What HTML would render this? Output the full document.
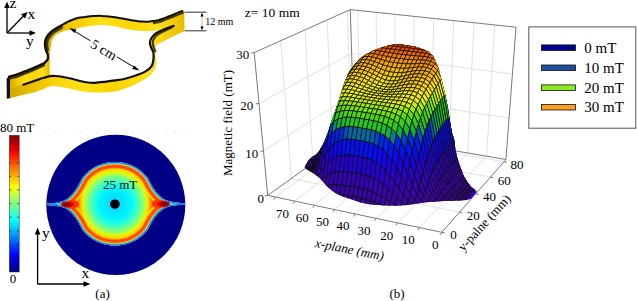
<!DOCTYPE html><html><head><meta charset="utf-8"><style>html,body{margin:0;padding:0;background:#fff;width:637px;height:301px;overflow:hidden}svg{display:block}</style></head><body><svg width="637" height="301" viewBox="0 0 637 301"><defs><clipPath id="sclip"><path d="M304.7,167.6L305.5,165.4L307.7,161.6L309.9,158.7L312.0,156.8L314.7,155.2L318.6,151.9L322.0,146.6L324.6,141.2L326.6,135.9L328.6,130.6L330.3,125.3L331.9,120.0L333.0,117.0L335.5,110.0L338.0,102.5L340.5,95.0L343.0,86.5L345.2,80.5L346.6,77.8L348.0,73.9L350.6,69.2L354.6,63.9L359.9,58.6L366.6,53.9L373.2,50.6L379.8,48.0L386.5,46.0L393.1,44.4L400.0,44.2L408.3,45.5L416.6,47.1L423.3,49.3L429.1,52.1L433.2,56.3L436.5,62.9L439.0,69.6L440.7,76.2L442.4,82.9L443.5,87.8L445.0,93.3L446.6,101.6L448.3,110.0L449.6,118.2L450.8,126.5L452.3,134.0L454.0,139.1L455.2,148.3L457.2,157.4L460.1,166.5L463.7,175.7L466.8,181.0L468.9,184.1L471.0,186.7L473.0,188.3L475.1,189.8L476.9,191.9L475.1,194.0L473.0,196.6L471.0,198.7L466.8,199.9L456.5,200.4L446.1,200.7L435.7,201.5L425.4,202.3L415.0,203.8L407.2,205.1L397.7,205.4L388.3,205.4L378.9,205.1L369.4,204.2L360.0,202.2L355.0,200.4L350.0,198.8L345.0,197.2L340.0,195.3L335.0,192.8L332.0,190.6L328.0,187.2L324.0,182.8L320.0,178.3L315.0,174.3L310.0,171.1L307.0,169.6Z"/></clipPath><linearGradient id="sbase" gradientUnits="userSpaceOnUse" x1="0" y1="40" x2="0" y2="210"><stop offset="0" stop-color="#e04000"/><stop offset="0.1" stop-color="#f07000"/><stop offset="0.25" stop-color="#e8c000"/><stop offset="0.4" stop-color="#c0e000"/><stop offset="0.5" stop-color="#30b020"/><stop offset="0.57" stop-color="#0060b0"/><stop offset="0.65" stop-color="#1010e0"/><stop offset="0.8" stop-color="#3000c0"/><stop offset="1" stop-color="#3c00a0"/></linearGradient></defs><!-- top-left axes glyph -->
<g stroke="#000" stroke-width="1.3" fill="none">
<line x1="7" y1="33" x2="7" y2="6"/>
<line x1="7" y1="33" x2="31" y2="33"/>
<line x1="7" y1="33" x2="24" y2="15.5"/>
</g>
<g fill="#000">
<polygon points="7,1.5 4.2,8 9.8,8"/>
<polygon points="36,33 29.5,30.2 29.5,35.8"/>
<polygon points="27.5,12 21,14.3 25.2,18.5"/>
</g>
<g font-family="Liberation Serif, serif" font-size="15.5" fill="#000">
<text x="9.5" y="8">z</text>
<text x="27.5" y="19">x</text>
<text x="26" y="46">y</text>
</g>
<!-- ring -->
<defs><linearGradient id="gold" x1="0" y1="0" x2="1" y2="0"><stop offset="0" stop-color="#d4aa00"/><stop offset="0.2" stop-color="#f4cc00"/><stop offset="0.4" stop-color="#ffe018"/><stop offset="0.6" stop-color="#f8d400"/><stop offset="0.8" stop-color="#ffe020"/><stop offset="1" stop-color="#e8bc00"/></linearGradient></defs>
<path fill="url(#gold)" d="M45.0,44.0 C45.1,43.2 45.0,41.0 45.5,39.5 C46.0,38.0 46.8,36.5 48.0,35.0 C49.2,33.5 50.8,32.0 53.0,30.5 C55.2,28.9 58.7,27.1 61.0,25.7 C63.3,24.3 65.0,23.2 67.0,22.2 C69.0,21.2 71.1,20.3 73.3,19.5 C75.5,18.7 77.5,18.1 80.0,17.6 C82.5,17.1 85.8,16.7 88.3,16.4 C90.8,16.1 92.8,16.1 95.0,16.0 C97.2,15.9 99.3,15.8 101.5,15.9 C103.7,16.0 105.8,16.2 108.0,16.4 C110.2,16.6 112.6,16.9 114.8,17.2 C117.0,17.5 118.8,17.9 121.0,18.3 C123.2,18.7 125.7,19.2 128.0,19.6 C130.3,20.0 132.7,20.5 135.0,20.8 C137.3,21.1 139.8,21.5 142.0,21.6 C144.2,21.8 146.0,21.8 148.0,21.7 C150.0,21.6 152.2,21.4 153.9,21.1 C155.7,20.8 156.9,20.5 158.5,20.1 C160.1,19.7 161.5,19.2 163.2,18.6 C164.9,18.0 166.7,17.2 168.5,16.5 C170.3,15.8 172.2,15.1 173.8,14.4 C175.4,13.8 176.6,13.2 178.0,12.6 C179.4,12.0 181.7,11.3 182.4,11.0 L184.4,11.6 L184.4,27.0 C182.6,26.8 177.9,25.5 173.8,26.0 C169.7,26.5 164.3,29.2 160.0,30.0 C155.7,30.8 151.3,30.9 148.0,31.0 C144.7,31.1 143.3,31.2 140.0,30.9 C136.7,30.6 132.2,30.0 128.0,29.2 C123.8,28.4 119.2,26.9 114.8,26.2 C110.4,25.5 105.9,24.9 101.5,24.9 C97.1,24.9 92.7,25.5 88.3,26.2 C83.9,26.9 78.7,28.2 75.0,28.9 C71.3,29.6 68.5,29.9 66.0,30.5 C63.5,31.1 61.8,31.7 60.0,32.5 C58.2,33.3 56.3,34.2 55.0,35.5 C53.7,36.8 52.7,38.4 52.0,40.0 C51.3,41.6 51.3,43.3 51.0,45.0 C50.7,46.7 50.5,48.5 50.3,50.0 C50.0,51.5 50.3,53.7 49.5,54.0 C48.7,54.3 46.2,52.3 45.5,52.0 Z"/>
<polygon fill="url(#gold)" points="45.5,50.6 47.5,54.5 47.5,59.0 44.3,63.0 41.6,64.5 33.3,68.3 25.0,71.6 16.6,75.0 10.0,76.6 10.0,90.0 23.3,84.5 38.3,79.6 45.0,77.5 50.0,76.0 49.5,68.0 50.0,60.0 49.5,52.0"/>
<path fill="url(#gold)" d="M184.4,26.0 L173.8,25.6 C172.0,26.3 166.3,28.3 163.2,29.6 C160.1,30.9 157.2,32.2 155.2,33.6 C153.2,35.0 152.1,36.8 151.2,38.3 C150.3,39.8 149.9,40.8 149.9,42.3 C149.9,43.8 150.6,46.0 151.2,47.6 C151.8,49.2 152.8,50.3 153.2,51.6 C153.6,52.9 153.6,54.1 153.6,55.5 C153.6,56.9 153.7,58.2 153.3,60.0 C153.0,61.8 152.8,64.3 151.5,66.2 C150.2,68.1 148.2,69.6 145.5,71.2 C142.8,72.8 138.4,74.4 135.0,75.6 C131.6,76.8 128.3,77.7 125.0,78.5 C121.7,79.3 118.3,79.7 115.0,80.2 C111.7,80.7 108.3,81.2 105.0,81.6 C101.7,82.0 97.8,82.5 95.0,82.6 C92.2,82.7 90.5,82.6 88.0,82.3 C85.5,82.0 82.7,81.4 80.0,80.8 C77.3,80.2 74.8,79.3 72.0,78.6 C69.2,77.9 66.1,77.3 63.3,76.8 C60.5,76.3 57.2,75.9 55.0,75.8 C52.8,75.7 51.7,75.8 50.0,76.0 C48.3,76.2 47.0,76.7 45.0,77.3 C43.0,77.9 41.9,78.2 38.3,79.4 C34.7,80.6 25.8,83.7 23.3,84.5 L10.0,88.0 L10.0,98.2 C11.1,97.9 14.1,97.2 16.6,96.6 C19.1,96.0 22.2,95.2 25.0,94.5 C27.8,93.8 30.8,93.2 33.3,92.5 C35.8,91.8 38.0,90.9 40.0,90.2 C42.0,89.5 43.3,89.1 45.0,88.4 C46.7,87.8 48.2,86.7 50.0,86.3 C51.8,85.9 53.8,86.1 56.0,86.3 C58.2,86.5 61.0,86.9 63.3,87.3 C65.6,87.7 67.8,88.3 70.0,88.8 C72.2,89.3 74.4,89.8 76.6,90.3 C78.8,90.8 80.8,91.3 83.0,91.6 C85.2,91.9 87.7,92.1 89.9,92.3 C92.1,92.5 93.8,92.6 96.0,92.6 C98.2,92.6 100.9,92.5 103.2,92.4 C105.5,92.3 107.7,92.2 110.0,92.0 C112.3,91.8 114.2,91.7 117.0,91.0 C119.8,90.3 123.8,89.0 126.6,88.0 C129.4,87.0 131.6,86.1 134.0,85.0 C136.4,83.9 138.6,82.5 141.0,81.2 C143.4,79.9 146.3,78.5 148.2,77.0 C150.1,75.5 151.3,74.1 152.5,72.5 C153.7,70.9 154.8,69.2 155.4,67.5 C156.0,65.8 156.2,64.1 156.3,62.5 C156.4,60.9 156.0,59.5 155.8,58.0 C155.7,56.5 155.6,54.9 155.4,53.5 C155.2,52.1 154.6,50.9 154.8,49.5 C155.0,48.1 155.3,46.2 156.5,45.0 C157.7,43.8 159.8,43.2 162.0,42.0 C164.2,40.8 167.5,39.2 170.0,38.0 C172.5,36.8 174.6,35.7 177.0,34.5 C179.4,33.3 183.2,31.5 184.4,30.9 Z"/>
<g fill="none" stroke-linejoin="round" stroke-linecap="round">
<path stroke="#4a3c00" stroke-width="2.4" d="M154.0,23.0 C154.8,22.8 157.0,22.4 158.5,22.0 C160.0,21.6 161.5,21.1 163.2,20.5 C164.9,19.9 166.7,19.1 168.5,18.4 C170.3,17.7 172.2,16.9 173.8,16.3 C175.4,15.7 176.5,15.1 178.0,14.5 C179.5,13.9 181.8,13.2 182.6,12.9"/>
<path stroke="#4a3c00" stroke-width="2.6" d="M62.0,27.5 C60.7,28.3 56.1,30.6 54.0,32.2 C51.9,33.8 50.4,35.5 49.3,37.0 C48.2,38.5 47.7,40.0 47.3,41.5 C46.9,43.0 47.0,44.6 47.0,46.0 C47.0,47.4 47.5,49.3 47.6,50.0"/>
<path stroke="#4a3c00" stroke-width="2.4" d="M44.0,65.2 C43.6,65.4 43.4,65.6 41.6,66.4 C39.8,67.2 36.1,69.0 33.3,70.2 C30.5,71.4 27.8,72.4 25.0,73.5 C22.2,74.6 19.0,76.0 16.6,76.8 C14.2,77.6 11.5,78.0 10.5,78.3"/>
<path stroke="#4a3c00" stroke-width="2.2" d="M172.0,27.3 C170.6,28.0 166.1,30.0 163.6,31.3 C161.1,32.6 158.8,33.7 157.2,35.0 C155.6,36.3 154.5,37.8 153.8,39.0 C153.1,40.2 152.8,41.1 152.8,42.5 C152.8,43.9 153.2,45.8 153.6,47.3 C154.0,48.8 155.1,50.6 155.4,51.2"/>
</g><g fill="none" stroke="#141000" stroke-linejoin="round" stroke-linecap="round">
<path stroke-width="2" d="M61.0,25.7 C62.0,25.1 65.0,23.2 67.0,22.2 C69.0,21.2 71.1,20.3 73.3,19.5 C75.5,18.7 77.5,18.1 80.0,17.6 C82.5,17.1 85.8,16.7 88.3,16.4 C90.8,16.1 92.8,16.1 95.0,16.0 C97.2,15.9 99.3,15.8 101.5,15.9 C103.7,16.0 105.8,16.2 108.0,16.4 C110.2,16.6 112.6,16.9 114.8,17.2 C117.0,17.5 118.8,17.9 121.0,18.3 C123.2,18.7 125.7,19.2 128.0,19.6 C130.3,20.0 132.7,20.5 135.0,20.8 C137.3,21.1 139.8,21.5 142.0,21.6 C144.2,21.8 146.0,21.8 148.0,21.7 C150.0,21.6 152.2,21.4 153.9,21.1 C155.7,20.8 156.9,20.5 158.5,20.1 C160.1,19.7 161.5,19.2 163.2,18.6 C164.9,18.0 166.7,17.2 168.5,16.5 C170.3,15.8 172.2,15.1 173.8,14.4 C175.4,13.8 176.6,13.2 178.0,12.6 C179.4,12.0 181.7,11.3 182.4,11.0"/>
<path stroke-width="2.4" d="M61.0,25.7 C59.6,26.5 54.8,29.0 52.6,30.6 C50.4,32.2 48.8,33.9 47.6,35.6 C46.4,37.3 45.8,38.9 45.4,40.6 C45.0,42.3 45.0,43.9 45.1,45.6 C45.2,47.3 45.7,49.1 46.1,50.6 C46.5,52.1 47.5,53.1 47.8,54.5 C48.1,55.9 48.3,57.7 47.8,59.0 C47.3,60.3 46.0,61.6 45.0,62.5 C44.0,63.4 43.6,63.5 41.6,64.4 C39.6,65.3 36.1,66.9 33.3,68.1 C30.5,69.3 27.8,70.3 25.0,71.4 C22.2,72.5 19.3,73.7 16.6,74.6 C13.9,75.5 10.3,76.4 9.0,76.8"/>
<path stroke-width="2.2" d="M173.8,25.8 C172.0,26.5 166.3,28.5 163.2,29.8 C160.1,31.1 157.2,32.4 155.2,33.8 C153.2,35.3 152.1,37.0 151.2,38.5 C150.3,40.0 149.9,41.0 149.9,42.5 C149.9,44.0 150.6,46.2 151.2,47.8 C151.8,49.4 152.8,50.5 153.2,51.8 C153.6,53.1 153.6,54.3 153.6,55.7 C153.6,57.1 153.7,58.4 153.3,60.2 C153.0,62.0 152.8,64.5 151.5,66.4 C150.2,68.3 148.2,69.8 145.5,71.4 C142.8,73.0 138.4,74.6 135.0,75.8 C131.6,77.0 128.3,77.9 125.0,78.7 C121.7,79.5 118.3,79.9 115.0,80.4 C111.7,80.9 108.3,81.4 105.0,81.8 C101.7,82.2 97.8,82.7 95.0,82.8 C92.2,82.9 90.5,82.8 88.0,82.5 C85.5,82.2 82.7,81.6 80.0,81.0 C77.3,80.4 74.8,79.5 72.0,78.8 C69.2,78.1 66.1,77.5 63.3,77.0 C60.5,76.5 57.2,76.1 55.0,76.0 C52.8,75.9 51.7,76.0 50.0,76.2 C48.3,76.5 47.0,76.9 45.0,77.5 C43.0,78.1 41.9,78.4 38.3,79.6 C34.7,80.8 25.8,83.9 23.3,84.7"/>
</g>
<polygon fill="#111" points="6.6,78.3 10,76.6 10,98.2 6.8,98.8"/>
<!-- 12 mm -->
<g stroke="#333" stroke-width="1">
<line x1="184.5" y1="12.2" x2="206.5" y2="12.2"/>
<line x1="184.5" y1="30.8" x2="206.5" y2="30.8"/>
</g>
<line x1="202" y1="14" x2="202" y2="29" stroke="#bbb" stroke-width="1"/>
<polygon points="202,12.7 200.4,16.5 203.6,16.5" fill="#000"/>
<polygon points="202,30.3 200.4,26.5 203.6,26.5" fill="#000"/>
<text x="205.3" y="24.6" font-family="Liberation Serif, serif" font-size="10" fill="#000">12 mm</text>
<!-- 5 cm arrow -->
<g stroke="#000" stroke-width="1">
<line x1="72" y1="29.7" x2="90.4" y2="40.8"/>
<line x1="117" y1="56.9" x2="136.5" y2="68.7"/>
</g>
<polygon points="69.2,28 76.5,29.6 74.4,33.1" fill="#000"/>
<polygon points="139.5,70.5 132.2,68.9 134.3,65.4" fill="#000"/>
<text transform="translate(104,49.5) rotate(31.2)" text-anchor="middle" y="5" font-family="Liberation Serif, serif" font-size="14" fill="#000">5 cm</text>
<defs>
<linearGradient id="jet" x1="0" y1="0" x2="0" y2="1">
<stop offset="0" stop-color="#800000"/><stop offset="0.125" stop-color="#ff0000"/><stop offset="0.375" stop-color="#ffff00"/><stop offset="0.625" stop-color="#00ffff"/><stop offset="0.875" stop-color="#0000ff"/><stop offset="1" stop-color="#000080"/>
</linearGradient>
<radialGradient id="eye" cx="115" cy="203.8" r="41.8" gradientUnits="userSpaceOnUse">
<stop offset="0" stop-color="#18d0ff"/><stop offset="0.12" stop-color="#10d8ff"/><stop offset="0.24" stop-color="#00e8ff"/><stop offset="0.36" stop-color="#00f4ff"/><stop offset="0.48" stop-color="#20ffe0"/><stop offset="0.6" stop-color="#60ffa0"/><stop offset="0.67" stop-color="#90ff70"/><stop offset="0.72" stop-color="#b8ff40"/><stop offset="0.77" stop-color="#e8f800"/><stop offset="0.82" stop-color="#ffc000"/><stop offset="0.88" stop-color="#ff7000"/><stop offset="1" stop-color="#ff3000"/>
</radialGradient>
<clipPath id="eyeclip"><path d="M82.5,177.5 A41.8,41.8 0 0 1 147.5,177.5 C151.5,185.5 156.5,195.5 166,200.2 C172,202.4 178,203 185.8,203.4 L185.8,204.6 C178,205 172,205.4 166,207.4 C156.5,212 151.5,222 147.5,230.1 A41.8,41.8 0 0 1 82.5,230.1 C78.5,222 73.5,212 64,207.6 C58,205.6 52,205.1 45.8,204.9 L45.8,203.7 C52,203.5 58,203 64,200.8 C73.5,196 78.5,185.5 82.5,177.5 Z"/></clipPath>
<filter id="soft" x="-5%" y="-5%" width="110%" height="110%"><feGaussianBlur stdDeviation="0.6"/></filter>
<clipPath id="disk"><ellipse cx="115.8" cy="204.85" rx="69.5" ry="70.2"/></clipPath>
</defs>
<!-- colorbar -->
<rect x="9.3" y="135.3" width="9.9" height="136.7" fill="url(#jet)" stroke="#333" stroke-width="0.5"/>
<g stroke="#222" stroke-width="0.7">
<path d="M9.3 149h2M9.3 162.7h2M9.3 176.3h2M9.3 190h2M9.3 203.6h2M9.3 217.3h2M9.3 231h2M9.3 244.6h2M9.3 258.3h2M19.2 149h-2M19.2 162.7h-2M19.2 176.3h-2M19.2 190h-2M19.2 203.6h-2M19.2 217.3h-2M19.2 231h-2M19.2 244.6h-2M19.2 258.3h-2"/>
</g>
<g font-family="Liberation Serif, serif" font-size="13" fill="#000">
<text x="0" y="132.4">80 mT</text>
<text x="9.8" y="283">0</text>
</g>
<!-- heat map -->
<line x1="46" y1="132.6" x2="186" y2="132.6" stroke="#d8d8d8" stroke-width="1" stroke-dasharray="1 7.6"/>
<ellipse cx="115.8" cy="204.85" rx="69.5" ry="70.2" fill="#000086"/>
<g clip-path="url(#disk)"><g filter="url(#soft)">
<g clip-path="url(#eyeclip)">
<path d="M82.5,177.5 A41.8,41.8 0 0 1 147.5,177.5 C151.5,185.5 156.5,195.5 166,200.2 C172,202.4 178,203 185.8,203.4 L185.8,204.6 C178,205 172,205.4 166,207.4 C156.5,212 151.5,222 147.5,230.1 A41.8,41.8 0 0 1 82.5,230.1 C78.5,222 73.5,212 64,207.6 C58,205.6 52,205.1 45.8,204.9 L45.8,203.7 C52,203.5 58,203 64,200.8 C73.5,196 78.5,185.5 82.5,177.5 Z" fill="url(#eye)"/>
<g fill="none" stroke-linejoin="round">
<path d="M82.5,177.5 A41.8,41.8 0 0 1 147.5,177.5 C151.5,185.5 156.5,195.5 166,200.2 C172,202.4 178,203 185.8,203.4 L185.8,204.6 C178,205 172,205.4 166,207.4 C156.5,212 151.5,222 147.5,230.1 A41.8,41.8 0 0 1 82.5,230.1 C78.5,222 73.5,212 64,207.6 C58,205.6 52,205.1 45.8,204.9 L45.8,203.7 C52,203.5 58,203 64,200.8 C73.5,196 78.5,185.5 82.5,177.5 Z" stroke="#ffe800" stroke-width="16.4"/>
<path d="M82.5,177.5 A41.8,41.8 0 0 1 147.5,177.5 C151.5,185.5 156.5,195.5 166,200.2 C172,202.4 178,203 185.8,203.4 L185.8,204.6 C178,205 172,205.4 166,207.4 C156.5,212 151.5,222 147.5,230.1 A41.8,41.8 0 0 1 82.5,230.1 C78.5,222 73.5,212 64,207.6 C58,205.6 52,205.1 45.8,204.9 L45.8,203.7 C52,203.5 58,203 64,200.8 C73.5,196 78.5,185.5 82.5,177.5 Z" stroke="#ff9400" stroke-width="13.6"/>
<path d="M82.5,177.5 A41.8,41.8 0 0 1 147.5,177.5 C151.5,185.5 156.5,195.5 166,200.2 C172,202.4 178,203 185.8,203.4 L185.8,204.6 C178,205 172,205.4 166,207.4 C156.5,212 151.5,222 147.5,230.1 A41.8,41.8 0 0 1 82.5,230.1 C78.5,222 73.5,212 64,207.6 C58,205.6 52,205.1 45.8,204.9 L45.8,203.7 C52,203.5 58,203 64,200.8 C73.5,196 78.5,185.5 82.5,177.5 Z" stroke="#ff4c00" stroke-width="11.4"/>
<path d="M82.5,177.5 A41.8,41.8 0 0 1 147.5,177.5 C151.5,185.5 156.5,195.5 166,200.2 C172,202.4 178,203 185.8,203.4 L185.8,204.6 C178,205 172,205.4 166,207.4 C156.5,212 151.5,222 147.5,230.1 A41.8,41.8 0 0 1 82.5,230.1 C78.5,222 73.5,212 64,207.6 C58,205.6 52,205.1 45.8,204.9 L45.8,203.7 C52,203.5 58,203 64,200.8 C73.5,196 78.5,185.5 82.5,177.5 Z" stroke="#ffc000" stroke-width="5.6"/>
<path d="M82.5,177.5 A41.8,41.8 0 0 1 147.5,177.5 C151.5,185.5 156.5,195.5 166,200.2 C172,202.4 178,203 185.8,203.4 L185.8,204.6 C178,205 172,205.4 166,207.4 C156.5,212 151.5,222 147.5,230.1 A41.8,41.8 0 0 1 82.5,230.1 C78.5,222 73.5,212 64,207.6 C58,205.6 52,205.1 45.8,204.9 L45.8,203.7 C52,203.5 58,203 64,200.8 C73.5,196 78.5,185.5 82.5,177.5 Z" stroke="#20d0ff" stroke-width="3.6"/>
<path d="M82.5,177.5 A41.8,41.8 0 0 1 147.5,177.5 C151.5,185.5 156.5,195.5 166,200.2 C172,202.4 178,203 185.8,203.4 L185.8,204.6 C178,205 172,205.4 166,207.4 C156.5,212 151.5,222 147.5,230.1 A41.8,41.8 0 0 1 82.5,230.1 C78.5,222 73.5,212 64,207.6 C58,205.6 52,205.1 45.8,204.9 L45.8,203.7 C52,203.5 58,203 64,200.8 C73.5,196 78.5,185.5 82.5,177.5 Z" stroke="#0060ff" stroke-width="1.6"/>
</g>
<ellipse cx="72" cy="204.4" rx="7" ry="4.5" fill="#ff3000"/>
<ellipse cx="67.5" cy="204.4" rx="6.5" ry="3" fill="#e00000"/>
<ellipse cx="66.5" cy="204.4" rx="4" ry="1.8" fill="#800000"/>
<ellipse cx="159" cy="203.9" rx="7" ry="4.5" fill="#ff3000"/>
<ellipse cx="163.5" cy="203.9" rx="6.5" ry="3" fill="#e00000"/>
<ellipse cx="164.5" cy="203.9" rx="4" ry="1.8" fill="#800000"/>
</g>
</g></g>
<circle cx="114.9" cy="204.2" r="4.8" fill="#000"/>
<text x="103" y="189" font-family="Liberation Serif, serif" font-size="13" fill="#000">25 mT</text>
<!-- bottom axes -->
<g stroke="#000" stroke-width="1.3" fill="none">
<line x1="37.6" y1="284" x2="37.6" y2="233"/>
<line x1="37.6" y1="284" x2="85" y2="284"/>
</g>
<polygon points="37.6,227.5 34.8,234.5 40.4,234.5" fill="#000"/>
<polygon points="90.5,284 83.5,281.2 83.5,286.8" fill="#000"/>
<g font-family="Liberation Serif, serif" font-size="15.5" fill="#000">
<text x="42" y="238">y</text>
<text x="81.5" y="277.8">x</text>
</g>
<g font-family="Liberation Serif, serif" font-size="13" fill="#000">
<text x="95.3" y="298">(a)</text>
<text x="389.5" y="298">(b)</text>
</g>
<g stroke="#d9d9d9" stroke-width="0.8"><line x1="291.3" y1="178.5" x2="280.7" y2="40.7" /><line x1="459.5" y1="212.2" x2="291.3" y2="178.5" /><line x1="313.0" y1="163.0" x2="304.9" y2="29.9" /><line x1="475.7" y1="193.9" x2="313.0" y2="163.0" /><line x1="332.9" y1="148.7" x2="327.1" y2="20.0" /><line x1="490.4" y1="177.1" x2="332.9" y2="148.7" /><line x1="351.4" y1="135.5" x2="347.4" y2="10.9" /><line x1="504.0" y1="161.7" x2="351.4" y2="135.5" /><line x1="486.6" y1="156.2" x2="494.8" y2="25.0" /><line x1="419.4" y1="227.5" x2="486.6" y2="156.2" /><line x1="467.6" y1="153.0" x2="474.0" y2="22.8" /><line x1="397.5" y1="222.9" x2="467.6" y2="153.0" /><line x1="449.0" y1="149.8" x2="453.7" y2="20.6" /><line x1="376.0" y1="218.3" x2="449.0" y2="149.8" /><line x1="430.7" y1="146.7" x2="433.7" y2="18.5" /><line x1="355.0" y1="213.9" x2="430.7" y2="146.7" /><line x1="412.8" y1="143.6" x2="414.1" y2="16.4" /><line x1="334.4" y1="209.5" x2="412.8" y2="143.6" /><line x1="395.1" y1="140.6" x2="394.9" y2="14.4" /><line x1="314.3" y1="205.2" x2="395.1" y2="140.6" /><line x1="377.8" y1="137.7" x2="376.1" y2="12.4" /><line x1="294.6" y1="201.1" x2="377.8" y2="137.7" /><line x1="360.8" y1="134.8" x2="357.6" y2="10.4" /><line x1="275.3" y1="197.0" x2="360.8" y2="134.8" /><line x1="263.5" y1="150.9" x2="352.9" y2="94.6" /><line x1="509.1" y1="118.0" x2="352.9" y2="94.6" /><line x1="259.0" y1="103.4" x2="351.6" y2="53.3" /><line x1="512.5" y1="74.0" x2="351.6" y2="53.3" /></g><g stroke="#7a7a7a" stroke-width="1"><line x1="254.2" y1="52.6" x2="267.7" y2="195.4" /><line x1="254.2" y1="52.6" x2="350.3" y2="9.6" /><line x1="350.3" y1="9.6" x2="516.0" y2="27.2" /><line x1="516.0" y1="27.2" x2="505.9" y2="159.5" /><line x1="441.9" y1="232.3" x2="267.7" y2="195.4" /><line x1="441.9" y1="232.3" x2="505.9" y2="159.5" /><line x1="350.3" y1="9.6" x2="354.1" y2="133.6" /><line x1="354.1" y1="133.6" x2="267.7" y2="195.4" /><line x1="354.1" y1="133.6" x2="505.9" y2="159.5" /><line x1="267.7" y1="195.4" x2="264.7" y2="195.9"/><line x1="263.5" y1="150.9" x2="260.5" y2="151.4"/><line x1="259.0" y1="103.4" x2="256.0" y2="103.9"/><line x1="254.2" y1="52.6" x2="251.2" y2="53.1"/><line x1="441.9" y1="232.3" x2="440.4" y2="234.9"/><line x1="419.4" y1="227.5" x2="417.9" y2="230.1"/><line x1="397.5" y1="222.9" x2="396.0" y2="225.5"/><line x1="376.0" y1="218.3" x2="374.5" y2="220.9"/><line x1="355.0" y1="213.9" x2="353.5" y2="216.5"/><line x1="334.4" y1="209.5" x2="332.9" y2="212.1"/><line x1="314.3" y1="205.2" x2="312.8" y2="207.8"/><line x1="294.6" y1="201.1" x2="293.1" y2="203.7"/><line x1="275.3" y1="197.0" x2="273.8" y2="199.6"/><line x1="441.9" y1="232.3" x2="444.7" y2="232.9"/><line x1="459.5" y1="212.2" x2="462.3" y2="212.8"/><line x1="475.7" y1="193.9" x2="478.5" y2="194.5"/><line x1="490.4" y1="177.1" x2="493.2" y2="177.7"/><line x1="504.0" y1="161.7" x2="506.8" y2="162.3"/></g><g clip-path="url(#sclip)"><rect x="300" y="40" width="182" height="170" fill="url(#sbase)"/><g stroke="#101010" stroke-width="0.8" stroke-linejoin="round"><path d="M355.6,130.2L352.1,129.6L353.9,128.3L357.5,128.9Z" fill="#3c069b"/><path d="M359.2,130.8L355.6,130.2L357.5,128.9L361.0,129.5Z" fill="#3c069b"/><path d="M362.8,131.3L359.2,130.8L361.0,129.5L364.6,130.0Z" fill="#3c069b"/><path d="M353.8,131.5L350.2,130.9L352.1,129.6L355.6,130.2Z" fill="#3c069b"/><path d="M366.3,131.9L362.8,131.3L364.6,130.0L368.1,130.6Z" fill="#3c069b"/><path d="M357.4,132.1L353.8,131.5L355.6,130.2L359.2,130.8Z" fill="#3c069b"/><path d="M369.9,132.5L366.3,131.9L368.1,130.6L371.7,131.2Z" fill="#3c069b"/><path d="M360.9,132.6L357.4,132.1L359.2,130.8L362.8,131.3Z" fill="#3c069b"/><path d="M351.9,132.8L348.4,132.2L350.2,130.9L353.8,131.5Z" fill="#3c069b"/><path d="M373.6,133.1L369.9,132.5L371.7,131.2L375.3,131.8Z" fill="#3c069b"/><path d="M364.5,133.2L360.9,132.6L362.8,131.3L366.3,131.9Z" fill="#3c069b"/><path d="M355.5,133.4L351.9,132.8L353.8,131.5L357.4,132.1Z" fill="#3c069b"/><path d="M377.2,133.6L373.6,133.1L375.3,131.8L379.0,132.4Z" fill="#3c069b"/><path d="M368.1,133.8L364.5,133.2L366.3,131.9L369.9,132.5Z" fill="#3c069b"/><path d="M359.1,133.9L355.5,133.4L357.4,132.1L360.9,132.6Z" fill="#3c069b"/><path d="M350.0,134.1L346.5,133.5L348.4,132.2L351.9,132.8Z" fill="#3c069b"/><path d="M380.8,134.1L377.2,133.6L379.0,132.4L382.6,132.9Z" fill="#3c069b"/><path d="M371.8,134.3L368.1,133.8L369.9,132.5L373.6,133.1Z" fill="#3c069b"/><path d="M362.7,134.5L359.1,133.9L360.9,132.6L364.5,133.2Z" fill="#3c069b"/><path d="M353.6,134.7L350.0,134.1L351.9,132.8L355.5,133.4Z" fill="#3c069b"/><path d="M384.5,134.6L380.8,134.1L382.6,132.9L386.2,133.5Z" fill="#3c069b"/><path d="M375.4,134.8L371.8,134.3L373.6,133.1L377.2,133.6Z" fill="#3c069b"/><path d="M366.3,135.0L362.7,134.5L364.5,133.2L368.1,133.8Z" fill="#3c069b"/><path d="M357.2,135.2L353.6,134.7L355.5,133.4L359.1,133.9Z" fill="#3c069b"/><path d="M348.2,135.4L344.6,134.8L346.5,133.5L350.0,134.1Z" fill="#3c069b"/><path d="M388.2,135.1L384.5,134.6L386.2,133.5L389.9,134.0Z" fill="#3c069b"/><path d="M379.1,135.2L375.4,134.8L377.2,133.6L380.8,134.1Z" fill="#3c069b"/><path d="M370.0,135.4L366.3,135.0L368.1,133.8L371.8,134.3Z" fill="#3c069b"/><path d="M360.9,135.8L357.2,135.2L359.1,133.9L362.7,134.5Z" fill="#3c069b"/><path d="M351.8,136.0L348.2,135.4L350.0,134.1L353.6,134.7Z" fill="#3c069b"/><path d="M391.8,135.5L388.2,135.1L389.9,134.0L393.6,134.6Z" fill="#3c069c"/><path d="M382.7,135.6L379.1,135.2L380.8,134.1L384.5,134.6Z" fill="#3c069c"/><path d="M373.6,135.8L370.0,135.4L371.8,134.3L375.4,134.8Z" fill="#3c069c"/><path d="M364.5,136.2L360.9,135.8L362.7,134.5L366.3,135.0Z" fill="#3c069b"/><path d="M355.4,136.5L351.8,136.0L353.6,134.7L357.2,135.2Z" fill="#3c069b"/><path d="M346.3,136.8L342.7,136.2L344.6,134.8L348.2,135.4Z" fill="#3c069b"/><path d="M395.5,136.0L391.8,135.5L393.6,134.6L397.2,135.1Z" fill="#3c069c"/><path d="M386.4,135.9L382.7,135.6L384.5,134.6L388.2,135.1Z" fill="#3c069c"/><path d="M377.3,136.1L373.6,135.8L375.4,134.8L379.1,135.2Z" fill="#3c069c"/><path d="M368.1,136.5L364.5,136.2L366.3,135.0L370.0,135.4Z" fill="#3c069c"/><path d="M359.0,137.0L355.4,136.5L357.2,135.2L360.9,135.8Z" fill="#3c069b"/><path d="M349.9,137.3L346.3,136.8L348.2,135.4L351.8,136.0Z" fill="#3c069b"/><path d="M399.2,136.5L395.5,136.0L397.2,135.1L400.9,135.7Z" fill="#3c069c"/><path d="M390.1,136.2L386.4,135.9L388.2,135.1L391.8,135.5Z" fill="#3c069c"/><path d="M380.9,136.2L377.3,136.1L379.1,135.2L382.7,135.6Z" fill="#3c069c"/><path d="M371.8,136.7L368.1,136.5L370.0,135.4L373.6,135.8Z" fill="#3c069c"/><path d="M362.6,137.3L359.0,137.0L360.9,135.8L364.5,136.2Z" fill="#3c069b"/><path d="M353.5,137.8L349.9,137.3L351.8,136.0L355.4,136.5Z" fill="#3c069b"/><path d="M344.3,138.1L340.7,137.5L342.7,136.2L346.3,136.8Z" fill="#3c069b"/><path d="M403.0,137.0L399.2,136.5L400.9,135.7L404.7,136.2Z" fill="#3c069c"/><path d="M393.8,136.4L390.1,136.2L391.8,135.5L395.5,136.0Z" fill="#3c069c"/><path d="M357.1,138.2L353.5,137.8L355.4,136.5L359.0,137.0Z" fill="#3c069b"/><path d="M366.3,137.4L362.6,137.3L364.5,136.2L368.1,136.5Z" fill="#3c069c"/><path d="M384.6,136.2L380.9,136.2L382.7,135.6L386.4,135.9Z" fill="#3c069c"/><path d="M348.0,138.6L344.3,138.1L346.3,136.8L349.9,137.3Z" fill="#3c069b"/><path d="M375.5,136.6L371.8,136.7L373.6,135.8L377.3,136.1Z" fill="#3c069c"/><path d="M406.7,137.5L403.0,137.0L404.7,136.2L408.4,136.8Z" fill="#3c069c"/><path d="M397.5,136.7L393.8,136.4L395.5,136.0L399.2,136.5Z" fill="#3c069c"/><path d="M351.6,139.1L348.0,138.6L349.9,137.3L353.5,137.8Z" fill="#3c069b"/><path d="M360.8,138.4L357.1,138.2L359.0,137.0L362.6,137.3Z" fill="#3c069c"/><path d="M342.4,139.4L338.8,138.9L340.7,137.5L344.3,138.1Z" fill="#3c069b"/><path d="M388.3,136.1L384.6,136.2L386.4,135.9L390.1,136.2Z" fill="#3c069d"/><path d="M370.0,137.2L366.3,137.4L368.1,136.5L371.8,136.7Z" fill="#3c069c"/><path d="M379.1,136.3L375.5,136.6L377.3,136.1L380.9,136.2Z" fill="#3c069d"/><path d="M410.5,138.0L406.7,137.5L408.4,136.8L412.1,137.4Z" fill="#3c069c"/><path d="M401.3,137.1L397.5,136.7L399.2,136.5L403.0,137.0Z" fill="#3c069d"/><path d="M355.2,139.4L351.6,139.1L353.5,137.8L357.1,138.2Z" fill="#3c069c"/><path d="M346.0,140.0L342.4,139.4L344.3,138.1L348.0,138.6Z" fill="#3c069b"/><path d="M364.4,138.2L360.8,138.4L362.6,137.3L366.3,137.4Z" fill="#3c069c"/><path d="M392.1,136.0L388.3,136.1L390.1,136.2L393.8,136.4Z" fill="#3c069d"/><path d="M373.6,136.6L370.0,137.2L371.8,136.7L375.5,136.6Z" fill="#3c069d"/><path d="M382.8,135.7L379.1,136.3L380.9,136.2L384.6,136.2Z" fill="#3c069e"/><path d="M414.2,138.6L410.5,138.0L412.1,137.4L415.9,138.0Z" fill="#3c069c"/><path d="M405.0,137.4L401.3,137.1L403.0,137.0L406.7,137.5Z" fill="#3c069d"/><path d="M349.7,140.3L346.0,140.0L348.0,138.6L351.6,139.1Z" fill="#3c069b"/><path d="M340.5,140.8L336.8,140.2L338.8,138.9L342.4,139.4Z" fill="#3c069b"/><path d="M358.9,139.3L355.2,139.4L357.1,138.2L360.8,138.4Z" fill="#3c069c"/><path d="M395.8,135.9L392.1,136.0L393.8,136.4L397.5,136.7Z" fill="#3c069e"/><path d="M368.1,137.4L364.4,138.2L366.3,137.4L370.0,137.2Z" fill="#3c069d"/><path d="M418.0,139.2L414.2,138.6L415.9,138.0L419.7,138.6Z" fill="#3c069c"/><path d="M377.3,135.5L373.6,136.6L375.5,136.6L379.1,136.3Z" fill="#3c069e"/><path d="M386.6,134.9L382.8,135.7L384.6,136.2L388.3,136.1Z" fill="#3c069f"/><path d="M408.8,137.9L405.0,137.4L406.7,137.5L410.5,138.0Z" fill="#3c069d"/><path d="M344.1,141.3L340.5,140.8L342.4,139.4L346.0,140.0Z" fill="#3c069b"/><path d="M353.3,140.5L349.7,140.3L351.6,139.1L355.2,139.4Z" fill="#3c069c"/><path d="M421.8,139.9L418.0,139.2L419.7,138.6L423.4,139.2Z" fill="#3c069c"/><path d="M362.5,138.6L358.9,139.3L360.8,138.4L364.4,138.2Z" fill="#3c069d"/><path d="M399.6,135.9L395.8,135.9L397.5,136.7L401.3,137.1Z" fill="#3c069f"/><path d="M371.8,135.8L368.1,137.4L370.0,137.2L373.6,136.6Z" fill="#3c069e"/><path d="M412.6,138.4L408.8,137.9L410.5,138.0L414.2,138.6Z" fill="#3c069d"/><path d="M390.3,134.0L386.6,134.9L388.3,136.1L392.1,136.0Z" fill="#3b06a1"/><path d="M347.7,141.6L344.1,141.3L346.0,140.0L349.7,140.3Z" fill="#3c069b"/><path d="M338.5,142.2L334.8,141.6L336.8,140.2L340.5,140.8Z" fill="#3c069b"/><path d="M381.0,133.8L377.3,135.5L379.1,136.3L382.8,135.7Z" fill="#3b06a1"/><path d="M357.0,140.1L353.3,140.5L355.2,139.4L358.9,139.3Z" fill="#3c069c"/><path d="M425.6,140.5L421.8,139.9L423.4,139.2L427.2,139.9Z" fill="#3c069c"/><path d="M403.3,136.0L399.6,135.9L401.3,137.1L405.0,137.4Z" fill="#3c069f"/><path d="M366.2,137.0L362.5,138.6L364.4,138.2L368.1,137.4Z" fill="#3c069e"/><path d="M416.4,139.0L412.6,138.4L414.2,138.6L418.0,139.2Z" fill="#3c069d"/><path d="M342.1,142.6L338.5,142.2L340.5,140.8L344.1,141.3Z" fill="#3c069b"/><path d="M351.4,141.5L347.7,141.6L349.7,140.3L353.3,140.5Z" fill="#3c069c"/><path d="M429.5,141.1L425.6,140.5L427.2,139.9L431.1,140.5Z" fill="#3c069c"/><path d="M394.1,133.1L390.3,134.0L392.1,136.0L395.8,135.9Z" fill="#3b06a2"/><path d="M375.4,133.3L371.8,135.8L373.6,136.6L377.3,135.5Z" fill="#3b06a2"/><path d="M407.1,136.2L403.3,136.0L405.0,137.4L408.8,137.9Z" fill="#3c06a0"/><path d="M360.6,138.7L357.0,140.1L358.9,139.3L362.5,138.6Z" fill="#3c069d"/><path d="M420.2,139.6L416.4,139.0L418.0,139.2L421.8,139.9Z" fill="#3c069d"/><path d="M384.7,131.6L381.0,133.8L382.8,135.7L386.6,134.9Z" fill="#3a05a4"/><path d="M336.5,143.5L332.9,143.0L334.8,141.6L338.5,142.2Z" fill="#3c069b"/><path d="M345.8,142.8L342.1,142.6L344.1,141.3L347.7,141.6Z" fill="#3c069c"/><path d="M433.3,141.8L429.5,141.1L431.1,140.5L434.9,141.2Z" fill="#3c069c"/><path d="M355.1,140.7L351.4,141.5L353.3,140.5L357.0,140.1Z" fill="#3c069d"/><path d="M369.8,133.9L366.2,137.0L368.1,137.4L371.8,135.8Z" fill="#3b06a2"/><path d="M411.0,136.6L407.1,136.2L408.8,137.9L412.6,138.4Z" fill="#3b06a0"/><path d="M397.8,132.3L394.1,133.1L395.8,135.9L399.6,135.9Z" fill="#3a05a4"/><path d="M424.1,140.3L420.2,139.6L421.8,139.9L425.6,140.5Z" fill="#3c069d"/><path d="M340.2,144.0L336.5,143.5L338.5,142.2L342.1,142.6Z" fill="#3c069b"/><path d="M437.2,142.5L433.3,141.8L434.9,141.2L438.7,141.8Z" fill="#3c069c"/><path d="M349.5,142.6L345.8,142.8L347.7,141.6L351.4,141.5Z" fill="#3c069c"/><path d="M364.3,135.8L360.6,138.7L362.5,138.6L366.2,137.0Z" fill="#3b06a1"/><path d="M379.1,129.7L375.4,133.3L377.3,135.5L381.0,133.8Z" fill="#3a05a7"/><path d="M388.5,129.2L384.7,131.6L386.6,134.9L390.3,134.0Z" fill="#3905a7"/><path d="M414.8,137.1L411.0,136.6L412.6,138.4L416.4,139.0Z" fill="#3b06a0"/><path d="M427.9,140.9L424.1,140.3L425.6,140.5L429.5,141.1Z" fill="#3c069d"/><path d="M401.6,131.8L397.8,132.3L399.6,135.9L403.3,136.0Z" fill="#3a05a6"/><path d="M358.7,138.5L355.1,140.7L357.0,140.1L360.6,138.7Z" fill="#3c069f"/><path d="M441.0,143.2L437.2,142.5L438.7,141.8L442.6,142.5Z" fill="#3c069c"/><path d="M334.5,144.9L330.8,144.4L332.9,143.0L336.5,143.5Z" fill="#3c069b"/><path d="M343.8,144.1L340.2,144.0L342.1,142.6L345.8,142.8Z" fill="#3c069c"/><path d="M431.8,141.6L427.9,140.9L429.5,141.1L433.3,141.8Z" fill="#3c069d"/><path d="M418.6,137.7L414.8,137.1L416.4,139.0L420.2,139.6Z" fill="#3b06a0"/><path d="M353.1,141.2L349.5,142.6L351.4,141.5L355.1,140.7Z" fill="#3c069d"/><path d="M373.5,129.2L369.8,133.9L371.8,135.8L375.4,133.3Z" fill="#3905a8"/><path d="M444.9,143.9L441.0,143.2L442.6,142.5L446.5,143.2Z" fill="#3c069c"/><path d="M338.2,145.3L334.5,144.9L336.5,143.5L340.2,144.0Z" fill="#3c069b"/><path d="M405.5,131.6L401.6,131.8L403.3,136.0L407.1,136.2Z" fill="#3a05a7"/><path d="M392.3,126.8L388.5,129.2L390.3,134.0L394.1,133.1Z" fill="#3805ab"/><path d="M347.5,143.6L343.8,144.1L345.8,142.8L349.5,142.6Z" fill="#3c069c"/><path d="M435.6,142.3L431.8,141.6L433.3,141.8L437.2,142.5Z" fill="#3c069d"/><path d="M422.5,138.4L418.6,137.7L420.2,139.6L424.1,140.3Z" fill="#3b06a1"/><path d="M382.9,125.2L379.1,129.7L381.0,133.8L384.7,131.6Z" fill="#3805ac"/><path d="M367.9,130.7L364.3,135.8L366.2,137.0L369.8,133.9Z" fill="#3a05a7"/><path d="M448.8,144.7L444.9,143.9L446.5,143.2L450.3,143.9Z" fill="#3c069c"/><path d="M362.3,133.9L358.7,138.5L360.6,138.7L364.3,135.8Z" fill="#3a05a4"/><path d="M332.5,146.3L328.8,145.8L330.8,144.4L334.5,144.9Z" fill="#3c069b"/><path d="M341.8,145.3L338.2,145.3L340.2,144.0L343.8,144.1Z" fill="#3c069c"/><path d="M409.3,131.8L405.5,131.6L407.1,136.2L411.0,136.6Z" fill="#3905a8"/><path d="M439.5,143.1L435.6,142.3L437.2,142.5L441.0,143.2Z" fill="#3c069d"/><path d="M356.7,137.9L353.1,141.2L355.1,140.7L358.7,138.5Z" fill="#3b06a1"/><path d="M426.3,139.0L422.5,138.4L424.1,140.3L427.9,140.9Z" fill="#3b06a1"/><path d="M452.7,145.5L448.8,144.7L450.3,143.9L454.2,144.6Z" fill="#3c069c"/><path d="M396.1,124.8L392.3,126.8L394.1,133.1L397.8,132.3Z" fill="#3704af"/><path d="M351.1,141.7L347.5,143.6L349.5,142.6L353.1,141.2Z" fill="#3c069e"/><path d="M336.2,146.7L332.5,146.3L334.5,144.9L338.2,145.3Z" fill="#3c069b"/><path d="M413.2,132.1L409.3,131.8L411.0,136.6L414.8,137.1Z" fill="#3905a8"/><path d="M443.4,144.0L439.5,143.1L441.0,143.2L444.9,143.9Z" fill="#3c069d"/><path d="M377.2,122.7L373.5,129.2L375.4,133.3L379.1,129.7Z" fill="#3704b0"/><path d="M430.2,139.8L426.3,139.0L427.9,140.9L431.8,141.6Z" fill="#3b06a0"/><path d="M345.5,144.6L341.8,145.3L343.8,144.1L347.5,143.6Z" fill="#3c069d"/><path d="M456.7,146.3L452.7,145.5L454.2,144.6L458.2,145.3Z" fill="#3c069c"/><path d="M386.6,120.4L382.9,125.2L384.7,131.6L388.5,129.2Z" fill="#3604b3"/><path d="M330.5,147.8L326.8,147.2L328.8,145.8L332.5,146.3Z" fill="#3c069b"/><path d="M447.3,144.9L443.4,144.0L444.9,143.9L448.8,144.7Z" fill="#3c069d"/><path d="M339.8,146.6L336.2,146.7L338.2,145.3L341.8,145.3Z" fill="#3c069c"/><path d="M417.0,132.7L413.2,132.1L414.8,137.1L418.6,137.7Z" fill="#3905a8"/><path d="M434.1,140.6L430.2,139.8L431.8,141.6L435.6,142.3Z" fill="#3b06a0"/><path d="M399.9,123.2L396.1,124.8L397.8,132.3L401.6,131.8Z" fill="#3704b1"/><path d="M371.5,122.9L367.9,130.7L369.8,133.9L373.5,129.2Z" fill="#3704b0"/><path d="M460.6,147.1L456.7,146.3L458.2,145.3L462.1,146.1Z" fill="#3c069c"/><path d="M354.7,137.1L351.1,141.7L353.1,141.2L356.7,137.9Z" fill="#3b06a3"/><path d="M365.9,126.1L362.3,133.9L364.3,135.8L367.9,130.7Z" fill="#3805ad"/><path d="M360.3,131.4L356.7,137.9L358.7,138.5L362.3,133.9Z" fill="#3905a9"/><path d="M451.2,145.9L447.3,144.9L448.8,144.7L452.7,145.5Z" fill="#3c069d"/><path d="M349.1,142.1L345.5,144.6L347.5,143.6L351.1,141.7Z" fill="#3c069f"/><path d="M334.1,148.1L330.5,147.8L332.5,146.3L336.2,146.7Z" fill="#3c069b"/><path d="M420.9,133.3L417.0,132.7L418.6,137.7L422.5,138.4Z" fill="#3905a8"/><path d="M438.0,141.5L434.1,140.6L435.6,142.3L439.5,143.1Z" fill="#3b06a0"/><path d="M464.6,148.0L460.6,147.1L462.1,146.1L466.0,146.8Z" fill="#3c069c"/><path d="M343.5,145.6L339.8,146.6L341.8,145.3L345.5,144.6Z" fill="#3c069d"/><path d="M403.8,122.2L399.9,123.2L401.6,131.8L405.5,131.6Z" fill="#3604b4"/><path d="M455.2,146.9L451.2,145.9L452.7,145.5L456.7,146.3Z" fill="#3c069c"/><path d="M441.9,142.6L438.0,141.5L439.5,143.1L443.4,144.0Z" fill="#3c06a0"/><path d="M328.4,149.2L324.7,148.7L326.8,147.2L330.5,147.8Z" fill="#3c069b"/><path d="M424.8,134.0L420.9,133.3L422.5,138.4L426.3,139.0Z" fill="#3905a8"/><path d="M390.4,115.7L386.6,120.4L388.5,129.2L392.3,126.8Z" fill="#3103bd"/><path d="M337.8,147.9L334.1,148.1L336.2,146.7L339.8,146.6Z" fill="#3c069c"/><path d="M380.9,115.1L377.2,122.7L379.1,129.7L382.9,125.2Z" fill="#3103bd"/><path d="M468.5,148.8L464.6,148.0L466.0,146.8L470.0,147.5Z" fill="#3c069b"/><path d="M459.1,147.9L455.2,146.9L456.7,146.3L460.6,147.1Z" fill="#3c069c"/><path d="M445.8,143.8L441.9,142.6L443.4,144.0L447.3,144.9Z" fill="#3c069f"/><path d="M428.7,134.8L424.8,134.0L426.3,139.0L430.2,139.8Z" fill="#3905a8"/><path d="M407.7,121.9L403.8,122.2L405.5,131.6L409.3,131.8Z" fill="#3504b6"/><path d="M332.1,149.5L328.4,149.2L330.5,147.8L334.1,148.1Z" fill="#3c069b"/><path d="M472.5,149.6L468.5,148.8L470.0,147.5L474.0,148.2Z" fill="#3c069b"/><path d="M347.1,142.5L343.5,145.6L345.5,144.6L349.1,142.1Z" fill="#3b06a0"/><path d="M352.7,136.2L349.1,142.1L351.1,141.7L354.7,137.1Z" fill="#3a05a6"/><path d="M463.1,148.9L459.1,147.9L460.6,147.1L464.6,148.0Z" fill="#3c069c"/><path d="M341.5,146.7L337.8,147.9L339.8,146.6L343.5,145.6Z" fill="#3c069d"/><path d="M449.8,145.2L445.8,143.8L447.3,144.9L451.2,145.9Z" fill="#3c069e"/><path d="M432.6,135.7L428.7,134.8L430.2,139.8L434.1,140.6Z" fill="#3905a8"/><path d="M358.2,128.3L354.7,137.1L356.7,137.9L360.3,131.4Z" fill="#3805ae"/><path d="M375.1,112.8L371.5,122.9L373.5,129.2L377.2,122.7Z" fill="#2e03c2"/><path d="M326.3,150.7L322.6,150.1L324.7,148.7L328.4,149.2Z" fill="#3c069b"/><path d="M476.5,150.3L472.5,149.6L474.0,148.2L478.0,149.0Z" fill="#3c069b"/><path d="M411.6,122.0L407.7,121.9L409.3,131.8L413.2,132.1Z" fill="#3404b7"/><path d="M335.8,149.3L332.1,149.5L334.1,148.1L337.8,147.9Z" fill="#3c069c"/><path d="M453.7,146.6L449.8,145.2L451.2,145.9L455.2,146.9Z" fill="#3c069e"/><path d="M394.3,111.7L390.4,115.7L392.3,126.8L396.1,124.8Z" fill="#2c02c7"/><path d="M467.1,149.9L463.1,148.9L464.6,148.0L468.5,148.8Z" fill="#3c069c"/><path d="M363.8,120.3L360.3,131.4L362.3,133.9L365.9,126.1Z" fill="#3504b6"/><path d="M436.6,137.0L432.6,135.7L434.1,140.6L438.0,141.5Z" fill="#3905a7"/><path d="M369.4,114.6L365.9,126.1L367.9,130.7L371.5,122.9Z" fill="#3003bf"/><path d="M480.5,151.1L476.5,150.3L478.0,149.0L482.0,149.7Z" fill="#3c069b"/><path d="M330.1,150.9L326.3,150.7L328.4,149.2L332.1,149.5Z" fill="#3c069c"/><path d="M457.7,148.1L453.7,146.6L455.2,146.9L459.1,147.9Z" fill="#3c069d"/><path d="M415.5,122.4L411.6,122.0L413.2,132.1L417.0,132.7Z" fill="#3404b8"/><path d="M471.1,150.8L467.1,149.9L468.5,148.8L472.5,149.6Z" fill="#3c069c"/><path d="M440.5,138.6L436.6,137.0L438.0,141.5L441.9,142.6Z" fill="#3a05a7"/><path d="M384.7,107.1L380.9,115.1L382.9,125.2L386.6,120.4Z" fill="#2801ce"/><path d="M345.1,143.0L341.5,146.7L343.5,145.6L347.1,142.5Z" fill="#3b06a1"/><path d="M339.5,147.9L335.8,149.3L337.8,147.9L341.5,146.7Z" fill="#3c069d"/><path d="M461.6,149.4L457.7,148.1L459.1,147.9L463.1,148.9Z" fill="#3c069d"/><path d="M484.6,151.8L480.5,151.1L482.0,149.7L486.0,150.4Z" fill="#3c069b"/><path d="M350.6,135.4L347.1,142.5L349.1,142.1L352.7,136.2Z" fill="#3905a8"/><path d="M324.3,152.1L320.5,151.6L322.6,150.1L326.3,150.7Z" fill="#3c069b"/><path d="M444.4,140.5L440.5,138.6L441.9,142.6L445.8,143.8Z" fill="#3a05a5"/><path d="M419.4,123.0L415.5,122.4L417.0,132.7L420.9,133.3Z" fill="#3404b8"/><path d="M475.1,151.7L471.1,150.8L472.5,149.6L476.5,150.3Z" fill="#3c069b"/><path d="M333.8,150.7L330.1,150.9L332.1,149.5L335.8,149.3Z" fill="#3c069c"/><path d="M398.2,108.6L394.3,111.7L396.1,124.8L399.9,123.2Z" fill="#2701cf"/><path d="M465.6,150.7L461.6,149.4L463.1,148.9L467.1,149.9Z" fill="#3c069c"/><path d="M448.4,142.6L444.4,140.5L445.8,143.8L449.8,145.2Z" fill="#3a05a4"/><path d="M479.1,152.5L475.1,151.7L476.5,150.3L480.5,151.1Z" fill="#3c069b"/><path d="M423.3,123.7L419.4,123.0L420.9,133.3L424.8,134.0Z" fill="#3404b8"/><path d="M328.0,152.4L324.3,152.1L326.3,150.7L330.1,150.9Z" fill="#3c069c"/><path d="M356.1,125.1L352.7,136.2L354.7,137.1L358.2,128.3Z" fill="#3604b3"/><path d="M452.3,144.9L448.4,142.6L449.8,145.2L453.7,146.6Z" fill="#3b06a2"/><path d="M469.6,151.9L465.6,150.7L467.1,149.9L471.1,150.8Z" fill="#3c069c"/><path d="M343.1,143.7L339.5,147.9L341.5,146.7L345.1,143.0Z" fill="#3b06a2"/><path d="M337.4,149.1L333.8,150.7L335.8,149.3L339.5,147.9Z" fill="#3c069d"/><path d="M456.2,147.1L452.3,144.9L453.7,146.6L457.7,148.1Z" fill="#3b06a0"/><path d="M427.3,124.6L423.3,123.7L424.8,134.0L428.7,134.8Z" fill="#3404b8"/><path d="M483.2,153.2L479.1,152.5L480.5,151.1L484.6,151.8Z" fill="#3c069b"/><path d="M322.2,153.6L318.4,153.1L320.5,151.6L324.3,152.1Z" fill="#3c069b"/><path d="M378.8,101.5L375.1,112.8L377.2,122.7L380.9,115.1Z" fill="#2100d9"/><path d="M402.1,106.6L398.2,108.6L399.9,123.2L403.8,122.2Z" fill="#2401d5"/><path d="M331.7,152.1L328.0,152.4L330.1,150.9L333.8,150.7Z" fill="#3c069c"/><path d="M473.6,152.9L469.6,151.9L471.1,150.8L475.1,151.7Z" fill="#3c069c"/><path d="M460.2,149.2L456.2,147.1L457.7,148.1L461.6,149.4Z" fill="#3c069e"/><path d="M348.6,134.8L345.1,143.0L347.1,142.5L350.6,135.4Z" fill="#3805ab"/><path d="M361.7,114.0L358.2,128.3L360.3,131.4L363.8,120.3Z" fill="#2d02c5"/><path d="M388.5,99.8L384.7,107.1L386.6,120.4L390.4,115.7Z" fill="#1d01e0"/><path d="M431.3,125.9L427.3,124.6L428.7,134.8L432.6,135.7Z" fill="#3404b7"/><path d="M464.2,151.0L460.2,149.2L461.6,149.4L465.6,150.7Z" fill="#3c069d"/><path d="M325.9,153.9L322.2,153.6L324.3,152.1L328.0,152.4Z" fill="#3c069c"/><path d="M477.7,153.8L473.6,152.9L475.1,151.7L479.1,152.5Z" fill="#3c069b"/><path d="M373.0,100.7L369.4,114.6L371.5,122.9L375.1,112.8Z" fill="#2000dc"/><path d="M367.3,105.2L363.8,120.3L365.9,126.1L369.4,114.6Z" fill="#2401d4"/><path d="M435.2,127.7L431.3,125.9L432.6,135.7L436.6,137.0Z" fill="#3504b5"/><path d="M468.1,152.6L464.2,151.0L465.6,150.7L469.6,151.9Z" fill="#3c069d"/><path d="M406.0,105.6L402.1,106.6L403.8,122.2L407.7,121.9Z" fill="#2200d9"/><path d="M335.4,150.4L331.7,152.1L333.8,150.7L337.4,149.1Z" fill="#3c069e"/><path d="M341.0,144.6L337.4,149.1L339.5,147.9L343.1,143.7Z" fill="#3b06a3"/><path d="M481.7,154.7L477.7,153.8L479.1,152.5L483.2,153.2Z" fill="#3c069b"/><path d="M320.0,155.1L316.3,154.6L318.4,153.1L322.2,153.6Z" fill="#3c069b"/><path d="M439.2,130.2L435.2,127.7L436.6,137.0L440.5,138.6Z" fill="#3604b3"/><path d="M354.0,122.1L350.6,135.4L352.7,136.2L356.1,125.1Z" fill="#3203bb"/><path d="M329.6,153.6L325.9,153.9L328.0,152.4L331.7,152.1Z" fill="#3c069c"/><path d="M472.2,154.0L468.1,152.6L469.6,151.9L473.6,152.9Z" fill="#3c069c"/><path d="M443.1,133.2L439.2,130.2L440.5,138.6L444.4,140.5Z" fill="#3704b1"/><path d="M447.0,136.8L443.1,133.2L444.4,140.5L448.4,142.6Z" fill="#3805ad"/><path d="M410.0,105.4L406.0,105.6L407.7,121.9L411.6,122.0Z" fill="#2000dc"/><path d="M346.5,134.5L343.1,143.7L345.1,143.0L348.6,134.8Z" fill="#3805ad"/><path d="M450.9,140.5L447.0,136.8L448.4,142.6L452.3,144.9Z" fill="#3905aa"/><path d="M323.8,155.4L320.0,155.1L322.2,153.6L325.9,153.9Z" fill="#3c069c"/><path d="M454.8,144.3L450.9,140.5L452.3,144.9L456.2,147.1Z" fill="#3a05a6"/><path d="M476.2,155.1L472.2,154.0L473.6,152.9L477.7,153.8Z" fill="#3c069c"/><path d="M458.8,147.7L454.8,144.3L456.2,147.1L460.2,149.2Z" fill="#3b06a3"/><path d="M392.4,93.7L388.5,99.8L390.4,115.7L394.3,111.7Z" fill="#0c07fa"/><path d="M462.7,150.6L458.8,147.7L460.2,149.2L464.2,151.0Z" fill="#3c06a0"/><path d="M333.3,151.9L329.6,153.6L331.7,152.1L335.4,150.4Z" fill="#3c069e"/><path d="M338.9,145.7L335.4,150.4L337.4,149.1L341.0,144.6Z" fill="#3b06a3"/><path d="M414.0,105.7L410.0,105.4L411.6,122.0L415.5,122.4Z" fill="#1f00dd"/><path d="M317.9,156.6L314.2,156.1L316.3,154.6L320.0,155.1Z" fill="#3c069b"/><path d="M480.3,156.0L476.2,155.1L477.7,153.8L481.7,154.7Z" fill="#3c069b"/><path d="M466.7,152.9L462.7,150.6L464.2,151.0L468.1,152.6Z" fill="#3c069e"/><path d="M327.5,155.1L323.8,155.4L325.9,153.9L329.6,153.6Z" fill="#3c069c"/><path d="M382.6,90.7L378.8,101.5L380.9,115.1L384.7,107.1Z" fill="#0809fe"/><path d="M359.5,107.9L356.1,125.1L358.2,128.3L361.7,114.0Z" fill="#2501d4"/><path d="M470.7,154.8L466.7,152.9L468.1,152.6L472.2,154.0Z" fill="#3c069d"/><path d="M484.4,156.9L480.3,156.0L481.7,154.7L485.8,155.4Z" fill="#3c069b"/><path d="M417.9,106.3L414.0,105.7L415.5,122.4L419.4,123.0Z" fill="#1f00de"/><path d="M321.7,156.9L317.9,156.6L320.0,155.1L323.8,155.4Z" fill="#3c069c"/><path d="M351.9,119.7L348.6,134.8L350.6,135.4L354.0,122.1Z" fill="#2e03c2"/><path d="M344.4,134.7L341.0,144.6L343.1,143.7L346.5,134.5Z" fill="#3704af"/><path d="M474.8,156.2L470.7,154.8L472.2,154.0L476.2,155.1Z" fill="#3c069c"/><path d="M331.2,153.4L327.5,155.1L329.6,153.6L333.3,151.9Z" fill="#3c069e"/><path d="M422.0,107.0L417.9,106.3L419.4,123.0L423.3,123.7Z" fill="#1f00dd"/><path d="M336.9,147.0L333.3,151.9L335.4,150.4L338.9,145.7Z" fill="#3a05a4"/><path d="M315.8,158.2L312.0,157.6L314.2,156.1L317.9,156.6Z" fill="#3c069b"/><path d="M396.3,89.3L392.4,93.7L394.3,111.7L398.2,108.6Z" fill="#0512f8"/><path d="M478.8,157.4L474.8,156.2L476.2,155.1L480.3,156.0Z" fill="#3c069c"/><path d="M325.4,156.6L321.7,156.9L323.8,155.4L327.5,155.1Z" fill="#3c069c"/><path d="M365.1,95.8L361.7,114.0L363.8,120.3L367.3,105.2Z" fill="#0f06f4"/><path d="M376.7,86.6L373.0,100.7L375.1,112.8L378.8,101.5Z" fill="#0514f6"/><path d="M461.3,148.9L457.4,144.2L458.8,147.7L462.7,150.6Z" fill="#3a05a5"/><path d="M465.3,152.6L461.3,148.9L462.7,150.6L466.7,152.9Z" fill="#3b06a1"/><path d="M426.0,108.0L422.0,107.0L423.3,123.7L427.3,124.6Z" fill="#2000dd"/><path d="M457.4,144.2L453.6,138.6L454.8,144.3L458.8,147.7Z" fill="#3905aa"/><path d="M482.9,158.3L478.8,157.4L480.3,156.0L484.4,156.9Z" fill="#3c069b"/><path d="M469.3,155.3L465.3,152.6L466.7,152.9L470.7,154.8Z" fill="#3c069e"/><path d="M319.5,158.5L315.8,158.2L317.9,156.6L321.7,156.9Z" fill="#3c069c"/><path d="M370.9,88.4L367.3,105.2L369.4,114.6L373.0,100.7Z" fill="#0611f8"/><path d="M453.6,138.6L449.7,132.4L450.9,140.5L454.8,144.3Z" fill="#3704b1"/><path d="M342.3,135.3L338.9,145.7L341.0,144.6L344.4,134.7Z" fill="#3704b0"/><path d="M430.0,109.7L426.0,108.0L427.3,124.6L431.3,125.9Z" fill="#2100db"/><path d="M473.3,157.2L469.3,155.3L470.7,154.8L474.8,156.2Z" fill="#3c069d"/><path d="M329.1,154.9L325.4,156.6L327.5,155.1L331.2,153.4Z" fill="#3c069e"/><path d="M449.7,132.4L445.8,126.2L447.0,136.8L450.9,140.5Z" fill="#3303b9"/><path d="M334.8,148.5L331.2,153.4L333.3,151.9L336.9,147.0Z" fill="#3a05a4"/><path d="M313.6,159.7L309.8,159.2L312.0,157.6L315.8,158.2Z" fill="#3c069b"/><path d="M434.0,112.2L430.0,109.7L431.3,125.9L435.2,127.7Z" fill="#2200d8"/><path d="M349.8,118.0L346.5,134.5L348.6,134.8L351.9,119.7Z" fill="#2b02c9"/><path d="M445.8,126.2L441.9,120.6L443.1,133.2L447.0,136.8Z" fill="#2d02c4"/><path d="M386.5,81.5L382.6,90.7L384.7,107.1L388.5,99.8Z" fill="#0124eb"/><path d="M400.3,86.5L396.3,89.3L398.2,108.6L402.1,106.6Z" fill="#031df0"/><path d="M323.3,158.2L319.5,158.5L321.7,156.9L325.4,156.6Z" fill="#3c069c"/><path d="M477.4,158.6L473.3,157.2L474.8,156.2L478.8,157.4Z" fill="#3c069c"/><path d="M357.3,102.7L354.0,122.1L356.1,125.1L359.5,107.9Z" fill="#1902e6"/><path d="M438.0,115.9L434.0,112.2L435.2,127.7L439.2,130.2Z" fill="#2501d3"/><path d="M441.9,120.6L438.0,115.9L439.2,130.2L443.1,133.2Z" fill="#2902cc"/><path d="M481.5,159.7L477.4,158.6L478.8,157.4L482.9,158.3Z" fill="#3c069c"/><path d="M317.4,160.0L313.6,159.7L315.8,158.2L319.5,158.5Z" fill="#3c069c"/><path d="M467.8,155.2L463.9,151.3L465.3,152.6L469.3,155.3Z" fill="#3b06a0"/><path d="M340.2,136.4L336.9,147.0L338.9,145.7L342.3,135.3Z" fill="#3704b1"/><path d="M327.0,156.5L323.3,158.2L325.4,156.6L329.1,154.9Z" fill="#3c069e"/><path d="M463.9,151.3L460.0,145.6L461.3,148.9L465.3,152.6Z" fill="#3a05a6"/><path d="M471.8,158.0L467.8,155.2L469.3,155.3L473.3,157.2Z" fill="#3c069e"/><path d="M404.3,85.0L400.3,86.5L402.1,106.6L406.0,105.6Z" fill="#0123eb"/><path d="M332.7,150.1L329.1,154.9L331.2,153.4L334.8,148.5Z" fill="#3a05a4"/><path d="M311.4,161.3L307.6,160.7L309.8,159.2L313.6,159.7Z" fill="#3c069b"/><path d="M321.1,159.8L317.4,160.0L319.5,158.5L323.3,158.2Z" fill="#3c069c"/><path d="M460.0,145.6L456.2,138.1L457.4,144.2L461.3,148.9Z" fill="#3805ad"/><path d="M475.9,159.8L471.8,158.0L473.3,157.2L477.4,158.6Z" fill="#3c069c"/><path d="M347.6,117.2L344.4,134.7L346.5,134.5L349.8,118.0Z" fill="#2801ce"/><path d="M315.2,161.6L311.4,161.3L313.6,159.7L317.4,160.0Z" fill="#3c069c"/><path d="M480.0,161.1L475.9,159.8L477.4,158.6L481.5,159.7Z" fill="#3c069c"/><path d="M362.9,87.8L359.5,107.9L361.7,114.0L365.1,95.8Z" fill="#0419f3"/><path d="M408.4,84.5L404.3,85.0L406.0,105.6L410.0,105.4Z" fill="#0027e9"/><path d="M456.2,138.1L452.4,129.2L453.6,138.6L457.4,144.2Z" fill="#3404b8"/><path d="M380.5,74.6L376.7,86.6L378.8,101.5L382.6,90.7Z" fill="#0a9d60"/><path d="M390.4,74.6L386.5,81.5L388.5,99.8L392.4,93.7Z" fill="#0da84d"/><path d="M324.8,158.1L321.1,159.8L323.3,158.2L327.0,156.5Z" fill="#3c069e"/><path d="M338.1,137.8L334.8,148.5L336.9,147.0L340.2,136.4Z" fill="#3704b1"/><path d="M484.1,162.1L480.0,161.1L481.5,159.7L485.6,160.7Z" fill="#3c069b"/><path d="M355.1,98.6L351.9,119.7L354.0,122.1L357.3,102.7Z" fill="#0b07fa"/><path d="M330.6,151.8L327.0,156.5L329.1,154.9L332.7,150.1Z" fill="#3a05a4"/><path d="M309.2,162.8L305.4,162.3L307.6,160.7L311.4,161.3Z" fill="#3c069b"/><path d="M319.0,161.4L315.2,161.6L317.4,160.0L321.1,159.8Z" fill="#3c069c"/><path d="M470.4,158.5L466.4,154.7L467.8,155.2L471.8,158.0Z" fill="#3c069f"/><path d="M412.4,84.7L408.4,84.5L410.0,105.4L414.0,105.7Z" fill="#002fe1"/><path d="M466.4,154.7L462.5,148.8L463.9,151.3L467.8,155.2Z" fill="#3a05a5"/><path d="M474.4,160.9L470.4,158.5L471.8,158.0L475.9,159.8Z" fill="#3c069d"/><path d="M452.4,129.2L448.6,119.8L449.7,132.4L453.6,138.6Z" fill="#2b02c8"/><path d="M368.7,77.8L365.1,95.8L367.3,105.2L370.9,88.4Z" fill="#007f91"/><path d="M313.0,163.2L309.2,162.8L311.4,161.3L315.2,161.6Z" fill="#3c069c"/><path d="M374.6,73.4L370.9,88.4L373.0,100.7L376.7,86.6Z" fill="#12b23d"/><path d="M345.5,117.2L342.3,135.3L344.4,134.7L347.6,117.2Z" fill="#2601d1"/><path d="M478.5,162.5L474.4,160.9L475.9,159.8L480.0,161.1Z" fill="#3c069c"/><path d="M462.5,148.8L458.7,140.3L460.0,145.6L463.9,151.3Z" fill="#3805ad"/><path d="M416.5,85.3L412.4,84.7L414.0,105.7L417.9,106.3Z" fill="#0034dc"/><path d="M322.7,159.8L319.0,161.4L321.1,159.8L324.8,158.1Z" fill="#3c069e"/><path d="M336.0,139.4L332.7,150.1L334.8,148.5L338.1,137.8Z" fill="#3704b1"/><path d="M328.4,153.5L324.8,158.1L327.0,156.5L330.6,151.8Z" fill="#3b06a3"/><path d="M482.7,163.6L478.5,162.5L480.0,161.1L484.1,162.1Z" fill="#3c069c"/><path d="M448.6,119.8L444.7,110.7L445.8,126.2L449.7,132.4Z" fill="#2100d9"/><path d="M307.0,164.4L303.2,163.8L305.4,162.3L309.2,162.8Z" fill="#3c069b"/><path d="M316.8,163.0L313.0,163.2L315.2,161.6L319.0,161.4Z" fill="#3c069c"/><path d="M420.6,85.9L416.5,85.3L417.9,106.3L422.0,107.0Z" fill="#0033dd"/><path d="M394.4,69.9L390.4,74.6L392.4,93.7L396.3,89.3Z" fill="#30ce18"/><path d="M458.7,140.3L455.0,129.2L456.2,138.1L460.0,145.6Z" fill="#3203bb"/><path d="M472.9,161.8L468.9,158.7L470.4,158.5L474.4,160.9Z" fill="#3c069e"/><path d="M468.9,158.7L465.0,153.5L466.4,154.7L470.4,158.5Z" fill="#3b06a2"/><path d="M310.8,164.8L307.0,164.4L309.2,162.8L313.0,163.2Z" fill="#3c069b"/><path d="M444.7,110.7L440.8,102.8L441.9,120.6L445.8,126.2Z" fill="#1105f2"/><path d="M424.7,87.0L420.6,85.9L422.0,107.0L426.0,108.0Z" fill="#002ce4"/><path d="M353.0,96.0L349.8,118.0L351.9,119.7L355.1,98.6Z" fill="#0610f9"/><path d="M477.0,163.8L472.9,161.8L474.4,160.9L478.5,162.5Z" fill="#3c069c"/><path d="M343.4,118.0L340.2,136.4L342.3,135.3L345.5,117.2Z" fill="#2501d3"/><path d="M360.7,81.7L357.3,102.7L359.5,107.9L362.9,87.8Z" fill="#005fb1"/><path d="M333.9,141.2L330.6,151.8L332.7,150.1L336.0,139.4Z" fill="#3704b0"/><path d="M465.0,153.5L461.2,145.1L462.5,148.8L466.4,154.7Z" fill="#3905aa"/><path d="M320.5,161.5L316.8,163.0L319.0,161.4L322.7,159.8Z" fill="#3c069d"/><path d="M384.4,65.5L380.5,74.6L382.6,90.7L386.5,81.5Z" fill="#50da08"/><path d="M428.7,89.0L424.7,87.0L426.0,108.0L430.0,109.7Z" fill="#0026e9"/><path d="M326.3,155.2L322.7,159.8L324.8,158.1L328.4,153.5Z" fill="#3b06a3"/><path d="M440.8,102.8L436.8,96.6L438.0,115.9L441.9,120.6Z" fill="#060efa"/><path d="M304.7,166.0L300.9,165.4L303.2,163.8L307.0,164.4Z" fill="#3c069b"/><path d="M481.2,165.1L477.0,163.8L478.5,162.5L482.7,163.6Z" fill="#3c069c"/><path d="M314.6,164.6L310.8,164.8L313.0,163.2L316.8,163.0Z" fill="#3c069c"/><path d="M432.8,92.1L428.7,89.0L430.0,109.7L434.0,112.2Z" fill="#0222ed"/><path d="M436.8,96.6L432.8,92.1L434.0,112.2L438.0,115.9Z" fill="#041af2"/><path d="M398.5,67.0L394.4,69.9L396.3,89.3L400.3,86.5Z" fill="#53db07"/><path d="M455.0,129.2L451.3,116.5L452.4,129.2L456.2,138.1Z" fill="#2601d1"/><path d="M308.5,166.4L304.7,166.0L307.0,164.4L310.8,164.8Z" fill="#3c069b"/><path d="M471.4,162.7L467.4,158.7L468.9,158.7L472.9,161.8Z" fill="#3c069f"/><path d="M461.2,145.1L457.5,133.1L458.7,140.3L462.5,148.8Z" fill="#3404b8"/><path d="M475.6,165.1L471.4,162.7L472.9,161.8L477.0,163.8Z" fill="#3c069d"/><path d="M341.3,119.4L338.1,137.8L340.2,136.4L343.4,118.0Z" fill="#2501d4"/><path d="M331.8,143.1L328.4,153.5L330.6,151.8L333.9,141.2Z" fill="#3704b0"/><path d="M318.3,163.2L314.6,164.6L316.8,163.0L320.5,161.5Z" fill="#3c069d"/><path d="M467.4,158.7L463.6,151.7L465.0,153.5L468.9,158.7Z" fill="#3a05a6"/><path d="M324.1,157.0L320.5,161.5L322.7,159.8L326.3,155.2Z" fill="#3b06a3"/><path d="M302.5,167.6L298.6,167.0L300.9,165.4L304.7,166.0Z" fill="#3c069b"/><path d="M479.7,166.6L475.6,165.1L477.0,163.8L481.2,165.1Z" fill="#3c069c"/><path d="M350.8,94.8L347.6,117.2L349.8,118.0L353.0,96.0Z" fill="#0418f4"/><path d="M366.5,70.0L362.9,87.8L365.1,95.8L368.7,77.8Z" fill="#3ad213"/><path d="M312.4,166.3L308.5,166.4L310.8,164.8L314.6,164.6Z" fill="#3c069c"/><path d="M378.4,62.0L374.6,73.4L376.7,86.6L380.5,74.6Z" fill="#87e800"/><path d="M402.6,65.5L398.5,67.0L400.3,86.5L404.3,85.0Z" fill="#71e300"/><path d="M483.9,167.7L479.7,166.6L481.2,165.1L485.4,166.1Z" fill="#3c069b"/><path d="M306.3,168.1L302.5,167.6L304.7,166.0L308.5,166.4Z" fill="#3c069b"/><path d="M372.4,63.6L368.7,77.8L370.9,88.4L374.6,73.4Z" fill="#78e500"/><path d="M463.6,151.7L459.8,140.4L461.2,145.1L465.0,153.5Z" fill="#3704b1"/><path d="M451.3,116.5L447.5,103.8L448.6,119.8L452.4,129.2Z" fill="#1005f4"/><path d="M388.4,59.3L384.4,65.5L386.5,81.5L390.4,74.6Z" fill="#c7f000"/><path d="M329.7,145.1L326.3,155.2L328.4,153.5L331.8,143.1Z" fill="#3704b0"/><path d="M339.2,121.2L336.0,139.4L338.1,137.8L341.3,119.4Z" fill="#2501d3"/><path d="M358.5,77.7L355.1,98.6L357.3,102.7L360.7,81.7Z" fill="#16b934"/><path d="M316.1,165.0L312.4,166.3L314.6,164.6L318.3,163.2Z" fill="#3c069d"/><path d="M469.9,163.5L466.0,158.4L467.4,158.7L471.4,162.7Z" fill="#3b06a1"/><path d="M474.0,166.4L469.9,163.5L471.4,162.7L475.6,165.1Z" fill="#3c069d"/><path d="M321.9,159.0L318.3,163.2L320.5,161.5L324.1,157.0Z" fill="#3b06a3"/><path d="M457.5,133.1L453.9,118.0L455.0,129.2L458.7,140.3Z" fill="#2501d2"/><path d="M406.7,65.1L402.6,65.5L404.3,85.0L408.4,84.5Z" fill="#88e800"/><path d="M300.2,169.3L296.3,168.7L298.6,167.0L302.5,167.6Z" fill="#3c069b"/><path d="M478.2,168.1L474.0,166.4L475.6,165.1L479.7,166.6Z" fill="#3c069c"/><path d="M310.1,168.0L306.3,168.1L308.5,166.4L312.4,166.3Z" fill="#3c069c"/><path d="M466.0,158.4L462.1,149.5L463.6,151.7L467.4,158.7Z" fill="#3905aa"/><path d="M348.7,94.7L345.5,117.2L347.6,117.2L350.8,94.8Z" fill="#031df0"/><path d="M482.4,169.3L478.2,168.1L479.7,166.6L483.9,167.7Z" fill="#3c069c"/><path d="M304.0,169.7L300.2,169.3L302.5,167.6L306.3,168.1Z" fill="#3c069b"/><path d="M410.8,65.3L406.7,65.1L408.4,84.5L412.4,84.7Z" fill="#92ea00"/><path d="M327.5,147.2L324.1,157.0L326.3,155.2L329.7,145.1Z" fill="#3704af"/><path d="M447.5,103.8L443.7,92.6L444.7,110.7L448.6,119.8Z" fill="#031cf1"/><path d="M337.1,123.3L333.9,141.2L336.0,139.4L339.2,121.2Z" fill="#2501d3"/><path d="M313.9,166.8L310.1,168.0L312.4,166.3L316.1,165.0Z" fill="#3c069d"/><path d="M319.8,161.0L316.1,165.0L318.3,163.2L321.9,159.0Z" fill="#3b06a2"/><path d="M459.8,140.4L456.3,124.6L457.5,133.1L461.2,145.1Z" fill="#2a02ca"/><path d="M472.5,167.7L468.4,164.3L469.9,163.5L474.0,166.4Z" fill="#3c069e"/><path d="M297.9,170.9L294.0,170.3L296.3,168.7L300.2,169.3Z" fill="#3c069b"/><path d="M414.9,65.8L410.8,65.3L412.4,84.7L416.5,85.3Z" fill="#94ea00"/><path d="M468.4,164.3L464.5,158.1L466.0,158.4L469.9,163.5Z" fill="#3b06a3"/><path d="M392.5,55.3L388.4,59.3L390.4,74.6L394.4,69.9Z" fill="#f5ec00"/><path d="M307.9,169.7L304.0,169.7L306.3,168.1L310.1,168.0Z" fill="#3c069c"/><path d="M476.7,169.6L472.5,167.7L474.0,166.4L478.2,168.1Z" fill="#3c069c"/><path d="M382.4,54.5L378.4,62.0L380.5,74.6L384.4,65.5Z" fill="#f6e800"/><path d="M364.3,65.1L360.7,81.7L362.9,87.8L366.5,70.0Z" fill="#8fe900"/><path d="M462.1,149.5L458.5,135.1L459.8,140.4L463.6,151.7Z" fill="#3203bb"/><path d="M356.4,75.6L353.0,96.0L355.1,98.6L358.5,77.7Z" fill="#32cf17"/><path d="M480.9,170.8L476.7,169.6L478.2,168.1L482.4,169.3Z" fill="#3c069c"/><path d="M419.1,66.4L414.9,65.8L416.5,85.3L420.6,85.9Z" fill="#94ea00"/><path d="M346.6,95.6L343.4,118.0L345.5,117.2L348.7,94.7Z" fill="#021fee"/><path d="M301.7,171.4L297.9,170.9L300.2,169.3L304.0,169.7Z" fill="#3c069b"/><path d="M453.9,118.0L450.2,102.0L451.3,116.5L455.0,129.2Z" fill="#0809ff"/><path d="M443.7,92.6L439.7,83.6L440.8,102.8L444.7,110.7Z" fill="#028784"/><path d="M325.3,149.5L321.9,159.0L324.1,157.0L327.5,147.2Z" fill="#3805ae"/><path d="M334.9,125.5L331.8,143.1L333.9,141.2L337.1,123.3Z" fill="#2601d1"/><path d="M464.5,158.1L460.7,147.1L462.1,149.5L466.0,158.4Z" fill="#3805ae"/><path d="M311.7,168.8L307.9,169.7L310.1,168.0L313.9,166.8Z" fill="#3c069d"/><path d="M317.6,163.2L313.9,166.8L316.1,165.0L319.8,161.0Z" fill="#3b06a2"/><path d="M485.2,171.8L480.9,170.8L482.4,169.3L486.7,170.2Z" fill="#3c069b"/><path d="M423.3,67.5L419.1,66.4L420.6,85.9L424.7,87.0Z" fill="#8fe900"/><path d="M376.3,54.2L372.4,63.6L374.6,73.4L378.4,62.0Z" fill="#f7e100"/><path d="M370.3,57.6L366.5,70.0L368.7,77.8L372.4,63.6Z" fill="#f2ed00"/><path d="M471.0,169.0L466.9,165.2L468.4,164.3L472.5,167.7Z" fill="#3c069e"/><path d="M305.6,171.5L301.7,171.4L304.0,169.7L307.9,169.7Z" fill="#3c069c"/><path d="M396.6,53.1L392.5,55.3L394.4,69.9L398.5,67.0Z" fill="#f8d800"/><path d="M439.7,83.6L435.7,77.0L436.8,96.6L440.8,102.8Z" fill="#22c91f"/><path d="M475.2,171.1L471.0,169.0L472.5,167.7L476.7,169.6Z" fill="#3c069c"/><path d="M466.9,165.2L463.0,157.9L464.5,158.1L468.4,164.3Z" fill="#3a05a5"/><path d="M427.4,69.3L423.3,67.5L424.7,87.0L428.7,89.0Z" fill="#82e700"/><path d="M435.7,77.0L431.6,72.3L432.8,92.1L436.8,96.6Z" fill="#49d80b"/><path d="M431.6,72.3L427.4,69.3L428.7,89.0L432.8,92.1Z" fill="#66e100"/><path d="M479.4,172.4L475.2,171.1L476.7,169.6L480.9,170.8Z" fill="#3c069c"/><path d="M323.2,152.1L319.8,161.0L321.9,159.0L325.3,149.5Z" fill="#3805ad"/><path d="M299.4,173.1L295.5,172.6L297.9,170.9L301.7,171.4Z" fill="#3c069b"/><path d="M332.8,127.8L329.7,145.1L331.8,143.1L334.9,125.5Z" fill="#2701d0"/><path d="M344.4,97.2L341.3,119.4L343.4,118.0L346.6,95.6Z" fill="#0220ee"/><path d="M456.3,124.6L452.7,106.1L453.9,118.0L457.5,133.1Z" fill="#0d06f8"/><path d="M315.3,165.6L311.7,168.8L313.9,166.8L317.6,163.2Z" fill="#3b06a1"/><path d="M309.4,170.7L305.6,171.5L307.9,169.7L311.7,168.8Z" fill="#3c069d"/><path d="M386.4,49.8L382.4,54.5L384.4,65.5L388.4,59.3Z" fill="#fac500"/><path d="M483.7,173.5L479.4,172.4L480.9,170.8L485.2,171.8Z" fill="#3c069b"/><path d="M354.2,75.0L350.8,94.8L353.0,96.0L356.4,75.6Z" fill="#49d70b"/><path d="M400.7,52.1L396.6,53.1L398.5,67.0L402.6,65.5Z" fill="#f9cd00"/><path d="M303.3,173.3L299.4,173.1L301.7,171.4L305.6,171.5Z" fill="#3c069c"/><path d="M469.4,170.3L465.3,166.1L466.9,165.2L471.0,169.0Z" fill="#3c069f"/><path d="M450.2,102.0L446.4,87.5L447.5,103.8L451.3,116.5Z" fill="#0051bf"/><path d="M362.2,62.6L358.5,77.7L360.7,81.7L364.3,65.1Z" fill="#eaef00"/><path d="M458.5,135.1L455.0,115.8L456.3,124.6L459.8,140.4Z" fill="#1f00de"/><path d="M463.0,157.9L459.3,144.9L460.7,147.1L464.5,158.1Z" fill="#3604b2"/><path d="M460.7,147.1L457.2,129.8L458.5,135.1L462.1,149.5Z" fill="#2b02c8"/><path d="M473.6,172.7L469.4,170.3L471.0,169.0L475.2,171.1Z" fill="#3c069d"/><path d="M321.0,155.0L317.6,163.2L319.8,161.0L323.2,152.1Z" fill="#3805ac"/><path d="M330.6,130.3L327.5,147.2L329.7,145.1L332.8,127.8Z" fill="#2801ce"/><path d="M465.3,166.1L461.4,157.8L463.0,157.9L466.9,165.2Z" fill="#3a05a7"/><path d="M342.3,99.4L339.2,121.2L341.3,119.4L344.4,97.2Z" fill="#021fee"/><path d="M477.9,174.1L473.6,172.7L475.2,171.1L479.4,172.4Z" fill="#3c069c"/><path d="M313.1,168.0L309.4,170.7L311.7,168.8L315.3,165.6Z" fill="#3b06a0"/><path d="M404.9,51.9L400.7,52.1L402.6,65.5L406.7,65.1Z" fill="#fac700"/><path d="M307.1,172.8L303.3,173.3L305.6,171.5L309.4,170.7Z" fill="#3c069d"/><path d="M380.3,48.6L376.3,54.2L378.4,62.0L382.4,54.5Z" fill="#fab400"/><path d="M482.2,175.1L477.9,174.1L479.4,172.4L483.7,173.5Z" fill="#3c069b"/><path d="M368.2,54.8L364.3,65.1L366.5,70.0L370.3,57.6Z" fill="#f9d100"/><path d="M390.5,47.1L386.4,49.8L388.4,59.3L392.5,55.3Z" fill="#faa900"/><path d="M301.0,175.2L297.1,174.9L299.4,173.1L303.3,173.3Z" fill="#3c069c"/><path d="M352.1,75.6L348.7,94.7L350.8,94.8L354.2,75.0Z" fill="#56dc05"/><path d="M467.9,171.8L463.8,167.1L465.3,166.1L469.4,170.3Z" fill="#3b06a0"/><path d="M374.2,50.3L370.3,57.6L372.4,63.6L376.3,54.2Z" fill="#faba00"/><path d="M409.1,52.1L404.9,51.9L406.7,65.1L410.8,65.3Z" fill="#fac400"/><path d="M318.8,158.2L315.3,165.6L317.6,163.2L321.0,155.0Z" fill="#3905aa"/><path d="M472.1,174.2L467.9,171.8L469.4,170.3L473.6,172.7Z" fill="#3c069d"/><path d="M328.5,133.2L325.3,149.5L327.5,147.2L330.6,130.3Z" fill="#2902cc"/><path d="M340.2,101.8L337.1,123.3L339.2,121.2L342.3,99.4Z" fill="#031df0"/><path d="M446.4,87.5L442.5,76.0L443.7,92.6L447.5,103.8Z" fill="#36d015"/><path d="M476.3,175.7L472.1,174.2L473.6,172.7L477.9,174.1Z" fill="#3c069c"/><path d="M310.9,170.6L307.1,172.8L309.4,170.7L313.1,168.0Z" fill="#3c069f"/><path d="M461.4,157.8L457.8,143.1L459.3,144.9L463.0,157.9Z" fill="#3404b7"/><path d="M463.8,167.1L459.9,158.1L461.4,157.8L465.3,166.1Z" fill="#3905a9"/><path d="M304.8,174.8L301.0,175.2L303.3,173.3L307.1,172.8Z" fill="#3c069c"/><path d="M360.1,62.0L356.4,75.6L358.5,77.7L362.2,62.6Z" fill="#f4ec00"/><path d="M413.3,52.6L409.1,52.1L410.8,65.3L414.9,65.8Z" fill="#fac300"/><path d="M452.7,106.1L449.1,88.5L450.2,102.0L453.9,118.0Z" fill="#0064ac"/><path d="M480.6,176.8L476.3,175.7L477.9,174.1L482.2,175.1Z" fill="#3c069b"/><path d="M394.7,45.8L390.5,47.1L392.5,55.3L396.6,53.1Z" fill="#fa9700"/><path d="M459.3,144.9L455.8,125.0L457.2,129.8L460.7,147.1Z" fill="#2501d4"/><path d="M316.7,161.6L313.1,168.0L315.3,165.6L318.8,158.2Z" fill="#3905a9"/><path d="M298.6,177.0L294.7,176.6L297.1,174.9L301.0,175.2Z" fill="#3c069c"/><path d="M326.3,136.5L323.2,152.1L325.3,149.5L328.5,133.2Z" fill="#2a02c9"/><path d="M384.4,45.5L380.3,48.6L382.4,54.5L386.4,49.8Z" fill="#fa9100"/><path d="M417.5,53.2L413.3,52.6L414.9,65.8L419.1,66.4Z" fill="#fac300"/><path d="M350.0,77.1L346.6,95.6L348.7,94.7L352.1,75.6Z" fill="#5ade03"/><path d="M338.0,104.4L334.9,125.5L337.1,123.3L340.2,101.8Z" fill="#031bf2"/><path d="M466.3,173.3L462.2,168.3L463.8,167.1L467.9,171.8Z" fill="#3b06a0"/><path d="M470.5,175.9L466.3,173.3L467.9,171.8L472.1,174.2Z" fill="#3c069d"/><path d="M485.0,177.7L480.6,176.8L482.2,175.1L486.5,176.0Z" fill="#3c069b"/><path d="M442.5,76.0L438.5,67.7L439.7,83.6L443.7,92.6Z" fill="#9cec00"/><path d="M308.6,173.2L304.8,174.8L307.1,172.8L310.9,170.6Z" fill="#3c069e"/><path d="M457.2,129.8L453.7,108.0L455.0,115.8L458.5,135.1Z" fill="#0808ff"/><path d="M455.0,115.8L451.5,95.3L452.7,106.1L456.3,124.6Z" fill="#0222ed"/><path d="M474.8,177.4L470.5,175.9L472.1,174.2L476.3,175.7Z" fill="#3c069c"/><path d="M421.7,54.1L417.5,53.2L419.1,66.4L423.3,67.5Z" fill="#fac500"/><path d="M366.1,54.1L362.2,62.6L364.3,65.1L368.2,54.8Z" fill="#fabf00"/><path d="M302.5,176.9L298.6,177.0L301.0,175.2L304.8,174.8Z" fill="#3c069c"/><path d="M398.8,45.3L394.7,45.8L396.6,53.1L400.7,52.1Z" fill="#fa8a00"/><path d="M378.3,46.5L374.2,50.3L376.3,54.2L380.3,48.6Z" fill="#fa8f00"/><path d="M462.2,168.3L458.3,158.7L459.9,158.1L463.8,167.1Z" fill="#3905aa"/><path d="M314.5,165.3L310.9,170.6L313.1,168.0L316.7,161.6Z" fill="#3a05a7"/><path d="M324.2,140.4L321.0,155.0L323.2,152.1L326.3,136.5Z" fill="#2d02c5"/><path d="M372.2,49.3L368.2,54.8L370.3,57.6L374.2,50.3Z" fill="#fa9f00"/><path d="M479.1,178.5L474.8,177.4L476.3,175.7L480.6,176.8Z" fill="#3c069b"/><path d="M425.9,55.6L421.7,54.1L423.3,67.5L427.4,69.3Z" fill="#f9c800"/><path d="M459.9,158.1L456.2,141.9L457.8,143.1L461.4,157.8Z" fill="#3103bd"/><path d="M357.9,62.6L354.2,75.0L356.4,75.6L360.1,62.0Z" fill="#f7e400"/><path d="M438.5,67.7L434.3,61.9L435.7,77.0L439.7,83.6Z" fill="#f0ee00"/><path d="M335.9,107.1L332.8,127.8L334.9,125.5L338.0,104.4Z" fill="#0418f4"/><path d="M388.6,43.9L384.4,45.5L386.4,49.8L390.5,47.1Z" fill="#f77400"/><path d="M430.1,58.1L425.9,55.6L427.4,69.3L431.6,72.3Z" fill="#f9d000"/><path d="M434.3,61.9L430.1,58.1L431.6,72.3L435.7,77.0Z" fill="#f8dd00"/><path d="M347.8,79.2L344.4,97.2L346.6,95.6L350.0,77.1Z" fill="#59dd04"/><path d="M468.9,177.5L464.7,174.9L466.3,173.3L470.5,175.9Z" fill="#3c069d"/><path d="M464.7,174.9L460.6,169.7L462.2,168.3L466.3,173.3Z" fill="#3b06a1"/><path d="M403.0,45.3L398.8,45.3L400.7,52.1L404.9,51.9Z" fill="#fa8300"/><path d="M306.4,175.8L302.5,176.9L304.8,174.8L308.6,173.2Z" fill="#3c069e"/><path d="M483.4,179.4L479.1,178.5L480.6,176.8L485.0,177.7Z" fill="#3c069b"/><path d="M322.1,144.8L318.8,158.2L321.0,155.0L324.2,140.4Z" fill="#2f03c0"/><path d="M449.1,88.5L445.2,74.3L446.4,87.5L450.2,102.0Z" fill="#54dc06"/><path d="M473.2,179.1L468.9,177.5L470.5,175.9L474.8,177.4Z" fill="#3c069c"/><path d="M312.3,169.0L308.6,173.2L310.9,170.6L314.5,165.3Z" fill="#3a05a4"/><path d="M300.2,179.0L296.3,178.8L298.6,177.0L302.5,176.9Z" fill="#3c069c"/><path d="M457.8,143.1L454.3,121.4L455.8,125.0L459.3,144.9Z" fill="#1d01e0"/><path d="M382.4,44.6L378.3,46.5L380.3,48.6L384.4,45.5Z" fill="#f56b00"/><path d="M407.2,45.7L403.0,45.3L404.9,51.9L409.1,52.1Z" fill="#fa8000"/><path d="M460.6,169.7L456.7,159.6L458.3,158.7L462.2,168.3Z" fill="#3805ab"/><path d="M364.0,54.8L360.1,62.0L362.2,62.6L366.1,54.1Z" fill="#fab400"/><path d="M392.7,43.3L388.6,43.9L390.5,47.1L394.7,45.8Z" fill="#f26000"/><path d="M333.7,110.0L330.6,130.3L332.8,127.8L335.9,107.1Z" fill="#0515f6"/><path d="M477.5,180.2L473.2,179.1L474.8,177.4L479.1,178.5Z" fill="#3c069b"/><path d="M355.8,64.1L352.1,75.6L354.2,75.0L357.9,62.6Z" fill="#f7e100"/><path d="M345.7,81.8L342.3,99.4L344.4,97.2L347.8,79.2Z" fill="#52db07"/><path d="M376.3,46.7L372.2,49.3L374.2,50.3L378.3,46.5Z" fill="#f87800"/><path d="M320.0,149.8L316.7,161.6L318.8,158.2L322.1,144.8Z" fill="#3203bb"/><path d="M370.1,49.9L366.1,54.1L368.2,54.8L372.2,49.3Z" fill="#fa9100"/><path d="M458.3,158.7L454.6,141.5L456.2,141.9L459.9,158.1Z" fill="#2f03c1"/><path d="M304.1,178.3L300.2,179.0L302.5,176.9L306.4,175.8Z" fill="#3c069d"/><path d="M467.3,179.2L463.0,176.5L464.7,174.9L468.9,177.5Z" fill="#3c069d"/><path d="M463.0,176.5L458.9,171.3L460.6,169.7L464.7,174.9Z" fill="#3b06a1"/><path d="M411.5,46.2L407.2,45.7L409.1,52.1L413.3,52.6Z" fill="#fa7f00"/><path d="M310.1,172.7L306.4,175.8L308.6,173.2L312.3,169.0Z" fill="#3b06a2"/><path d="M481.9,181.1L477.5,180.2L479.1,178.5L483.4,179.4Z" fill="#3c069b"/><path d="M396.9,43.2L392.7,43.3L394.7,45.8L398.8,45.3Z" fill="#ec5300"/><path d="M471.6,180.8L467.3,179.2L468.9,177.5L473.2,179.1Z" fill="#3c069c"/><path d="M297.8,181.0L293.9,180.7L296.3,178.8L300.2,179.0Z" fill="#3c069c"/><path d="M455.8,125.0L452.3,101.8L453.7,108.0L457.2,129.8Z" fill="#031cf1"/><path d="M386.6,43.8L382.4,44.6L384.4,45.5L388.6,43.9Z" fill="#ec5300"/><path d="M331.6,113.4L328.5,133.2L330.6,130.3L333.7,110.0Z" fill="#0611f9"/><path d="M451.5,95.3L447.7,78.0L449.1,88.5L452.7,106.1Z" fill="#45d60e"/><path d="M317.9,155.2L314.5,165.3L316.7,161.6L320.0,149.8Z" fill="#3604b4"/><path d="M415.7,46.7L411.5,46.2L413.3,52.6L417.5,53.2Z" fill="#fa7f00"/><path d="M445.2,74.3L441.2,64.3L442.5,76.0L446.4,87.5Z" fill="#eeee00"/><path d="M475.9,181.9L471.6,180.8L473.2,179.1L477.5,180.2Z" fill="#3c069b"/><path d="M343.6,84.5L340.2,101.8L342.3,99.4L345.7,81.8Z" fill="#49d80b"/><path d="M458.9,171.3L455.0,160.9L456.7,159.6L460.6,169.7Z" fill="#3805ab"/><path d="M361.9,56.4L357.9,62.6L360.1,62.0L364.0,54.8Z" fill="#fab000"/><path d="M380.4,45.7L376.3,46.7L378.3,46.5L382.4,44.6Z" fill="#f05b00"/><path d="M453.7,108.0L450.1,87.0L451.5,95.3L455.0,115.8Z" fill="#13b53a"/><path d="M353.7,66.3L350.0,77.1L352.1,75.6L355.8,64.1Z" fill="#f7e200"/><path d="M401.1,43.4L396.9,43.2L398.8,45.3L403.0,45.3Z" fill="#e94d00"/><path d="M307.9,176.3L304.1,178.3L306.4,175.8L310.1,172.7Z" fill="#3b06a0"/><path d="M301.8,180.8L297.8,181.0L300.2,179.0L304.1,178.3Z" fill="#3c069d"/><path d="M420.0,47.5L415.7,46.7L417.5,53.2L421.7,54.1Z" fill="#fa8100"/><path d="M315.8,160.8L312.3,169.0L314.5,165.3L317.9,155.2Z" fill="#3704b0"/><path d="M374.2,48.3L370.1,49.9L372.2,49.3L376.3,46.7Z" fill="#f67000"/><path d="M390.8,43.7L386.6,43.8L388.6,43.9L392.7,43.3Z" fill="#e64600"/><path d="M368.1,51.7L364.0,54.8L366.1,54.1L370.1,49.9Z" fill="#fa8d00"/><path d="M465.7,181.0L461.4,178.2L463.0,176.5L467.3,179.2Z" fill="#3c069d"/><path d="M456.2,141.9L452.8,118.9L454.3,121.4L457.8,143.1Z" fill="#1304ef"/><path d="M461.4,178.2L457.3,172.9L458.9,171.3L463.0,176.5Z" fill="#3b06a1"/><path d="M480.3,182.9L475.9,181.9L477.5,180.2L481.9,181.1Z" fill="#3c069b"/><path d="M329.4,117.3L326.3,136.5L328.5,133.2L331.6,113.4Z" fill="#070cfc"/><path d="M456.7,159.6L453.0,141.8L454.6,141.5L458.3,158.7Z" fill="#2d02c4"/><path d="M470.0,182.6L465.7,181.0L467.3,179.2L471.6,180.8Z" fill="#3c069c"/><path d="M405.4,43.8L401.1,43.4L403.0,45.3L407.2,45.7Z" fill="#e84a00"/><path d="M424.3,48.6L420.0,47.5L421.7,54.1L425.9,55.6Z" fill="#fa8500"/><path d="M441.2,64.3L437.0,57.6L438.5,67.7L442.5,76.0Z" fill="#f9ce00"/><path d="M384.6,45.5L380.4,45.7L382.4,44.6L386.6,43.8Z" fill="#e94c00"/><path d="M341.4,87.4L338.0,104.4L340.2,101.8L343.6,84.5Z" fill="#3fd411"/><path d="M313.7,166.5L310.1,172.7L312.3,169.0L315.8,160.8Z" fill="#3805ab"/><path d="M395.0,43.9L390.8,43.7L392.7,43.3L396.9,43.2Z" fill="#e44100"/><path d="M428.5,50.4L424.3,48.6L425.9,55.6L430.1,58.1Z" fill="#fa8e00"/><path d="M305.7,179.5L301.8,180.8L304.1,178.3L307.9,176.3Z" fill="#3c069e"/><path d="M351.6,68.8L347.8,79.2L350.0,77.1L353.7,66.3Z" fill="#f6e600"/><path d="M474.4,183.7L470.0,182.6L471.6,180.8L475.9,181.9Z" fill="#3c069b"/><path d="M359.8,58.7L355.8,64.1L357.9,62.6L361.9,56.4Z" fill="#fab200"/><path d="M457.3,172.9L453.3,162.5L455.0,160.9L458.9,171.3Z" fill="#3805ac"/><path d="M378.4,47.8L374.2,48.3L376.3,46.7L380.4,45.7Z" fill="#f15d00"/><path d="M437.0,57.6L432.8,53.2L434.3,61.9L438.5,67.7Z" fill="#fab100"/><path d="M327.3,121.9L324.2,140.4L326.3,136.5L329.4,117.3Z" fill="#0b07fb"/><path d="M432.8,53.2L428.5,50.4L430.1,58.1L434.3,61.9Z" fill="#fa9c00"/><path d="M409.6,44.3L405.4,43.8L407.2,45.7L411.5,46.2Z" fill="#e84a00"/><path d="M299.4,183.1L295.5,183.0L297.8,181.0L301.8,180.8Z" fill="#3c069c"/><path d="M372.2,50.6L368.1,51.7L370.1,49.9L374.2,48.3Z" fill="#f77400"/><path d="M366.0,54.0L361.9,56.4L364.0,54.8L368.1,51.7Z" fill="#fa9000"/><path d="M388.8,45.7L384.6,45.5L386.6,43.8L390.8,43.7Z" fill="#e54400"/><path d="M464.0,182.7L459.8,180.0L461.4,178.2L465.7,181.0Z" fill="#3c069d"/><path d="M459.8,180.0L455.6,174.7L457.3,172.9L461.4,178.2Z" fill="#3b06a1"/><path d="M311.6,171.8L307.9,176.3L310.1,172.7L313.7,166.5Z" fill="#3a05a7"/><path d="M399.2,44.2L395.0,43.9L396.9,43.2L401.1,43.4Z" fill="#e44100"/><path d="M478.8,184.6L474.4,183.7L475.9,181.9L480.3,182.9Z" fill="#3c069b"/><path d="M447.7,78.0L443.8,65.6L445.2,74.3L449.1,88.5Z" fill="#f0ed00"/><path d="M339.3,90.4L335.9,107.1L338.0,104.4L341.4,87.4Z" fill="#34cf16"/><path d="M454.3,121.4L450.8,97.5L452.3,101.8L455.8,125.0Z" fill="#004ec2"/><path d="M468.4,184.3L464.0,182.7L465.7,181.0L470.0,182.6Z" fill="#3c069c"/><path d="M455.0,160.9L451.3,142.8L453.0,141.8L456.7,159.6Z" fill="#2c02c6"/><path d="M413.9,44.9L409.6,44.3L411.5,46.2L415.7,46.7Z" fill="#e84a00"/><path d="M325.2,127.3L322.1,144.8L324.2,140.4L327.3,121.9Z" fill="#1304ef"/><path d="M382.6,48.0L378.4,47.8L380.4,45.7L384.6,45.5Z" fill="#ec5400"/><path d="M349.5,71.7L345.7,81.8L347.8,79.2L351.6,68.8Z" fill="#f5ec00"/><path d="M454.6,141.5L451.2,117.7L452.8,118.9L456.2,141.9Z" fill="#0b07fa"/><path d="M303.4,182.5L299.4,183.1L301.8,180.8L305.7,179.5Z" fill="#3c069d"/><path d="M357.7,61.3L353.7,66.3L355.8,64.1L359.8,58.7Z" fill="#fab700"/><path d="M393.0,46.0L388.8,45.7L390.8,43.7L395.0,43.9Z" fill="#e44200"/><path d="M403.5,44.7L399.2,44.2L401.1,43.4L405.4,43.8Z" fill="#e44100"/><path d="M376.4,50.6L372.2,50.6L374.2,48.3L378.4,47.8Z" fill="#f46800"/><path d="M472.8,185.5L468.4,184.3L470.0,182.6L474.4,183.7Z" fill="#3c069b"/><path d="M309.5,176.7L305.7,179.5L307.9,176.3L311.6,171.8Z" fill="#3b06a3"/><path d="M455.6,174.7L451.6,164.3L453.3,162.5L457.3,172.9Z" fill="#3805ac"/><path d="M323.2,133.5L320.0,149.8L322.1,144.8L325.2,127.3Z" fill="#1d01e1"/><path d="M418.2,45.5L413.9,44.9L415.7,46.7L420.0,47.5Z" fill="#e84b00"/><path d="M370.1,53.4L366.0,54.0L368.1,51.7L372.2,50.6Z" fill="#fa7f00"/><path d="M363.9,56.7L359.8,58.7L361.9,56.4L366.0,54.0Z" fill="#fa9800"/><path d="M386.8,48.5L382.6,48.0L384.6,45.5L388.8,45.7Z" fill="#ea5000"/><path d="M450.1,87.0L446.3,71.2L447.7,78.0L451.5,95.3Z" fill="#ccf000"/><path d="M337.1,93.6L333.7,110.0L335.9,107.1L339.3,90.4Z" fill="#28cb1c"/><path d="M452.3,101.8L448.7,81.4L450.1,87.0L453.7,108.0Z" fill="#4ad80b"/><path d="M462.4,184.5L458.1,181.8L459.8,180.0L464.0,182.7Z" fill="#3c069d"/><path d="M397.3,46.5L393.0,46.0L395.0,43.9L399.2,44.2Z" fill="#e44100"/><path d="M458.1,181.8L453.9,176.6L455.6,174.7L459.8,180.0Z" fill="#3b06a1"/><path d="M407.7,45.2L403.5,44.7L405.4,43.8L409.6,44.3Z" fill="#e44100"/><path d="M321.1,140.6L317.9,155.2L320.0,149.8L323.2,133.5Z" fill="#2401d5"/><path d="M477.2,186.4L472.8,185.5L474.4,183.7L478.8,184.6Z" fill="#3c069b"/><path d="M380.6,51.2L376.4,50.6L378.4,47.8L382.6,48.0Z" fill="#f36300"/><path d="M422.5,46.4L418.2,45.5L420.0,47.5L424.3,48.6Z" fill="#ea4f00"/><path d="M443.8,65.6L439.6,57.7L441.2,64.3L445.2,74.3Z" fill="#fac200"/><path d="M347.4,74.7L343.6,84.5L345.7,81.8L349.5,71.7Z" fill="#f1ed00"/><path d="M466.7,186.1L462.4,184.5L464.0,182.7L468.4,184.3Z" fill="#3c069c"/><path d="M453.3,162.5L449.6,144.3L451.3,142.8L455.0,160.9Z" fill="#2c02c6"/><path d="M319.1,148.3L315.8,160.8L317.9,155.2L321.1,140.6Z" fill="#2a02ca"/><path d="M355.6,64.2L351.6,68.8L353.7,66.3L357.7,61.3Z" fill="#fabf00"/><path d="M307.3,180.9L303.4,182.5L305.7,179.5L309.5,176.7Z" fill="#3b06a0"/><path d="M391.0,49.1L386.8,48.5L388.8,45.7L393.0,46.0Z" fill="#ea4f00"/><path d="M374.3,53.7L370.1,53.4L372.2,50.6L376.4,50.6Z" fill="#f87700"/><path d="M301.0,185.2L297.1,185.3L299.4,183.1L303.4,182.5Z" fill="#3c069d"/><path d="M401.5,47.0L397.3,46.5L399.2,44.2L403.5,44.7Z" fill="#e44100"/><path d="M412.0,45.7L407.7,45.2L409.6,44.3L413.9,44.9Z" fill="#e44100"/><path d="M426.8,47.7L422.5,46.4L424.3,48.6L428.5,50.4Z" fill="#ee5700"/><path d="M368.1,56.4L363.9,56.7L366.0,54.0L370.1,53.4Z" fill="#fa8b00"/><path d="M317.2,156.3L313.7,166.5L315.8,160.8L319.1,148.3Z" fill="#3103be"/><path d="M361.8,59.6L357.7,61.3L359.8,58.7L363.9,56.7Z" fill="#faa000"/><path d="M384.8,51.9L380.6,51.2L382.6,48.0L386.8,48.5Z" fill="#f36300"/><path d="M471.1,187.3L466.7,186.1L468.4,184.3L472.8,185.5Z" fill="#3c069b"/><path d="M453.9,176.6L449.9,166.3L451.6,164.3L455.6,174.7Z" fill="#3805ab"/><path d="M335.0,97.2L331.6,113.4L333.7,110.0L337.1,93.6Z" fill="#1cc228"/><path d="M453.0,141.8L449.5,117.7L451.2,117.7L454.6,141.5Z" fill="#080afe"/><path d="M439.6,57.7L435.4,52.7L437.0,57.6L441.2,64.3Z" fill="#fa9b00"/><path d="M315.2,164.2L311.6,171.8L313.7,166.5L317.2,156.3Z" fill="#3604b3"/><path d="M431.1,49.7L426.8,47.7L428.5,50.4L432.8,53.2Z" fill="#f36500"/><path d="M395.3,49.6L391.0,49.1L393.0,46.0L397.3,46.5Z" fill="#ea4e00"/><path d="M378.6,54.6L374.3,53.7L376.4,50.6L380.6,51.2Z" fill="#f87600"/><path d="M435.4,52.7L431.1,49.7L432.8,53.2L437.0,57.6Z" fill="#f97d00"/><path d="M452.8,118.9L449.2,95.0L450.8,97.5L454.3,121.4Z" fill="#0ba258"/><path d="M416.3,46.3L412.0,45.7L413.9,44.9L418.2,45.5Z" fill="#e44100"/><path d="M405.8,47.5L401.5,47.0L403.5,44.7L407.7,45.2Z" fill="#e44100"/><path d="M345.2,77.8L341.4,87.4L343.6,84.5L347.4,74.7Z" fill="#ecef00"/><path d="M460.7,186.3L456.4,183.6L458.1,181.8L462.4,184.5Z" fill="#3c069d"/><path d="M456.4,183.6L452.2,178.5L453.9,176.6L458.1,181.8Z" fill="#3b06a1"/><path d="M313.2,171.5L309.5,176.7L311.6,171.8L315.2,164.2Z" fill="#3805ac"/><path d="M389.0,52.6L384.8,51.9L386.8,48.5L391.0,49.1Z" fill="#f36400"/><path d="M305.0,184.5L301.0,185.2L303.4,182.5L307.3,180.9Z" fill="#3c069e"/><path d="M372.3,57.0L368.1,56.4L370.1,53.4L374.3,53.7Z" fill="#fa8700"/><path d="M475.6,188.2L471.1,187.3L472.8,185.5L477.2,186.4Z" fill="#3c069b"/><path d="M353.5,67.2L349.5,71.7L351.6,68.8L355.6,64.2Z" fill="#fac600"/><path d="M382.8,55.6L378.6,54.6L380.6,51.2L384.8,51.9Z" fill="#f87800"/><path d="M465.1,187.9L460.7,186.3L462.4,184.5L466.7,186.1Z" fill="#3c069c"/><path d="M298.7,187.7L294.7,187.4L297.1,185.3L301.0,185.2Z" fill="#3c069c"/><path d="M366.0,59.5L361.8,59.6L363.9,56.7L368.1,56.4Z" fill="#fa9700"/><path d="M399.6,50.2L395.3,49.6L397.3,46.5L401.5,47.0Z" fill="#ea4e00"/><path d="M451.6,164.3L447.9,146.3L449.6,144.3L453.3,162.5Z" fill="#2c02c6"/><path d="M359.7,62.7L355.6,64.2L357.7,61.3L361.8,59.6Z" fill="#faaa00"/><path d="M332.8,101.2L329.4,117.3L331.6,113.4L335.0,97.2Z" fill="#12b33c"/><path d="M420.6,47.1L416.3,46.3L418.2,45.5L422.5,46.4Z" fill="#e44100"/><path d="M311.1,177.7L307.3,180.9L309.5,176.7L313.2,171.5Z" fill="#3a05a6"/><path d="M410.1,48.1L405.8,47.5L407.7,45.2L412.0,45.7Z" fill="#e44100"/><path d="M446.3,71.2L442.2,61.0L443.8,65.6L447.7,78.0Z" fill="#f9c900"/><path d="M393.3,53.3L389.0,52.6L391.0,49.1L395.3,49.6Z" fill="#f36500"/><path d="M376.5,58.1L372.3,57.0L374.3,53.7L378.6,54.6Z" fill="#fa8800"/><path d="M452.2,178.5L448.1,168.3L449.9,166.3L453.9,176.6Z" fill="#3805ab"/><path d="M469.5,189.1L465.1,187.9L466.7,186.1L471.1,187.3Z" fill="#3c069b"/><path d="M387.1,56.6L382.8,55.6L384.8,51.9L389.0,52.6Z" fill="#f97b00"/><path d="M403.8,50.7L399.6,50.2L401.5,47.0L405.8,47.5Z" fill="#ea4e00"/><path d="M343.1,80.9L339.3,90.4L341.4,87.4L345.2,77.8Z" fill="#e3f000"/><path d="M370.2,60.3L366.0,59.5L368.1,56.4L372.3,57.0Z" fill="#fa9500"/><path d="M425.0,48.0L420.6,47.1L422.5,46.4L426.8,47.7Z" fill="#e44200"/><path d="M351.4,70.4L347.4,74.7L349.5,71.7L353.5,67.2Z" fill="#f9ce00"/><path d="M302.7,187.6L298.7,187.7L301.0,185.2L305.0,184.5Z" fill="#3c069d"/><path d="M451.3,142.8L447.8,118.6L449.5,117.7L453.0,141.8Z" fill="#070cfc"/><path d="M414.4,48.6L410.1,48.1L412.0,45.7L416.3,46.3Z" fill="#e44100"/><path d="M450.8,97.5L447.1,78.3L448.7,81.4L452.3,101.8Z" fill="#90ea00"/><path d="M380.8,59.4L376.5,58.1L378.6,54.6L382.8,55.6Z" fill="#fa8c00"/><path d="M308.9,182.9L305.0,184.5L307.3,180.9L311.1,177.7Z" fill="#3b06a2"/><path d="M397.6,53.9L393.3,53.3L395.3,49.6L399.6,50.2Z" fill="#f36500"/><path d="M330.7,105.8L327.3,121.9L329.4,117.3L332.8,101.2Z" fill="#069173"/><path d="M459.0,188.1L454.7,185.5L456.4,183.6L460.7,186.3Z" fill="#3c069d"/><path d="M454.7,185.5L450.4,180.4L452.2,178.5L456.4,183.6Z" fill="#3b06a1"/><path d="M363.9,62.7L359.7,62.7L361.8,59.6L366.0,59.5Z" fill="#faa200"/><path d="M448.7,81.4L444.7,67.6L446.3,71.2L450.1,87.0Z" fill="#f6e500"/><path d="M357.6,65.8L353.5,67.2L355.6,64.2L359.7,62.7Z" fill="#fab400"/><path d="M473.9,190.0L469.5,189.1L471.1,187.3L475.6,188.2Z" fill="#3c069b"/><path d="M391.3,57.4L387.1,56.6L389.0,52.6L393.3,53.3Z" fill="#fa7e00"/><path d="M429.3,49.4L425.0,48.0L426.8,47.7L431.1,49.7Z" fill="#e74900"/><path d="M374.5,61.7L370.2,60.3L372.3,57.0L376.5,58.1Z" fill="#fa9800"/><path d="M408.2,51.2L403.8,50.7L405.8,47.5L410.1,48.1Z" fill="#ea4e00"/><path d="M442.2,61.0L437.9,55.0L439.6,57.7L443.8,65.6Z" fill="#fa9c00"/><path d="M449.9,166.3L446.1,148.5L447.9,146.3L451.6,164.3Z" fill="#2d02c5"/><path d="M463.4,189.7L459.0,188.1L460.7,186.3L465.1,187.9Z" fill="#3c069c"/><path d="M385.1,60.7L380.8,59.4L382.8,55.6L387.1,56.6Z" fill="#fa9000"/><path d="M418.7,49.2L414.4,48.6L416.3,46.3L420.6,47.1Z" fill="#e44100"/><path d="M433.6,51.5L429.3,49.4L431.1,49.7L435.4,52.7Z" fill="#ef5a00"/><path d="M401.9,54.5L397.6,53.9L399.6,50.2L403.8,50.7Z" fill="#f36600"/><path d="M451.2,117.7L447.6,94.2L449.2,95.0L452.8,118.9Z" fill="#19bd2e"/><path d="M328.5,111.2L325.2,127.3L327.3,121.9L330.7,105.8Z" fill="#004bc5"/><path d="M437.9,55.0L433.6,51.5L435.4,52.7L439.6,57.7Z" fill="#f77600"/><path d="M340.9,84.2L337.1,93.6L339.3,90.4L343.1,80.9Z" fill="#bff000"/><path d="M368.2,63.7L363.9,62.7L366.0,59.5L370.2,60.3Z" fill="#faa100"/><path d="M378.8,63.3L374.5,61.7L376.5,58.1L380.8,59.4Z" fill="#fa9c00"/><path d="M395.6,58.1L391.3,57.4L393.3,53.3L397.6,53.9Z" fill="#fa8000"/><path d="M349.2,73.6L345.2,77.8L347.4,74.7L351.4,70.4Z" fill="#f8d700"/><path d="M450.4,180.4L446.4,170.4L448.1,168.3L452.2,178.5Z" fill="#3905ab"/><path d="M306.7,187.0L302.7,187.6L305.0,184.5L308.9,182.9Z" fill="#3c069e"/><path d="M467.9,190.9L463.4,189.7L465.1,187.9L469.5,189.1Z" fill="#3c069b"/><path d="M412.5,51.8L408.2,51.2L410.1,48.1L414.4,48.6Z" fill="#ea4e00"/><path d="M389.3,61.8L385.1,60.7L387.1,56.6L391.3,57.4Z" fill="#fa9400"/><path d="M361.9,66.0L357.6,65.8L359.7,62.7L363.9,62.7Z" fill="#faad00"/><path d="M300.3,190.3L296.3,190.0L298.7,187.7L302.7,187.6Z" fill="#3c069c"/><path d="M326.5,117.6L323.2,133.5L325.2,127.3L328.5,111.2Z" fill="#0220ed"/><path d="M423.1,49.9L418.7,49.2L420.6,47.1L425.0,48.0Z" fill="#e44200"/><path d="M355.5,69.0L351.4,70.4L353.5,67.2L357.6,65.8Z" fill="#fabe00"/><path d="M316.8,163.8L313.2,171.5L315.2,164.2L318.7,153.8Z" fill="#3203bb"/><path d="M314.8,172.8L311.1,177.7L313.2,171.5L316.8,163.8Z" fill="#3704af"/><path d="M372.4,65.1L368.2,63.7L370.2,60.3L374.5,61.7Z" fill="#faa400"/><path d="M406.2,55.0L401.9,54.5L403.8,50.7L408.2,51.2Z" fill="#f36600"/><path d="M383.0,64.9L378.8,63.3L380.8,59.4L385.1,60.7Z" fill="#faa200"/><path d="M318.7,153.8L315.2,164.2L317.2,156.3L320.5,143.6Z" fill="#2902cb"/><path d="M449.6,144.3L446.0,120.2L447.8,118.6L451.3,142.8Z" fill="#070dfc"/><path d="M453.0,187.4L448.7,182.4L450.4,180.4L454.7,185.5Z" fill="#3b06a0"/><path d="M457.3,190.0L453.0,187.4L454.7,185.5L459.0,188.1Z" fill="#3c069d"/><path d="M324.4,125.1L321.1,140.6L323.2,133.5L326.5,117.6Z" fill="#0513f7"/><path d="M320.5,143.6L317.2,156.3L319.1,148.3L322.5,133.8Z" fill="#2000dc"/><path d="M399.9,58.6L395.6,58.1L397.6,53.9L401.9,54.5Z" fill="#fa8000"/><path d="M312.8,180.1L308.9,182.9L311.1,177.7L314.8,172.8Z" fill="#3905a7"/><path d="M322.5,133.8L319.1,148.3L321.1,140.6L324.4,125.1Z" fill="#0d06f7"/><path d="M472.3,191.8L467.9,190.9L469.5,189.1L473.9,190.0Z" fill="#3c069b"/><path d="M393.6,62.5L389.3,61.8L391.3,57.4L395.6,58.1Z" fill="#fa9600"/><path d="M416.8,52.3L412.5,51.8L414.4,48.6L418.7,49.2Z" fill="#ea4e00"/><path d="M448.1,168.3L444.3,150.8L446.1,148.5L449.9,166.3Z" fill="#2d02c4"/><path d="M338.7,87.8L335.0,97.2L337.1,93.6L340.9,84.2Z" fill="#9eec00"/><path d="M366.1,66.9L361.9,66.0L363.9,62.7L368.2,63.7Z" fill="#faad00"/><path d="M376.7,67.0L372.4,65.1L374.5,61.7L378.8,63.3Z" fill="#faaa00"/><path d="M427.5,50.9L423.1,49.9L425.0,48.0L429.3,49.4Z" fill="#e64600"/><path d="M444.7,67.6L440.5,59.4L442.2,61.0L446.3,71.2Z" fill="#faad00"/><path d="M387.3,66.3L383.0,64.9L385.1,60.7L389.3,61.8Z" fill="#faa600"/><path d="M461.7,191.6L457.3,190.0L459.0,188.1L463.4,189.7Z" fill="#3c069c"/><path d="M347.1,76.8L343.1,80.9L345.2,77.8L349.2,73.6Z" fill="#f8df00"/><path d="M410.5,55.5L406.2,55.0L408.2,51.2L412.5,51.8Z" fill="#f36500"/><path d="M304.4,190.3L300.3,190.3L302.7,187.6L306.7,187.0Z" fill="#3c069d"/><path d="M359.7,69.2L355.5,69.0L357.6,65.8L361.9,66.0Z" fill="#fab800"/><path d="M310.7,185.7L306.7,187.0L308.9,182.9L312.8,180.1Z" fill="#3b06a2"/><path d="M404.2,59.2L399.9,58.6L401.9,54.5L406.2,55.0Z" fill="#fa8000"/><path d="M381.0,69.0L376.7,67.0L378.8,63.3L383.0,64.9Z" fill="#fab100"/><path d="M449.2,95.0L445.4,77.2L447.1,78.3L450.8,97.5Z" fill="#d5f000"/><path d="M353.4,72.3L349.2,73.6L351.4,70.4L355.5,69.0Z" fill="#fac700"/><path d="M448.7,182.4L444.6,172.6L446.4,170.4L450.4,180.4Z" fill="#3905aa"/><path d="M431.8,52.4L427.5,50.9L429.3,49.4L433.6,51.5Z" fill="#ea5000"/><path d="M370.4,68.5L366.1,66.9L368.2,63.7L372.4,65.1Z" fill="#fab000"/><path d="M397.9,63.1L393.6,62.5L395.6,58.1L399.9,58.6Z" fill="#fa9600"/><path d="M421.2,52.8L416.8,52.3L418.7,49.2L423.1,49.9Z" fill="#ea4f00"/><path d="M466.2,192.7L461.7,191.6L463.4,189.7L467.9,190.9Z" fill="#3c069b"/><path d="M391.6,67.2L387.3,66.3L389.3,61.8L393.6,62.5Z" fill="#faa800"/><path d="M297.9,192.6L293.8,192.1L296.3,190.0L300.3,190.3Z" fill="#3c069c"/><path d="M449.5,117.7L445.8,94.6L447.6,94.2L451.2,117.7Z" fill="#22c91f"/><path d="M440.5,59.4L436.2,54.9L437.9,55.0L442.2,61.0Z" fill="#fa8400"/><path d="M447.1,78.3L443.0,66.3L444.7,67.6L448.7,81.4Z" fill="#f9d000"/><path d="M436.2,54.9L431.8,52.4L433.6,51.5L437.9,55.0Z" fill="#f36300"/><path d="M385.3,70.6L381.0,69.0L383.0,64.9L387.3,66.3Z" fill="#fab700"/><path d="M336.5,91.6L332.8,101.2L335.0,97.2L338.7,87.8Z" fill="#7ce600"/><path d="M414.9,55.8L410.5,55.5L412.5,51.8L416.8,52.3Z" fill="#f36500"/><path d="M374.7,70.5L370.4,68.5L372.4,65.1L376.7,67.0Z" fill="#fab700"/><path d="M447.9,146.3L444.2,122.4L446.0,120.2L449.6,144.3Z" fill="#070cfc"/><path d="M364.0,70.2L359.7,69.2L361.9,66.0L366.1,66.9Z" fill="#fab800"/><path d="M451.2,189.3L446.9,184.4L448.7,182.4L453.0,187.4Z" fill="#3b06a0"/><path d="M455.6,191.9L451.2,189.3L453.0,187.4L457.3,190.0Z" fill="#3c069d"/><path d="M408.6,59.5L404.2,59.2L406.2,55.0L410.5,55.5Z" fill="#fa7f00"/><path d="M344.9,80.1L340.9,84.2L343.1,80.9L347.1,76.8Z" fill="#f6e900"/><path d="M402.3,63.6L397.9,63.1L399.9,58.6L404.2,59.2Z" fill="#fa9600"/><path d="M308.4,190.0L304.4,190.3L306.7,187.0L310.7,185.7Z" fill="#3c069e"/><path d="M425.6,53.4L421.2,52.8L423.1,49.9L427.5,50.9Z" fill="#eb5100"/><path d="M470.7,193.7L466.2,192.7L467.9,190.9L472.3,191.8Z" fill="#3c069b"/><path d="M446.4,170.4L442.5,153.1L444.3,150.8L448.1,168.3Z" fill="#2e03c3"/><path d="M395.9,67.8L391.6,67.2L393.6,62.5L397.9,63.1Z" fill="#faa900"/><path d="M379.0,72.7L374.7,70.5L376.7,67.0L381.0,69.0Z" fill="#fabf00"/><path d="M357.6,72.5L353.4,72.3L355.5,69.0L359.7,69.2Z" fill="#fac200"/><path d="M389.6,71.7L385.3,70.6L387.3,66.3L391.6,67.2Z" fill="#fabb00"/><path d="M302.0,193.0L297.9,192.6L300.3,190.3L304.4,190.3Z" fill="#3c069c"/><path d="M351.3,75.5L347.1,76.8L349.2,73.6L353.4,72.3Z" fill="#f9d000"/><path d="M460.0,193.4L455.6,191.9L457.3,190.0L461.7,191.6Z" fill="#3c069c"/><path d="M368.3,71.8L364.0,70.2L366.1,66.9L370.4,68.5Z" fill="#fabc00"/><path d="M316.7,176.1L312.8,180.1L314.8,172.8L318.6,166.3Z" fill="#3704af"/><path d="M419.3,56.2L414.9,55.8L416.8,52.3L421.2,52.8Z" fill="#f36300"/><path d="M383.3,74.7L379.0,72.7L381.0,69.0L385.3,70.6Z" fill="#fac500"/><path d="M314.6,183.8L310.7,185.7L312.8,180.1L316.7,176.1Z" fill="#3a05a7"/><path d="M334.4,95.8L330.7,105.8L332.8,101.2L336.5,91.6Z" fill="#5ade03"/><path d="M430.0,54.5L425.6,53.4L427.5,50.9L431.8,52.4Z" fill="#ed5600"/><path d="M412.9,59.8L408.6,59.5L410.5,55.5L414.9,55.8Z" fill="#f97d00"/><path d="M446.9,184.4L442.8,175.0L444.6,172.6L448.7,182.4Z" fill="#3905aa"/><path d="M318.6,166.3L314.8,172.8L316.8,163.8L320.4,154.7Z" fill="#3003be"/><path d="M406.6,63.9L402.3,63.6L404.2,59.2L408.6,59.5Z" fill="#fa9500"/><path d="M372.6,73.9L368.3,71.8L370.4,68.5L374.7,70.5Z" fill="#fac200"/><path d="M400.3,68.2L395.9,67.8L397.9,63.1L402.3,63.6Z" fill="#faa900"/><path d="M443.0,66.3L438.7,59.8L440.5,59.4L444.7,67.6Z" fill="#fa9e00"/><path d="M393.9,72.4L389.6,71.7L391.6,67.2L395.9,67.8Z" fill="#fabc00"/><path d="M361.9,73.5L357.6,72.5L359.7,69.2L364.0,70.2Z" fill="#fac200"/><path d="M464.5,194.6L460.0,193.4L461.7,191.6L466.2,192.7Z" fill="#3c069b"/><path d="M342.8,83.6L338.7,87.8L340.9,84.2L344.9,80.1Z" fill="#f1ed00"/><path d="M387.6,76.1L383.3,74.7L385.3,70.6L389.6,71.7Z" fill="#f9c900"/><path d="M434.4,56.3L430.0,54.5L431.8,52.4L436.2,54.9Z" fill="#f26200"/><path d="M446.1,148.5L442.4,125.0L444.2,122.4L447.9,146.3Z" fill="#070afd"/><path d="M447.8,118.6L444.0,96.0L445.8,94.6L449.5,117.7Z" fill="#28cb1c"/><path d="M306.1,193.3L302.0,193.0L304.4,190.3L308.4,190.0Z" fill="#3c069d"/><path d="M423.7,56.5L419.3,56.2L421.2,52.8L425.6,53.4Z" fill="#f36300"/><path d="M312.5,189.3L308.4,190.0L310.7,185.7L314.6,183.8Z" fill="#3b06a1"/><path d="M376.9,76.1L372.6,73.9L374.7,70.5L379.0,72.7Z" fill="#f9c900"/><path d="M447.6,94.2L443.6,77.5L445.4,77.2L449.2,95.0Z" fill="#ecef00"/><path d="M320.4,154.7L316.8,163.8L318.7,153.8L322.2,142.6Z" fill="#2501d3"/><path d="M438.7,59.8L434.4,56.3L436.2,54.9L440.5,59.4Z" fill="#f87a00"/><path d="M355.5,75.8L351.3,75.5L353.4,72.3L357.6,72.5Z" fill="#f9cb00"/><path d="M449.5,191.3L445.2,186.6L446.9,184.4L451.2,189.3Z" fill="#3b06a0"/><path d="M332.2,100.7L328.5,111.2L330.7,105.8L334.4,95.8Z" fill="#40d410"/><path d="M453.9,193.8L449.5,191.3L451.2,189.3L455.6,191.9Z" fill="#3c069d"/><path d="M349.1,78.9L344.9,80.1L347.1,76.8L351.3,75.5Z" fill="#f8d900"/><path d="M417.3,59.8L412.9,59.8L414.9,55.8L419.3,56.2Z" fill="#f97a00"/><path d="M366.2,75.1L361.9,73.5L364.0,70.2L368.3,71.8Z" fill="#fac600"/><path d="M444.6,172.6L440.7,155.7L442.5,153.1L446.4,170.4Z" fill="#2f03c2"/><path d="M411.0,63.9L406.6,63.9L408.6,59.5L412.9,59.8Z" fill="#fa9300"/><path d="M381.2,78.3L376.9,76.1L379.0,72.7L383.3,74.7Z" fill="#f9d000"/><path d="M469.0,195.6L464.5,194.6L466.2,192.7L470.7,193.7Z" fill="#3c069b"/><path d="M404.6,68.4L400.3,68.2L402.3,63.6L406.6,63.9Z" fill="#faa800"/><path d="M445.4,77.2L441.2,66.7L443.0,66.3L447.1,78.3Z" fill="#fac400"/><path d="M398.3,72.8L393.9,72.4L395.9,67.8L400.3,68.2Z" fill="#fabc00"/><path d="M299.6,195.4L295.5,194.8L297.9,192.6L302.0,193.0Z" fill="#3c069c"/><path d="M391.9,76.8L387.6,76.1L389.6,71.7L393.9,72.4Z" fill="#f9cb00"/><path d="M458.3,195.3L453.9,193.8L455.6,191.9L460.0,193.4Z" fill="#3c069c"/><path d="M322.2,142.6L318.7,153.8L320.5,143.6L324.0,131.3Z" fill="#1304f0"/><path d="M428.1,57.2L423.7,56.5L425.6,53.4L430.0,54.5Z" fill="#f36400"/><path d="M370.5,77.2L366.2,75.1L368.3,71.8L372.6,73.9Z" fill="#f9cb00"/><path d="M330.1,106.4L326.5,117.6L328.5,111.2L332.2,100.7Z" fill="#21c820"/><path d="M359.8,76.8L355.5,75.8L357.6,72.5L361.9,73.5Z" fill="#f9cb00"/><path d="M385.6,79.9L381.2,78.3L383.3,74.7L387.6,76.1Z" fill="#f9d500"/><path d="M445.2,186.6L441.0,177.6L442.8,175.0L446.9,184.4Z" fill="#3905a9"/><path d="M340.6,87.2L336.5,91.6L338.7,87.8L342.8,83.6Z" fill="#ebef00"/><path d="M310.2,193.4L306.1,193.3L308.4,190.0L312.5,189.3Z" fill="#3c069e"/><path d="M421.7,60.0L417.3,59.8L419.3,56.2L423.7,56.5Z" fill="#f87700"/><path d="M318.6,181.3L314.6,183.8L316.7,176.1L320.5,171.5Z" fill="#3805ad"/><path d="M374.8,79.5L370.5,77.2L372.6,73.9L376.9,76.1Z" fill="#f9d200"/><path d="M324.0,131.3L320.5,143.6L322.5,133.8L326.0,121.4Z" fill="#0514f6"/><path d="M328.0,113.2L324.4,125.1L326.5,117.6L330.1,106.4Z" fill="#0a9f5c"/><path d="M353.3,79.1L349.1,78.9L351.3,75.5L355.5,75.8Z" fill="#f9d400"/><path d="M415.4,63.7L411.0,63.9L412.9,59.8L417.3,59.8Z" fill="#fa8f00"/><path d="M402.6,72.7L398.3,72.8L400.3,68.2L404.6,68.4Z" fill="#faba00"/><path d="M409.0,68.0L404.6,68.4L406.6,63.9L411.0,63.9Z" fill="#faa500"/><path d="M432.5,58.6L428.1,57.2L430.0,54.5L434.4,56.3Z" fill="#f56a00"/><path d="M462.8,196.5L458.3,195.3L460.0,193.4L464.5,194.6Z" fill="#3c069b"/><path d="M316.5,188.4L312.5,189.3L314.6,183.8L318.6,181.3Z" fill="#3a05a4"/><path d="M396.3,77.1L391.9,76.8L393.9,72.4L398.3,72.8Z" fill="#f9cb00"/><path d="M326.0,121.4L322.5,133.8L324.4,125.1L328.0,113.2Z" fill="#0028e8"/><path d="M303.7,196.0L299.6,195.4L302.0,193.0L306.1,193.3Z" fill="#3c069c"/><path d="M346.9,82.2L342.8,83.6L344.9,80.1L349.1,78.9Z" fill="#f7e300"/><path d="M444.3,150.8L440.5,127.6L442.4,125.0L446.1,148.5Z" fill="#0808ff"/><path d="M364.1,78.4L359.8,76.8L361.9,73.5L366.2,75.1Z" fill="#f9cf00"/><path d="M441.2,66.7L436.9,61.3L438.7,59.8L443.0,66.3Z" fill="#fa9800"/><path d="M320.5,171.5L316.7,176.1L318.6,166.3L322.3,159.1Z" fill="#3203bb"/><path d="M389.9,80.7L385.6,79.9L387.6,76.1L391.9,76.8Z" fill="#f8d800"/><path d="M379.2,81.6L374.8,79.5L376.9,76.1L381.2,78.3Z" fill="#f8d900"/><path d="M446.0,120.2L442.2,98.1L444.0,96.0L447.8,118.6Z" fill="#27cb1c"/><path d="M436.9,61.3L432.5,58.6L434.4,56.3L438.7,59.8Z" fill="#f97b00"/><path d="M447.7,193.3L443.4,188.9L445.2,186.6L449.5,191.3Z" fill="#3c069f"/><path d="M442.8,175.0L438.8,158.7L440.7,155.7L444.6,172.6Z" fill="#3003c0"/><path d="M452.1,195.7L447.7,193.3L449.5,191.3L453.9,193.8Z" fill="#3c069d"/><path d="M426.2,60.4L421.7,60.0L423.7,56.5L428.1,57.2Z" fill="#f77600"/><path d="M445.8,94.6L441.8,78.9L443.6,77.5L447.6,94.2Z" fill="#efee00"/><path d="M368.4,80.5L364.1,78.4L366.2,75.1L370.5,77.2Z" fill="#f9d400"/><path d="M338.4,91.1L334.4,95.8L336.5,91.6L340.6,87.2Z" fill="#cbf000"/><path d="M383.5,83.3L379.2,81.6L381.2,78.3L385.6,79.9Z" fill="#f8df00"/><path d="M357.6,80.1L353.3,79.1L355.5,75.8L359.8,76.8Z" fill="#f9d400"/><path d="M467.3,197.4L462.8,196.5L464.5,194.6L469.0,195.6Z" fill="#3c069b"/><path d="M314.3,193.4L310.2,193.4L312.5,189.3L316.5,188.4Z" fill="#3c069f"/><path d="M419.8,63.5L415.4,63.7L417.3,59.8L421.7,60.0Z" fill="#fa8a00"/><path d="M400.6,76.7L396.3,77.1L398.3,72.8L402.6,72.7Z" fill="#f9c800"/><path d="M307.8,196.5L303.7,196.0L306.1,193.3L310.2,193.4Z" fill="#3c069c"/><path d="M407.0,72.0L402.6,72.7L404.6,68.4L409.0,68.0Z" fill="#fab500"/><path d="M413.4,67.5L409.0,68.0L411.0,63.9L415.4,63.7Z" fill="#faa000"/><path d="M443.6,77.5L439.4,68.2L441.2,66.7L445.4,77.2Z" fill="#fabf00"/><path d="M456.6,197.2L452.1,195.7L453.9,193.8L458.3,195.3Z" fill="#3c069c"/><path d="M372.7,82.7L368.4,80.5L370.5,77.2L374.8,79.5Z" fill="#f8db00"/><path d="M394.3,80.9L389.9,80.7L391.9,76.8L396.3,77.1Z" fill="#f8d700"/><path d="M322.3,159.1L318.6,166.3L320.4,154.7L324.1,145.7Z" fill="#2501d2"/><path d="M443.4,188.9L439.1,180.5L441.0,177.6L445.2,186.6Z" fill="#3905a8"/><path d="M351.2,82.4L346.9,82.2L349.1,78.9L353.3,79.1Z" fill="#f8dd00"/><path d="M344.7,85.7L340.6,87.2L342.8,83.6L346.9,82.2Z" fill="#f4ec00"/><path d="M430.6,61.4L426.2,60.4L428.1,57.2L432.5,58.6Z" fill="#f87900"/><path d="M361.9,81.6L357.6,80.1L359.8,76.8L364.1,78.4Z" fill="#f8d700"/><path d="M387.9,84.1L383.5,83.3L385.6,79.9L389.9,80.7Z" fill="#f7e200"/><path d="M377.1,84.8L372.7,82.7L374.8,79.5L379.2,81.6Z" fill="#f7e200"/><path d="M320.6,187.3L316.5,188.4L318.6,181.3L322.6,178.6Z" fill="#3905a8"/><path d="M442.5,153.1L438.7,130.4L440.5,127.6L444.3,150.8Z" fill="#0a07fc"/><path d="M336.2,95.4L332.2,100.7L334.4,95.8L338.4,91.1Z" fill="#9aec00"/><path d="M461.1,198.3L456.6,197.2L458.3,195.3L462.8,196.5Z" fill="#3c069b"/><path d="M322.6,178.6L318.6,181.3L320.5,171.5L324.4,166.7Z" fill="#3604b3"/><path d="M424.3,63.7L419.8,63.5L421.7,60.0L426.2,60.4Z" fill="#fa8700"/><path d="M444.2,122.4L440.4,100.6L442.2,98.1L446.0,120.2Z" fill="#22c91f"/><path d="M435.0,63.6L430.6,61.4L432.5,58.6L436.9,61.3Z" fill="#fa8300"/><path d="M441.0,177.6L436.9,162.0L438.8,158.7L442.8,175.0Z" fill="#3103bd"/><path d="M366.3,83.6L361.9,81.6L364.1,78.4L368.4,80.5Z" fill="#f8dd00"/><path d="M439.4,68.2L435.0,63.6L436.9,61.3L441.2,66.7Z" fill="#fa9900"/><path d="M312.0,196.9L307.8,196.5L310.2,193.4L314.3,193.4Z" fill="#3c069d"/><path d="M318.5,193.2L314.3,193.4L316.5,188.4L320.6,187.3Z" fill="#3b06a1"/><path d="M355.5,83.3L351.2,82.4L353.3,79.1L357.6,80.1Z" fill="#f8dd00"/><path d="M381.4,86.2L377.1,84.8L379.2,81.6L383.5,83.3Z" fill="#f6e800"/><path d="M445.9,195.4L441.5,191.3L443.4,188.9L447.7,193.3Z" fill="#3c069f"/><path d="M417.9,67.1L413.4,67.5L415.4,63.7L419.8,63.5Z" fill="#fa9b00"/><path d="M405.0,75.8L400.6,76.7L402.6,72.7L407.0,72.0Z" fill="#fac300"/><path d="M398.6,80.3L394.3,80.9L396.3,77.1L400.6,76.7Z" fill="#f9d400"/><path d="M411.5,71.2L407.0,72.0L409.0,68.0L413.4,67.5Z" fill="#faaf00"/><path d="M324.1,145.7L320.4,154.7L322.2,142.6L325.9,132.9Z" fill="#0f06f4"/><path d="M450.4,197.7L445.9,195.4L447.7,193.3L452.1,195.7Z" fill="#3c069d"/><path d="M392.2,84.2L387.9,84.1L389.9,80.7L394.3,80.9Z" fill="#f7e200"/><path d="M370.6,85.7L366.3,83.6L368.4,80.5L372.7,82.7Z" fill="#f7e400"/><path d="M444.0,96.0L440.0,81.0L441.8,78.9L445.8,94.6Z" fill="#efee00"/><path d="M349.0,85.7L344.7,85.7L346.9,82.2L351.2,82.4Z" fill="#f6e700"/><path d="M342.6,89.4L338.4,91.1L340.6,87.2L344.7,85.7Z" fill="#eeee00"/><path d="M465.6,199.3L461.1,198.3L462.8,196.5L467.3,197.4Z" fill="#3c069b"/><path d="M334.0,100.3L330.1,106.4L332.2,100.7L336.2,95.4Z" fill="#68e200"/><path d="M441.5,191.3L437.3,183.6L439.1,180.5L443.4,188.9Z" fill="#3a05a7"/><path d="M359.8,84.8L355.5,83.3L357.6,80.1L361.9,81.6Z" fill="#f8e000"/><path d="M428.7,64.4L424.3,63.7L426.2,60.4L430.6,61.4Z" fill="#fa8700"/><path d="M385.8,87.0L381.4,86.2L383.5,83.3L387.9,84.1Z" fill="#f5eb00"/><path d="M454.9,199.1L450.4,197.7L452.1,195.7L456.6,197.2Z" fill="#3c069c"/><path d="M324.4,166.7L320.5,171.5L322.3,159.1L326.2,152.5Z" fill="#2a02ca"/><path d="M441.8,78.9L437.5,70.4L439.4,68.2L443.6,77.5Z" fill="#fac000"/><path d="M375.0,87.5L370.6,85.7L372.7,82.7L377.1,84.8Z" fill="#f5eb00"/><path d="M316.2,197.3L312.0,196.9L314.3,193.4L318.5,193.2Z" fill="#3c069e"/><path d="M440.7,155.7L436.8,133.4L438.7,130.4L442.5,153.1Z" fill="#0d06f8"/><path d="M422.3,67.0L417.9,67.1L419.8,63.5L424.3,63.7Z" fill="#fa9700"/><path d="M325.9,132.9L322.2,142.6L324.0,131.3L327.8,121.9Z" fill="#031bf1"/><path d="M324.7,186.2L320.6,187.3L322.6,178.6L326.7,176.0Z" fill="#3805ac"/><path d="M322.6,193.1L318.5,193.2L320.6,187.3L324.7,186.2Z" fill="#3b06a3"/><path d="M331.9,106.0L328.0,113.2L330.1,106.4L334.0,100.3Z" fill="#44d50e"/><path d="M364.1,86.5L359.8,84.8L361.9,81.6L366.3,83.6Z" fill="#f6e500"/><path d="M415.9,70.6L411.5,71.2L413.4,67.5L417.9,67.1Z" fill="#faa800"/><path d="M403.0,79.2L398.6,80.3L400.6,76.7L405.0,75.8Z" fill="#f9ce00"/><path d="M409.5,74.8L405.0,75.8L407.0,72.0L411.5,71.2Z" fill="#fabc00"/><path d="M439.1,180.5L435.0,165.8L436.9,162.0L441.0,177.6Z" fill="#3303ba"/><path d="M353.3,86.5L349.0,85.7L351.2,82.4L355.5,83.3Z" fill="#f6e600"/><path d="M433.1,66.3L428.7,64.4L430.6,61.4L435.0,63.6Z" fill="#fa8e00"/><path d="M396.6,83.6L392.2,84.2L394.3,80.9L398.6,80.3Z" fill="#f8de00"/><path d="M442.4,125.0L438.5,103.5L440.4,100.6L444.2,122.4Z" fill="#1dc326"/><path d="M379.3,88.6L375.0,87.5L377.1,84.8L381.4,86.2Z" fill="#f3ed00"/><path d="M437.5,70.4L433.1,66.3L435.0,63.6L439.4,68.2Z" fill="#fa9e00"/><path d="M459.4,200.3L454.9,199.1L456.6,197.2L461.1,198.3Z" fill="#3c069b"/><path d="M390.2,87.3L385.8,87.0L387.9,84.1L392.2,84.2Z" fill="#f5eb00"/><path d="M340.4,93.3L336.2,95.4L338.4,91.1L342.6,89.4Z" fill="#e2f000"/><path d="M327.8,121.9L324.0,131.3L326.0,121.4L329.8,113.1Z" fill="#007c94"/><path d="M329.8,113.1L326.0,121.4L328.0,113.2L331.9,106.0Z" fill="#1dc326"/><path d="M346.8,89.2L342.6,89.4L344.7,85.7L349.0,85.7Z" fill="#f2ed00"/><path d="M444.1,197.6L439.7,193.9L441.5,191.3L445.9,195.4Z" fill="#3c069e"/><path d="M368.5,88.3L364.1,86.5L366.3,83.6L370.6,85.7Z" fill="#f5eb00"/><path d="M326.7,176.0L322.6,178.6L324.4,166.7L328.4,162.4Z" fill="#3103bd"/><path d="M426.8,67.6L422.3,67.0L424.3,63.7L428.7,64.4Z" fill="#fa9500"/><path d="M448.6,199.7L444.1,197.6L445.9,195.4L450.4,197.7Z" fill="#3c069c"/><path d="M357.6,87.8L353.3,86.5L355.5,83.3L359.8,84.8Z" fill="#f6e900"/><path d="M442.2,98.1L438.1,83.5L440.0,81.0L444.0,96.0Z" fill="#edee00"/><path d="M320.4,197.8L316.2,197.3L318.5,193.2L322.6,193.1Z" fill="#3c069e"/><path d="M326.2,152.5L322.3,159.1L324.1,145.7L327.9,138.2Z" fill="#1603eb"/><path d="M383.7,89.4L379.3,88.6L381.4,86.2L385.8,87.0Z" fill="#f2ed00"/><path d="M439.7,193.9L435.4,187.0L437.3,183.6L441.5,191.3Z" fill="#3a05a5"/><path d="M463.9,201.2L459.4,200.3L461.1,198.3L465.6,199.3Z" fill="#3c069b"/><path d="M372.9,89.8L368.5,88.3L370.6,85.7L375.0,87.5Z" fill="#f2ed00"/><path d="M420.4,70.4L415.9,70.6L417.9,67.1L422.3,67.0Z" fill="#faa300"/><path d="M440.0,81.0L435.7,73.0L437.5,70.4L441.8,78.9Z" fill="#fac300"/><path d="M326.8,193.1L322.6,193.1L324.7,186.2L328.9,185.3Z" fill="#3a05a5"/><path d="M413.9,74.0L409.5,74.8L411.5,71.2L415.9,70.6Z" fill="#fab400"/><path d="M438.8,158.7L434.9,136.9L436.8,133.4L440.7,155.7Z" fill="#1005f3"/><path d="M407.5,78.2L403.0,79.2L405.0,75.8L409.5,74.8Z" fill="#fac700"/><path d="M401.0,82.6L396.6,83.6L398.6,80.3L403.0,79.2Z" fill="#f8d700"/><path d="M453.1,201.1L448.6,199.7L450.4,197.7L454.9,199.1Z" fill="#3c069c"/><path d="M351.1,89.8L346.8,89.2L349.0,85.7L353.3,86.5Z" fill="#f3ed00"/><path d="M437.3,183.6L433.1,170.1L435.0,165.8L439.1,180.5Z" fill="#3504b6"/><path d="M394.6,86.8L390.2,87.3L392.2,84.2L396.6,83.6Z" fill="#f6e700"/><path d="M338.2,97.6L334.0,100.3L336.2,95.4L340.4,93.3Z" fill="#abef00"/><path d="M362.0,89.3L357.6,87.8L359.8,84.8L364.1,86.5Z" fill="#f5ec00"/><path d="M328.9,185.3L324.7,186.2L326.7,176.0L330.8,173.8Z" fill="#3704b0"/><path d="M431.2,69.3L426.8,67.6L428.7,64.4L433.1,66.3Z" fill="#fa9900"/><path d="M440.5,127.6L436.6,106.5L438.5,103.5L442.4,125.0Z" fill="#17bb31"/><path d="M344.6,92.8L340.4,93.3L342.6,89.4L346.8,89.2Z" fill="#ecef00"/><path d="M435.7,73.0L431.2,69.3L433.1,66.3L437.5,70.4Z" fill="#faa600"/><path d="M377.2,90.8L372.9,89.8L375.0,87.5L379.3,88.6Z" fill="#f0ed00"/><path d="M388.1,89.8L383.7,89.4L385.8,87.0L390.2,87.3Z" fill="#f2ed00"/><path d="M324.6,198.2L320.4,197.8L322.6,193.1L326.8,193.1Z" fill="#3c069f"/><path d="M366.3,90.7L362.0,89.3L364.1,86.5L368.5,88.3Z" fill="#f2ed00"/><path d="M424.8,70.9L420.4,70.4L422.3,67.0L426.8,67.6Z" fill="#faa100"/><path d="M328.4,162.4L324.4,166.7L326.2,152.5L330.1,147.1Z" fill="#2200d8"/><path d="M457.6,202.2L453.1,201.1L454.9,199.1L459.4,200.3Z" fill="#3c069b"/><path d="M355.4,90.8L351.1,89.8L353.3,86.5L357.6,87.8Z" fill="#f2ed00"/><path d="M442.3,199.8L437.8,196.5L439.7,193.9L444.1,197.6Z" fill="#3c069e"/><path d="M327.9,138.2L324.1,145.7L325.9,132.9L329.8,125.9Z" fill="#0418f4"/><path d="M336.0,102.5L331.9,106.0L334.0,100.3L338.2,97.6Z" fill="#79e500"/><path d="M440.4,100.6L436.2,86.5L438.1,83.5L442.2,98.1Z" fill="#eaef00"/><path d="M418.4,73.8L413.9,74.0L415.9,70.6L420.4,70.4Z" fill="#faaf00"/><path d="M331.0,193.3L326.8,193.1L328.9,185.3L333.1,184.8Z" fill="#3a05a7"/><path d="M437.8,196.5L433.5,190.5L435.4,187.0L439.7,193.9Z" fill="#3a05a4"/><path d="M446.8,201.7L442.3,199.8L444.1,197.6L448.6,199.7Z" fill="#3c069c"/><path d="M411.9,77.4L407.5,78.2L409.5,74.8L413.9,74.0Z" fill="#fac000"/><path d="M330.8,173.8L326.7,176.0L328.4,162.4L332.5,159.0Z" fill="#2c02c6"/><path d="M381.6,91.4L377.2,90.8L379.3,88.6L383.7,89.4Z" fill="#f0ee00"/><path d="M405.5,81.6L401.0,82.6L403.0,79.2L407.5,78.2Z" fill="#f9d000"/><path d="M399.0,85.9L394.6,86.8L396.6,83.6L401.0,82.6Z" fill="#f8e000"/><path d="M436.9,162.0L432.9,140.9L434.9,136.9L438.8,158.7Z" fill="#1504ec"/><path d="M435.4,187.0L431.1,174.9L433.1,170.1L437.3,183.6Z" fill="#3604b2"/><path d="M370.7,91.9L366.3,90.7L368.5,88.3L372.9,89.8Z" fill="#f0ee00"/><path d="M348.9,93.2L344.6,92.8L346.8,89.2L351.1,89.8Z" fill="#edee00"/><path d="M438.1,83.5L433.8,76.0L435.7,73.0L440.0,81.0Z" fill="#f9c800"/><path d="M429.3,72.4L424.8,70.9L426.8,67.6L431.2,69.3Z" fill="#faa300"/><path d="M392.5,89.7L388.1,89.8L390.2,87.3L394.6,86.8Z" fill="#f4ec00"/><path d="M342.4,96.7L338.2,97.6L340.4,93.3L344.6,92.8Z" fill="#d3f000"/><path d="M359.8,92.0L355.4,90.8L357.6,87.8L362.0,89.3Z" fill="#f0ed00"/><path d="M333.1,184.8L328.9,185.3L330.8,173.8L334.9,172.3Z" fill="#3604b3"/><path d="M328.9,198.8L324.6,198.2L326.8,193.1L331.0,193.3Z" fill="#3b06a0"/><path d="M462.2,203.2L457.6,202.2L459.4,200.3L463.9,201.2Z" fill="#3c069b"/><path d="M333.8,108.5L329.8,113.1L331.9,106.0L336.0,102.5Z" fill="#4cd90a"/><path d="M329.8,125.9L325.9,132.9L327.8,121.9L331.7,116.0Z" fill="#007c94"/><path d="M438.7,130.4L434.7,109.6L436.6,106.5L440.5,127.6Z" fill="#12b23d"/><path d="M433.8,76.0L429.3,72.4L431.2,69.3L435.7,73.0Z" fill="#faae00"/><path d="M451.3,203.1L446.8,201.7L448.6,199.7L453.1,201.1Z" fill="#3c069c"/><path d="M331.7,116.0L327.8,121.9L329.8,113.1L333.8,108.5Z" fill="#20c820"/><path d="M422.9,74.2L418.4,73.8L420.4,70.4L424.8,70.9Z" fill="#faac00"/><path d="M375.1,92.8L370.7,91.9L372.9,89.8L377.2,90.8Z" fill="#eeee00"/><path d="M386.0,92.0L381.6,91.4L383.7,89.4L388.1,89.8Z" fill="#f0ee00"/><path d="M353.2,93.9L348.9,93.2L351.1,89.8L355.4,90.8Z" fill="#edee00"/><path d="M335.3,193.7L331.0,193.3L333.1,184.8L337.3,184.6Z" fill="#3905a8"/><path d="M364.2,93.2L359.8,92.0L362.0,89.3L366.3,90.7Z" fill="#efee00"/><path d="M416.4,77.2L411.9,77.4L413.9,74.0L418.4,73.8Z" fill="#faba00"/><path d="M330.1,147.1L326.2,152.5L327.9,138.2L331.9,132.9Z" fill="#070cfc"/><path d="M438.5,103.5L434.3,89.6L436.2,86.5L440.4,100.6Z" fill="#daf000"/><path d="M433.5,190.5L429.2,180.0L431.1,174.9L435.4,187.0Z" fill="#3704af"/><path d="M409.9,80.8L405.5,81.6L407.5,78.2L411.9,77.4Z" fill="#f9c900"/><path d="M435.0,165.8L431.0,145.7L432.9,140.9L436.9,162.0Z" fill="#1b02e3"/><path d="M333.1,199.5L328.9,198.8L331.0,193.3L335.3,193.7Z" fill="#3b06a1"/><path d="M440.4,202.0L436.0,199.1L437.8,196.5L442.3,199.8Z" fill="#3c069d"/><path d="M403.5,84.9L399.0,85.9L401.0,82.6L405.5,81.6Z" fill="#f8d900"/><path d="M340.2,101.0L336.0,102.5L338.2,97.6L342.4,96.7Z" fill="#a1ed00"/><path d="M455.9,204.2L451.3,203.1L453.1,201.1L457.6,202.2Z" fill="#3c069b"/><path d="M346.7,96.7L342.4,96.7L344.6,92.8L348.9,93.2Z" fill="#e5f000"/><path d="M436.0,199.1L431.5,194.1L433.5,190.5L437.8,196.5Z" fill="#3b06a2"/><path d="M397.0,89.0L392.5,89.7L394.6,86.8L399.0,85.9Z" fill="#f6e800"/><path d="M436.2,86.5L431.8,79.1L433.8,76.0L438.1,83.5Z" fill="#f9cf00"/><path d="M427.4,75.7L422.9,74.2L424.8,70.9L429.3,72.4Z" fill="#faae00"/><path d="M337.3,184.6L333.1,184.8L334.9,172.3L339.2,171.5Z" fill="#3504b6"/><path d="M379.5,93.5L375.1,92.8L377.2,90.8L381.6,91.4Z" fill="#eeee00"/><path d="M368.6,94.2L364.2,93.2L366.3,90.7L370.7,91.9Z" fill="#edee00"/><path d="M334.9,172.3L330.8,173.8L332.5,159.0L336.7,156.7Z" fill="#2802cd"/><path d="M332.5,159.0L328.4,162.4L330.1,147.1L334.2,143.2Z" fill="#1803e8"/><path d="M357.6,94.9L353.2,93.9L355.4,90.8L359.8,92.0Z" fill="#ecef00"/><path d="M445.0,203.8L440.4,202.0L442.3,199.8L446.8,201.7Z" fill="#3c069c"/><path d="M390.5,92.1L386.0,92.0L388.1,89.8L392.5,89.7Z" fill="#f1ed00"/><path d="M431.8,79.1L427.4,75.7L429.3,72.4L433.8,76.0Z" fill="#fab800"/><path d="M436.8,133.4L432.8,113.0L434.7,109.6L438.7,130.4Z" fill="#0ba258"/><path d="M339.6,194.2L335.3,193.7L337.3,184.6L341.6,184.9Z" fill="#3905a9"/><path d="M420.9,77.6L416.4,77.2L418.4,73.8L422.9,74.2Z" fill="#fab700"/><path d="M460.5,205.1L455.9,204.2L457.6,202.2L462.2,203.2Z" fill="#3c069b"/><path d="M338.0,106.2L333.8,108.5L336.0,102.5L340.2,101.0Z" fill="#6ee300"/><path d="M337.4,200.2L333.1,199.5L335.3,193.7L339.6,194.2Z" fill="#3b06a1"/><path d="M351.0,97.2L346.7,96.7L348.9,93.2L353.2,93.9Z" fill="#e8f000"/><path d="M433.1,170.1L429.0,151.1L431.0,145.7L435.0,165.8Z" fill="#2100da"/><path d="M331.9,132.9L327.9,138.2L329.8,125.9L333.8,121.4Z" fill="#0033dd"/><path d="M431.5,194.1L427.2,185.3L429.2,180.0L433.5,190.5Z" fill="#3805ab"/><path d="M449.5,205.1L445.0,203.8L446.8,201.7L451.3,203.1Z" fill="#3c069c"/><path d="M414.4,80.6L409.9,80.8L411.9,77.4L416.4,77.2Z" fill="#fac400"/><path d="M373.0,94.9L368.6,94.2L370.7,91.9L375.1,92.8Z" fill="#ecef00"/><path d="M362.0,95.8L357.6,94.9L359.8,92.0L364.2,93.2Z" fill="#ebef00"/><path d="M383.9,94.0L379.5,93.5L381.6,91.4L386.0,92.0Z" fill="#eeee00"/><path d="M344.5,100.7L340.2,101.0L342.4,96.7L346.7,96.7Z" fill="#b4f000"/><path d="M407.9,84.2L403.5,84.9L405.5,81.6L409.9,80.8Z" fill="#f9d200"/><path d="M436.6,106.5L432.4,92.8L434.3,89.6L438.5,103.5Z" fill="#baf000"/><path d="M401.4,88.2L397.0,89.0L399.0,85.9L403.5,84.9Z" fill="#f7e100"/><path d="M341.6,184.9L337.3,184.6L339.2,171.5L343.5,171.3Z" fill="#3404b8"/><path d="M335.9,112.8L331.7,116.0L333.8,108.5L338.0,106.2Z" fill="#43d50e"/><path d="M425.4,79.0L420.9,77.6L422.9,74.2L427.4,75.7Z" fill="#fab900"/><path d="M333.8,121.4L329.8,125.9L331.7,116.0L335.9,112.8Z" fill="#18bc30"/><path d="M434.1,201.8L429.6,197.6L431.5,194.1L436.0,199.1Z" fill="#3b06a0"/><path d="M394.9,91.8L390.5,92.1L392.5,89.7L397.0,89.0Z" fill="#f3ed00"/><path d="M434.3,89.6L429.9,82.4L431.8,79.1L436.2,86.5Z" fill="#f8d700"/><path d="M343.9,194.9L339.6,194.2L341.6,184.9L345.9,185.4Z" fill="#3905aa"/><path d="M438.6,204.2L434.1,201.8L436.0,199.1L440.4,202.0Z" fill="#3c069d"/><path d="M355.4,98.0L351.0,97.2L353.2,93.9L357.6,94.9Z" fill="#e7f000"/><path d="M341.8,201.0L337.4,200.2L339.6,194.2L343.9,194.9Z" fill="#3b06a1"/><path d="M454.1,206.1L449.5,205.1L451.3,203.1L455.9,204.2Z" fill="#3c069b"/><path d="M339.2,171.5L334.9,172.3L336.7,156.7L340.9,155.4Z" fill="#2601d2"/><path d="M431.1,174.9L427.0,157.4L429.0,151.1L433.1,170.1Z" fill="#2501d2"/><path d="M366.4,96.6L362.0,95.8L364.2,93.2L368.6,94.2Z" fill="#eaef00"/><path d="M429.9,82.4L425.4,79.0L427.4,75.7L431.8,79.1Z" fill="#fac200"/><path d="M434.9,136.9L430.8,116.7L432.8,113.0L436.8,133.4Z" fill="#038a7f"/><path d="M377.4,95.6L373.0,94.9L375.1,92.8L379.5,93.5Z" fill="#ecef00"/><path d="M334.2,143.2L330.1,147.1L331.9,132.9L336.0,129.4Z" fill="#041af2"/><path d="M419.0,81.0L414.4,80.6L416.4,77.2L420.9,77.6Z" fill="#fac200"/><path d="M388.4,94.4L383.9,94.0L386.0,92.0L390.5,92.1Z" fill="#efee00"/><path d="M443.1,205.9L438.6,204.2L440.4,202.0L445.0,203.8Z" fill="#3c069c"/><path d="M429.6,197.6L425.2,190.6L427.2,185.3L431.5,194.1Z" fill="#3905a8"/><path d="M348.8,100.9L344.5,100.7L346.7,96.7L351.0,97.2Z" fill="#bef000"/><path d="M342.3,105.3L338.0,106.2L340.2,101.0L344.5,100.7Z" fill="#88e800"/><path d="M336.7,156.7L332.5,159.0L334.2,143.2L338.4,140.8Z" fill="#0e06f6"/><path d="M412.4,84.0L407.9,84.2L409.9,80.8L414.4,80.6Z" fill="#f9cd00"/><path d="M345.9,185.4L341.6,184.9L343.5,171.3L347.8,171.6Z" fill="#3303ba"/><path d="M348.3,195.7L343.9,194.9L345.9,185.4L350.3,186.1Z" fill="#3905aa"/><path d="M405.9,87.6L401.4,88.2L403.5,84.9L407.9,84.2Z" fill="#f8db00"/><path d="M359.8,98.7L355.4,98.0L357.6,94.9L362.0,95.8Z" fill="#e4f000"/><path d="M429.2,180.0L425.0,164.4L427.0,157.4L431.1,174.9Z" fill="#2a02c9"/><path d="M458.7,207.1L454.1,206.1L455.9,204.2L460.5,205.1Z" fill="#3c069b"/><path d="M434.7,109.6L430.4,96.1L432.4,92.8L436.6,106.5Z" fill="#a0ed00"/><path d="M346.1,201.9L341.8,201.0L343.9,194.9L348.3,195.7Z" fill="#3b06a1"/><path d="M370.8,97.4L366.4,96.6L368.6,94.2L373.0,94.9Z" fill="#eaef00"/><path d="M399.4,91.3L394.9,91.8L397.0,89.0L401.4,88.2Z" fill="#f6e900"/><path d="M381.8,96.2L377.4,95.6L379.5,93.5L383.9,94.0Z" fill="#ecef00"/><path d="M423.5,82.4L419.0,81.0L420.9,77.6L425.4,79.0Z" fill="#fac300"/><path d="M447.7,207.1L443.1,205.9L445.0,203.8L449.5,205.1Z" fill="#3c069b"/><path d="M432.4,92.8L428.0,85.7L429.9,82.4L434.3,89.6Z" fill="#f8df00"/><path d="M340.1,111.2L335.9,112.8L338.0,106.2L342.3,105.3Z" fill="#57dd04"/><path d="M432.2,204.4L427.7,201.1L429.6,197.6L434.1,201.8Z" fill="#3c069e"/><path d="M336.0,129.4L331.9,132.9L333.8,121.4L338.0,118.9Z" fill="#069173"/><path d="M343.5,171.3L339.2,171.5L340.9,155.4L345.2,154.9Z" fill="#2401d5"/><path d="M353.2,101.4L348.8,100.9L351.0,97.2L355.4,98.0Z" fill="#c2f000"/><path d="M392.8,94.4L388.4,94.4L390.5,92.1L394.9,91.8Z" fill="#f0ed00"/><path d="M432.9,140.9L428.8,121.0L430.8,116.7L434.9,136.9Z" fill="#005eb2"/><path d="M427.2,185.3L422.9,172.0L425.0,164.4L429.2,180.0Z" fill="#3003c0"/><path d="M428.0,85.7L423.5,82.4L425.4,79.0L429.9,82.4Z" fill="#f9cb00"/><path d="M346.6,105.2L342.3,105.3L344.5,100.7L348.8,100.9Z" fill="#95eb00"/><path d="M427.7,201.1L423.2,195.6L425.2,190.6L429.6,197.6Z" fill="#3a05a4"/><path d="M436.7,206.5L432.2,204.4L434.1,201.8L438.6,204.2Z" fill="#3c069d"/><path d="M350.3,186.1L345.9,185.4L347.8,171.6L352.2,172.3Z" fill="#3303ba"/><path d="M338.0,118.9L333.8,121.4L335.9,112.8L340.1,111.2Z" fill="#2dcd19"/><path d="M417.0,84.4L412.4,84.0L414.4,80.6L419.0,81.0Z" fill="#f9cb00"/><path d="M352.6,196.6L348.3,195.7L350.3,186.1L354.7,187.0Z" fill="#3905aa"/><path d="M364.2,99.5L359.8,98.7L362.0,95.8L366.4,96.6Z" fill="#e1f000"/><path d="M350.5,202.8L346.1,201.9L348.3,195.7L352.6,196.6Z" fill="#3b06a1"/><path d="M375.2,98.0L370.8,97.4L373.0,94.9L377.4,95.6Z" fill="#eaef00"/><path d="M452.3,208.1L447.7,207.1L449.5,205.1L454.1,206.1Z" fill="#3c069b"/><path d="M410.4,87.4L405.9,87.6L407.9,84.2L412.4,84.0Z" fill="#f9d600"/><path d="M386.3,96.7L381.8,96.2L383.9,94.0L388.4,94.4Z" fill="#edef00"/><path d="M340.9,155.4L336.7,156.7L338.4,140.8L342.7,139.4Z" fill="#0809ff"/><path d="M425.2,190.6L420.9,179.6L422.9,172.0L427.2,185.3Z" fill="#3504b5"/><path d="M338.4,140.8L334.2,143.2L336.0,129.4L340.3,127.5Z" fill="#0123ec"/><path d="M403.9,90.8L399.4,91.3L401.4,88.2L405.9,87.6Z" fill="#f7e300"/><path d="M441.3,207.9L436.7,206.5L438.6,204.2L443.1,205.9Z" fill="#3c069c"/><path d="M357.6,102.1L353.2,101.4L355.4,98.0L359.8,98.7Z" fill="#c2f000"/><path d="M432.8,113.0L428.5,99.6L430.4,96.1L434.7,109.6Z" fill="#87e800"/><path d="M421.5,85.8L417.0,84.4L419.0,81.0L423.5,82.4Z" fill="#f9cc00"/><path d="M347.8,171.6L343.5,171.3L345.2,154.9L349.6,155.0Z" fill="#2300d7"/><path d="M397.3,94.2L392.8,94.4L394.9,91.8L399.4,91.3Z" fill="#f3ed00"/><path d="M357.0,197.5L352.6,196.6L354.7,187.0L359.0,187.9Z" fill="#3905aa"/><path d="M354.7,187.0L350.3,186.1L352.2,172.3L356.6,173.1Z" fill="#3303ba"/><path d="M431.0,145.7L426.8,126.0L428.8,121.0L432.9,140.9Z" fill="#0027e9"/><path d="M368.6,100.2L364.2,99.5L366.4,96.6L370.8,97.4Z" fill="#dff000"/><path d="M344.4,110.5L340.1,111.2L342.3,105.3L346.6,105.2Z" fill="#64e100"/><path d="M430.4,96.1L426.0,89.1L428.0,85.7L432.4,92.8Z" fill="#f6e800"/><path d="M351.0,105.5L346.6,105.2L348.8,100.9L353.2,101.4Z" fill="#9bec00"/><path d="M354.9,203.7L350.5,202.8L352.6,196.6L357.0,197.5Z" fill="#3b06a1"/><path d="M379.7,98.7L375.2,98.0L377.4,95.6L381.8,96.2Z" fill="#eaef00"/><path d="M423.2,195.6L418.8,187.1L420.9,179.6L425.2,190.6Z" fill="#3805ae"/><path d="M456.9,209.1L452.3,208.1L454.1,206.1L458.7,207.1Z" fill="#3c069b"/><path d="M426.0,89.1L421.5,85.8L423.5,82.4L428.0,85.7Z" fill="#f9d400"/><path d="M425.7,204.3L421.2,200.2L423.2,195.6L427.7,201.1Z" fill="#3b06a1"/><path d="M430.3,206.9L425.7,204.3L427.7,201.1L432.2,204.4Z" fill="#3c069d"/><path d="M445.9,209.1L441.3,207.9L443.1,205.9L447.7,207.1Z" fill="#3c069b"/><path d="M390.7,97.0L386.3,96.7L388.4,94.4L392.8,94.4Z" fill="#eeee00"/><path d="M415.0,87.8L410.4,87.4L412.4,84.0L417.0,84.4Z" fill="#f9d400"/><path d="M340.3,127.5L336.0,129.4L338.0,118.9L342.3,117.6Z" fill="#12b43b"/><path d="M342.3,117.6L338.0,118.9L340.1,111.2L344.4,110.5Z" fill="#3ed311"/><path d="M362.0,102.7L357.6,102.1L359.8,98.7L364.2,99.5Z" fill="#c2f000"/><path d="M408.4,90.8L403.9,90.8L405.9,87.6L410.4,87.4Z" fill="#f8df00"/><path d="M434.8,208.7L430.3,206.9L432.2,204.4L436.7,206.5Z" fill="#3c069c"/><path d="M361.4,198.5L357.0,197.5L359.0,187.9L363.5,188.9Z" fill="#3905aa"/><path d="M359.0,187.9L354.7,187.0L356.6,173.1L361.0,174.0Z" fill="#3303ba"/><path d="M373.1,100.8L368.6,100.2L370.8,97.4L375.2,98.0Z" fill="#dff000"/><path d="M345.2,154.9L340.9,155.4L342.7,139.4L347.0,139.0Z" fill="#070dfc"/><path d="M429.0,151.1L424.8,131.8L426.8,126.0L431.0,145.7Z" fill="#031eef"/><path d="M352.2,172.3L347.8,171.6L349.6,155.0L354.0,155.6Z" fill="#2200d8"/><path d="M421.2,200.2L416.8,193.9L418.8,187.1L423.2,195.6Z" fill="#3905a9"/><path d="M355.4,106.0L351.0,105.5L353.2,101.4L357.6,102.1Z" fill="#9eec00"/><path d="M359.3,204.7L354.9,203.7L357.0,197.5L361.4,198.5Z" fill="#3b06a1"/><path d="M430.8,116.7L426.5,103.4L428.5,99.6L432.8,113.0Z" fill="#6ae200"/><path d="M384.1,99.3L379.7,98.7L381.8,96.2L386.3,96.7Z" fill="#eaef00"/><path d="M401.8,94.0L397.3,94.2L399.4,91.3L403.9,90.8Z" fill="#f5eb00"/><path d="M348.8,110.5L344.4,110.5L346.6,105.2L351.0,105.5Z" fill="#70e300"/><path d="M342.7,139.4L338.4,140.8L340.3,127.5L344.6,126.5Z" fill="#0030e0"/><path d="M450.5,210.1L445.9,209.1L447.7,207.1L452.3,208.1Z" fill="#3c069b"/><path d="M419.5,89.3L415.0,87.8L417.0,84.4L421.5,85.8Z" fill="#f9d500"/><path d="M428.5,99.6L424.0,92.6L426.0,89.1L430.4,96.1Z" fill="#f2ed00"/><path d="M366.4,103.4L362.0,102.7L364.2,99.5L368.6,100.2Z" fill="#c1f000"/><path d="M395.2,97.1L390.7,97.0L392.8,94.4L397.3,94.2Z" fill="#efee00"/><path d="M439.4,210.0L434.8,208.7L436.7,206.5L441.3,207.9Z" fill="#3c069c"/><path d="M427.0,157.4L422.8,138.6L424.8,131.8L429.0,151.1Z" fill="#0512f7"/><path d="M365.9,199.6L361.4,198.5L363.5,188.9L367.9,190.2Z" fill="#3905aa"/><path d="M424.0,92.6L419.5,89.3L421.5,85.8L426.0,89.1Z" fill="#f8dd00"/><path d="M363.5,188.9L359.0,187.9L361.0,174.0L365.4,175.1Z" fill="#3303ba"/><path d="M423.8,207.3L419.2,204.2L421.2,200.2L425.7,204.3Z" fill="#3c069f"/><path d="M377.5,101.5L373.1,100.8L375.2,98.0L379.7,98.7Z" fill="#dff000"/><path d="M346.7,117.2L342.3,117.6L344.4,110.5L348.8,110.5Z" fill="#47d70c"/><path d="M412.9,91.3L408.4,90.8L410.4,87.4L415.0,87.8Z" fill="#f8dd00"/><path d="M356.6,173.1L352.2,172.3L354.0,155.6L358.4,156.4Z" fill="#2200d8"/><path d="M419.2,204.2L414.7,199.7L416.8,193.9L421.2,200.2Z" fill="#3a05a4"/><path d="M344.6,126.5L340.3,127.5L342.3,117.6L346.7,117.2Z" fill="#1abf2b"/><path d="M363.7,205.7L359.3,204.7L361.4,198.5L365.9,199.6Z" fill="#3b06a1"/><path d="M359.8,106.6L355.4,106.0L357.6,102.1L362.0,102.7Z" fill="#9fed00"/><path d="M349.6,155.0L345.2,154.9L347.0,139.0L351.4,139.2Z" fill="#060ffa"/><path d="M425.0,164.4L420.7,146.5L422.8,138.6L427.0,157.4Z" fill="#0b07fb"/><path d="M428.3,209.4L423.8,207.3L425.7,204.3L430.3,206.9Z" fill="#3c069d"/><path d="M388.6,99.7L384.1,99.3L386.3,96.7L390.7,97.0Z" fill="#ebef00"/><path d="M353.2,110.9L348.8,110.5L351.0,105.5L355.4,106.0Z" fill="#75e400"/><path d="M455.1,211.1L450.5,210.1L452.3,208.1L456.9,209.1Z" fill="#3c069b"/><path d="M406.4,94.2L401.8,94.0L403.9,90.8L408.4,90.8Z" fill="#f6e800"/><path d="M422.9,172.0L418.6,155.5L420.7,146.5L425.0,164.4Z" fill="#1a02e4"/><path d="M418.8,187.1L414.4,175.4L416.5,165.3L420.9,179.6Z" fill="#2e03c3"/><path d="M420.9,179.6L416.5,165.3L418.6,155.5L422.9,172.0Z" fill="#2601d2"/><path d="M416.8,193.9L412.3,185.0L414.4,175.4L418.8,187.1Z" fill="#3604b4"/><path d="M444.0,211.2L439.4,210.0L441.3,207.9L445.9,209.1Z" fill="#3c069b"/><path d="M428.8,121.0L424.5,107.5L426.5,103.4L430.8,116.7Z" fill="#53db06"/><path d="M370.9,104.1L366.4,103.4L368.6,100.2L373.1,100.8Z" fill="#c1f000"/><path d="M370.3,200.9L365.9,199.6L367.9,190.2L372.4,191.9Z" fill="#3905a9"/><path d="M347.0,139.0L342.7,139.4L344.6,126.5L349.0,126.3Z" fill="#0052be"/><path d="M367.9,190.2L363.5,188.9L365.4,175.1L369.9,176.6Z" fill="#3303b9"/><path d="M414.7,199.7L410.2,193.4L412.3,185.0L416.8,193.9Z" fill="#3805ac"/><path d="M399.8,97.2L395.2,97.1L397.3,94.2L401.8,94.0Z" fill="#f1ed00"/><path d="M417.5,92.9L412.9,91.3L415.0,87.8L419.5,89.3Z" fill="#f8de00"/><path d="M432.9,210.9L428.3,209.4L430.3,206.9L434.8,208.7Z" fill="#3c069c"/><path d="M382.0,102.1L377.5,101.5L379.7,98.7L384.1,99.3Z" fill="#e0f000"/><path d="M426.5,103.4L422.0,96.3L424.0,92.6L428.5,99.6Z" fill="#ecef00"/><path d="M361.0,174.0L356.6,173.1L358.4,156.4L362.8,157.3Z" fill="#2200d8"/><path d="M368.2,206.8L363.7,205.7L365.9,199.6L370.3,200.9Z" fill="#3b06a1"/><path d="M364.2,107.3L359.8,106.6L362.0,102.7L366.4,103.4Z" fill="#a0ed00"/><path d="M351.0,117.3L346.7,117.2L348.8,110.5L353.2,110.9Z" fill="#4cd90a"/><path d="M417.2,207.8L412.7,204.6L414.7,199.7L419.2,204.2Z" fill="#3b06a0"/><path d="M354.0,155.6L349.6,155.0L351.4,139.2L355.8,139.7Z" fill="#0610f9"/><path d="M393.1,100.1L388.6,99.7L390.7,97.0L395.2,97.1Z" fill="#ecef00"/><path d="M422.0,96.3L417.5,92.9L419.5,89.3L424.0,92.6Z" fill="#f6e600"/><path d="M357.6,111.4L353.2,110.9L355.4,106.0L359.8,106.6Z" fill="#78e500"/><path d="M349.0,126.3L344.6,126.5L346.7,117.2L351.0,117.3Z" fill="#1fc622"/><path d="M374.8,202.4L370.3,200.9L372.4,191.9L376.9,193.9Z" fill="#3905a8"/><path d="M448.7,212.2L444.0,211.2L445.9,209.1L450.5,210.1Z" fill="#3c069b"/><path d="M412.7,204.6L408.2,200.4L410.2,193.4L414.7,199.7Z" fill="#3a05a5"/><path d="M410.9,94.9L406.4,94.2L408.4,90.8L412.9,91.3Z" fill="#f6e600"/><path d="M372.4,191.9L367.9,190.2L369.9,176.6L374.4,178.7Z" fill="#3404b7"/><path d="M421.8,210.1L417.2,207.8L419.2,204.2L423.8,207.3Z" fill="#3c069d"/><path d="M375.4,104.8L370.9,104.1L373.1,100.8L377.5,101.5Z" fill="#c1f000"/><path d="M437.5,212.1L432.9,210.9L434.8,208.7L439.4,210.0Z" fill="#3c069b"/><path d="M426.8,126.0L422.5,112.1L424.5,107.5L428.8,121.0Z" fill="#3ed311"/><path d="M372.6,208.0L368.2,206.8L370.3,200.9L374.8,202.4Z" fill="#3b06a0"/><path d="M351.4,139.2L347.0,139.0L349.0,126.3L353.4,126.6Z" fill="#0065ab"/><path d="M365.4,175.1L361.0,174.0L362.8,157.3L367.3,158.4Z" fill="#2200d8"/><path d="M386.5,102.7L382.0,102.1L384.1,99.3L388.6,99.7Z" fill="#e2f000"/><path d="M404.3,97.6L399.8,97.2L401.8,94.0L406.4,94.2Z" fill="#f2ed00"/><path d="M368.7,108.0L364.2,107.3L366.4,103.4L370.9,104.1Z" fill="#a0ed00"/><path d="M408.2,200.4L403.7,194.9L405.7,185.4L410.2,193.4Z" fill="#3805ad"/><path d="M376.9,193.9L372.4,191.9L374.4,178.7L378.9,181.5Z" fill="#3604b5"/><path d="M379.3,204.1L374.8,202.4L376.9,193.9L381.4,196.3Z" fill="#3a05a7"/><path d="M426.4,211.8L421.8,210.1L423.8,207.3L428.3,209.4Z" fill="#3c069c"/><path d="M410.2,193.4L405.7,185.4L407.8,174.2L412.3,185.0Z" fill="#3404b8"/><path d="M355.5,117.7L351.0,117.3L353.2,110.9L357.6,111.4Z" fill="#4fda08"/><path d="M415.5,96.6L410.9,94.9L412.9,91.3L417.5,92.9Z" fill="#f6e800"/><path d="M358.4,156.4L354.0,155.6L355.8,139.7L360.3,140.5Z" fill="#0610f9"/><path d="M362.1,112.0L357.6,111.4L359.8,106.6L364.2,107.3Z" fill="#79e500"/><path d="M424.5,107.5L420.0,100.1L422.0,96.3L426.5,103.4Z" fill="#d8f000"/><path d="M397.7,100.5L393.1,100.1L395.2,97.1L399.8,97.2Z" fill="#edef00"/><path d="M406.1,205.8L401.6,202.2L403.7,194.9L408.2,200.4Z" fill="#3a05a5"/><path d="M410.7,208.7L406.1,205.8L408.2,200.4L412.7,204.6Z" fill="#3b06a1"/><path d="M381.4,196.3L376.9,193.9L378.9,181.5L383.4,184.9Z" fill="#3704b2"/><path d="M353.4,126.6L349.0,126.3L351.0,117.3L355.5,117.7Z" fill="#22c91f"/><path d="M379.8,105.5L375.4,104.8L377.5,101.5L382.0,102.1Z" fill="#c1f000"/><path d="M383.8,206.0L379.3,204.1L381.4,196.3L385.9,199.1Z" fill="#3a05a5"/><path d="M412.3,185.0L407.8,174.2L410.0,162.1L414.4,175.4Z" fill="#2902cb"/><path d="M377.1,209.2L372.6,208.0L374.8,202.4L379.3,204.1Z" fill="#3c06a0"/><path d="M369.9,176.6L365.4,175.1L367.3,158.4L371.8,160.1Z" fill="#2301d7"/><path d="M420.0,100.1L415.5,96.6L417.5,92.9L422.0,96.3Z" fill="#f2ed00"/><path d="M401.6,202.2L397.0,198.0L399.1,188.5L403.7,194.9Z" fill="#3905ab"/><path d="M424.8,131.8L420.4,117.4L422.5,112.1L426.8,126.0Z" fill="#23c91e"/><path d="M385.9,199.1L381.4,196.3L383.4,184.9L388.0,189.0Z" fill="#3704af"/><path d="M415.2,210.9L410.7,208.7L412.7,204.6L417.2,207.8Z" fill="#3c069e"/><path d="M431.0,213.1L426.4,211.8L428.3,209.4L432.9,210.9Z" fill="#3c069c"/><path d="M390.4,202.0L385.9,199.1L388.0,189.0L392.5,193.5Z" fill="#3805ab"/><path d="M391.0,103.3L386.5,102.7L388.6,99.7L393.1,100.1Z" fill="#e5f000"/><path d="M408.9,98.5L404.3,97.6L406.4,94.2L410.9,94.9Z" fill="#f3ed00"/><path d="M355.8,139.7L351.4,139.2L353.4,126.6L357.8,127.2Z" fill="#006da3"/><path d="M373.2,108.7L368.7,108.0L370.9,104.1L375.4,104.8Z" fill="#a0ed00"/><path d="M403.7,194.9L399.1,188.5L401.2,176.5L405.7,185.4Z" fill="#3504b6"/><path d="M394.9,204.9L390.4,202.0L392.5,193.5L397.0,198.0Z" fill="#3a05a7"/><path d="M397.0,198.0L392.5,193.5L394.6,181.8L399.1,188.5Z" fill="#3704b1"/><path d="M388.3,207.9L383.8,206.0L385.9,199.1L390.4,202.0Z" fill="#3b06a3"/><path d="M399.5,207.6L394.9,204.9L397.0,198.0L401.6,202.2Z" fill="#3b06a3"/><path d="M359.9,118.4L355.5,117.7L357.6,111.4L362.1,112.0Z" fill="#50da08"/><path d="M362.8,157.3L358.4,156.4L360.3,140.5L364.8,141.3Z" fill="#0610f9"/><path d="M419.8,212.7L415.2,210.9L417.2,207.8L421.8,210.1Z" fill="#3c069d"/><path d="M366.5,112.7L362.1,112.0L364.2,107.3L368.7,108.0Z" fill="#7ae500"/><path d="M414.4,175.4L410.0,162.1L412.1,150.5L416.5,165.3Z" fill="#1d01e0"/><path d="M374.4,178.7L369.9,176.6L371.8,160.1L376.3,162.4Z" fill="#2401d4"/><path d="M404.0,210.0L399.5,207.6L401.6,202.2L406.1,205.8Z" fill="#3b06a0"/><path d="M381.6,210.6L377.1,209.2L379.3,204.1L383.8,206.0Z" fill="#3c069f"/><path d="M402.2,101.2L397.7,100.5L399.8,97.2L404.3,97.6Z" fill="#edee00"/><path d="M384.4,106.2L379.8,105.5L382.0,102.1L386.5,102.7Z" fill="#c2f000"/><path d="M422.8,138.6L418.4,123.7L420.4,117.4L424.8,131.8Z" fill="#0fae44"/><path d="M357.8,127.2L353.4,126.6L355.5,117.7L359.9,118.4Z" fill="#24c91e"/><path d="M392.5,193.5L388.0,189.0L390.0,175.5L394.6,181.8Z" fill="#3303ba"/><path d="M422.5,112.1L418.0,104.4L420.0,100.1L424.5,107.5Z" fill="#a7ee00"/><path d="M392.8,209.8L388.3,207.9L390.4,202.0L394.9,204.9Z" fill="#3b06a1"/><path d="M413.4,100.4L408.9,98.5L410.9,94.9L415.5,96.6Z" fill="#f1ed00"/><path d="M378.9,181.5L374.4,178.7L376.3,162.4L380.9,165.7Z" fill="#2601d0"/><path d="M416.5,165.3L412.1,150.5L414.2,140.0L418.6,155.5Z" fill="#0809fe"/><path d="M408.6,212.0L404.0,210.0L406.1,205.8L410.7,208.7Z" fill="#3c069e"/><path d="M405.7,185.4L401.2,176.5L403.3,163.0L407.8,174.2Z" fill="#2902cc"/><path d="M388.0,189.0L383.4,184.9L385.5,170.1L390.0,175.5Z" fill="#2e03c3"/><path d="M360.3,140.5L355.8,139.7L357.8,127.2L362.3,128.0Z" fill="#006fa1"/><path d="M395.6,104.0L391.0,103.3L393.1,100.1L397.7,100.5Z" fill="#e8f000"/><path d="M377.7,109.4L373.2,108.7L375.4,104.8L379.8,105.5Z" fill="#a0ed00"/><path d="M383.4,184.9L378.9,181.5L380.9,165.7L385.5,170.1Z" fill="#2a02cb"/><path d="M420.7,146.5L416.3,131.1L418.4,123.7L422.8,138.6Z" fill="#0057b9"/><path d="M418.0,104.4L413.4,100.4L415.5,96.6L420.0,100.1Z" fill="#ecef00"/><path d="M418.6,155.5L414.2,140.0L416.3,131.1L420.7,146.5Z" fill="#031df0"/><path d="M399.1,188.5L394.6,181.8L396.7,167.7L401.2,176.5Z" fill="#2c02c5"/><path d="M367.3,158.4L362.8,157.3L364.8,141.3L369.3,142.4Z" fill="#0610f9"/><path d="M386.2,212.0L381.6,210.6L383.8,206.0L388.3,207.9Z" fill="#3c069e"/><path d="M364.4,119.1L359.9,118.4L362.1,112.0L366.5,112.7Z" fill="#50da08"/><path d="M397.4,211.6L392.8,209.8L394.9,204.9L399.5,207.6Z" fill="#3c069f"/><path d="M371.0,113.5L366.5,112.7L368.7,108.0L373.2,108.7Z" fill="#7ae500"/><path d="M406.8,102.4L402.2,101.2L404.3,97.6L408.9,98.5Z" fill="#edee00"/><path d="M413.2,213.7L408.6,212.0L410.7,208.7L415.2,210.9Z" fill="#3c069d"/><path d="M388.9,107.0L384.4,106.2L386.5,102.7L391.0,103.3Z" fill="#c2f000"/><path d="M362.3,128.0L357.8,127.2L359.9,118.4L364.4,119.1Z" fill="#24ca1e"/><path d="M420.4,117.4L415.9,109.0L418.0,104.4L422.5,112.1Z" fill="#7ce600"/><path d="M402.0,213.3L397.4,211.6L399.5,207.6L404.0,210.0Z" fill="#3c069d"/><path d="M364.8,141.3L360.3,140.5L362.3,128.0L366.8,128.8Z" fill="#006ea2"/><path d="M400.1,105.0L395.6,104.0L397.7,100.5L402.2,101.2Z" fill="#e8f000"/><path d="M382.2,110.2L377.7,109.4L379.8,105.5L384.4,106.2Z" fill="#9fed00"/><path d="M390.7,213.4L386.2,212.0L388.3,207.9L392.8,209.8Z" fill="#3c069d"/><path d="M371.8,160.1L367.3,158.4L369.3,142.4L373.8,143.9Z" fill="#060ffa"/><path d="M407.8,174.2L403.3,163.0L405.5,149.8L410.0,162.1Z" fill="#1803e8"/><path d="M394.6,181.8L390.0,175.5L392.1,160.1L396.7,167.7Z" fill="#2501d4"/><path d="M411.4,104.6L406.8,102.4L408.9,98.5L413.4,100.4Z" fill="#ebef00"/><path d="M368.9,119.8L364.4,119.1L366.5,112.7L371.0,113.5Z" fill="#50da08"/><path d="M375.5,114.3L371.0,113.5L373.2,108.7L377.7,109.4Z" fill="#79e500"/><path d="M415.9,109.0L411.4,104.6L413.4,100.4L418.0,104.4Z" fill="#cef000"/><path d="M393.5,107.9L388.9,107.0L391.0,103.3L395.6,104.0Z" fill="#c1f000"/><path d="M406.6,214.8L402.0,213.3L404.0,210.0L408.6,212.0Z" fill="#3c069d"/><path d="M366.8,128.8L362.3,128.0L364.4,119.1L368.9,119.8Z" fill="#24ca1e"/><path d="M401.2,176.5L396.7,167.7L398.8,153.1L403.3,163.0Z" fill="#1d01e1"/><path d="M376.3,162.4L371.8,160.1L373.8,143.9L378.3,146.2Z" fill="#070cfc"/><path d="M395.3,214.8L390.7,213.4L392.8,209.8L397.4,211.6Z" fill="#3c069d"/><path d="M418.4,123.7L413.9,114.4L415.9,109.0L420.4,117.4Z" fill="#53db07"/><path d="M390.0,175.5L385.5,170.1L387.5,154.0L392.1,160.1Z" fill="#1c01e2"/><path d="M404.7,106.5L400.1,105.0L402.2,101.2L406.8,102.4Z" fill="#e1f000"/><path d="M369.3,142.4L364.8,141.3L366.8,128.8L371.3,129.7Z" fill="#006ba5"/><path d="M386.8,111.2L382.2,110.2L384.4,106.2L388.9,107.0Z" fill="#9eec00"/><path d="M380.9,165.7L376.3,162.4L378.3,146.2L382.9,149.5Z" fill="#0908fd"/><path d="M410.0,162.1L405.5,149.8L407.6,138.2L412.1,150.5Z" fill="#0512f8"/><path d="M385.5,170.1L380.9,165.7L382.9,149.5L387.5,154.0Z" fill="#1105f2"/><path d="M373.4,120.7L368.9,119.8L371.0,113.5L375.5,114.3Z" fill="#50da08"/><path d="M380.1,115.2L375.5,114.3L377.7,109.4L382.2,110.2Z" fill="#77e500"/><path d="M398.0,109.2L393.5,107.9L395.6,104.0L400.1,105.0Z" fill="#bcf000"/><path d="M409.3,109.3L404.7,106.5L406.8,102.4L411.4,104.6Z" fill="#c9f000"/><path d="M416.3,131.1L411.8,120.8L413.9,114.4L418.4,123.7Z" fill="#30ce18"/><path d="M371.3,129.7L366.8,128.8L368.9,119.8L373.4,120.7Z" fill="#23c91e"/><path d="M413.9,114.4L409.3,109.3L411.4,104.6L415.9,109.0Z" fill="#9aec00"/><path d="M412.1,150.5L407.6,138.2L409.7,128.6L414.2,140.0Z" fill="#002fe1"/><path d="M373.8,143.9L369.3,142.4L371.3,129.7L375.8,131.1Z" fill="#0060b0"/><path d="M414.2,140.0L409.7,128.6L411.8,120.8L416.3,131.1Z" fill="#10b13f"/><path d="M391.3,112.4L386.8,111.2L388.9,107.0L393.5,107.9Z" fill="#9aec00"/><path d="M396.7,167.7L392.1,160.1L394.2,145.4L398.8,153.1Z" fill="#0908fd"/><path d="M403.3,163.0L398.8,153.1L400.9,140.1L405.5,149.8Z" fill="#0611f8"/><path d="M377.9,121.8L373.4,120.7L375.5,114.3L380.1,115.2Z" fill="#4ed909"/><path d="M384.6,116.4L380.1,115.2L382.2,110.2L386.8,111.2Z" fill="#74e400"/><path d="M402.6,111.2L398.0,109.2L400.1,105.0L404.7,106.5Z" fill="#aef000"/><path d="M375.8,131.1L371.3,129.7L373.4,120.7L377.9,121.8Z" fill="#21c81f"/><path d="M378.3,146.2L373.8,143.9L375.8,131.1L380.4,133.0Z" fill="#0049c7"/><path d="M411.8,120.8L407.2,114.7L409.3,109.3L413.9,114.4Z" fill="#65e100"/><path d="M407.2,114.7L402.6,111.2L404.7,106.5L409.3,109.3Z" fill="#97eb00"/><path d="M395.9,114.1L391.3,112.4L393.5,107.9L398.0,109.2Z" fill="#92ea00"/><path d="M392.1,160.1L387.5,154.0L389.6,139.7L394.2,145.4Z" fill="#0516f5"/><path d="M382.9,149.5L378.3,146.2L380.4,133.0L385.0,135.7Z" fill="#0027e9"/><path d="M382.5,123.3L377.9,121.8L380.1,115.2L384.6,116.4Z" fill="#4bd80a"/><path d="M389.2,118.0L384.6,116.4L386.8,111.2L391.3,112.4Z" fill="#6de300"/><path d="M387.5,154.0L382.9,149.5L385.0,135.7L389.6,139.7Z" fill="#0220ee"/><path d="M405.5,149.8L400.9,140.1L403.0,129.5L407.6,138.2Z" fill="#0042ce"/><path d="M380.4,133.0L375.8,131.1L377.9,121.8L382.5,123.3Z" fill="#1ec425"/><path d="M409.7,128.6L405.1,121.2L407.2,114.7L411.8,120.8Z" fill="#3fd410"/><path d="M400.5,116.8L395.9,114.1L398.0,109.2L402.6,111.2Z" fill="#82e700"/><path d="M398.8,153.1L394.2,145.4L396.3,133.2L400.9,140.1Z" fill="#0124eb"/><path d="M407.6,138.2L403.0,129.5L405.1,121.2L409.7,128.6Z" fill="#17bb32"/><path d="M405.1,121.2L400.5,116.8L402.6,111.2L407.2,114.7Z" fill="#61e000"/><path d="M393.8,120.3L389.2,118.0L391.3,112.4L395.9,114.1Z" fill="#60e000"/><path d="M387.1,125.5L382.5,123.3L384.6,116.4L389.2,118.0Z" fill="#45d60e"/><path d="M385.0,135.7L380.4,133.0L382.5,123.3L387.1,125.5Z" fill="#18bc30"/><path d="M394.2,145.4L389.6,139.7L391.7,128.6L396.3,133.2Z" fill="#00818e"/><path d="M389.6,139.7L385.0,135.7L387.1,125.5L391.7,128.6Z" fill="#0fad45"/><path d="M398.4,123.9L393.8,120.3L395.9,114.1L400.5,116.8Z" fill="#52db07"/><path d="M400.9,140.1L396.3,133.2L398.4,123.9L403.0,129.5Z" fill="#11b23d"/><path d="M403.0,129.5L398.4,123.9L400.5,116.8L405.1,121.2Z" fill="#3ad213"/><path d="M391.7,128.6L387.1,125.5L389.2,118.0L393.8,120.3Z" fill="#39d213"/><path d="M396.3,133.2L391.7,128.6L393.8,120.3L398.4,123.9Z" fill="#26ca1d"/></g></g><g font-family="Liberation Serif, serif" font-size="13" fill="#000"><text x="249.2" y="59.3" text-anchor="end">30</text><text x="253.3" y="110.4" text-anchor="end">20</text><text x="258.2" y="158.3" text-anchor="end">10</text><text x="264.0" y="203.0" text-anchor="end">0</text><text x="289.0" y="217.8" text-anchor="end">70</text><text x="308.8" y="221.9" text-anchor="end">60</text><text x="329.0" y="225.9" text-anchor="end">50</text><text x="349.4" y="229.9" text-anchor="end">40</text><text x="370.5" y="235.2" text-anchor="end">30</text><text x="393.2" y="239.5" text-anchor="end">20</text><text x="414.8" y="244.0" text-anchor="end">10</text><text x="438.5" y="249.2" text-anchor="end">0</text><text x="450.3" y="239.1">0</text><text x="466.8" y="220.3">20</text><text x="483.0" y="201.3">40</text><text x="497.8" y="184.5">60</text><text x="510.6" y="169.1">80</text><text transform="translate(231.6,123) rotate(-90)" text-anchor="middle">Magnetic field (mT)</text><text transform="translate(314.5,247) rotate(11)" font-style="italic">x-plane (mm)</text><text transform="translate(463.5,252) rotate(-47.7)">y-palne (mm)</text><text x="244.8" y="17.3" font-size="13.5">z= 10 mm</text></g><rect x="528.8" y="26.9" width="107" height="101.3" fill="#fff" stroke="#555" stroke-width="1"/><rect x="541.5" y="44.9" width="34" height="5.6" fill="#000090" stroke="#111" stroke-width="0.8"/><text x="584.3" y="52.7" font-family="Liberation Serif, serif" font-size="15" fill="#000">0 mT</text><rect x="541.5" y="65.0" width="34" height="5.6" fill="#1f4f9f" stroke="#111" stroke-width="0.8"/><text x="584.3" y="72.8" font-family="Liberation Serif, serif" font-size="15" fill="#000">10 mT</text><rect x="541.5" y="84.9" width="34" height="5.6" fill="#88ee22" stroke="#111" stroke-width="0.8"/><text x="584.3" y="92.7" font-family="Liberation Serif, serif" font-size="15" fill="#000">20 mT</text><rect x="541.5" y="104.4" width="34" height="5.6" fill="#ff9f20" stroke="#111" stroke-width="0.8"/><text x="584.3" y="112.2" font-family="Liberation Serif, serif" font-size="15" fill="#000">30 mT</text></svg></body></html>
